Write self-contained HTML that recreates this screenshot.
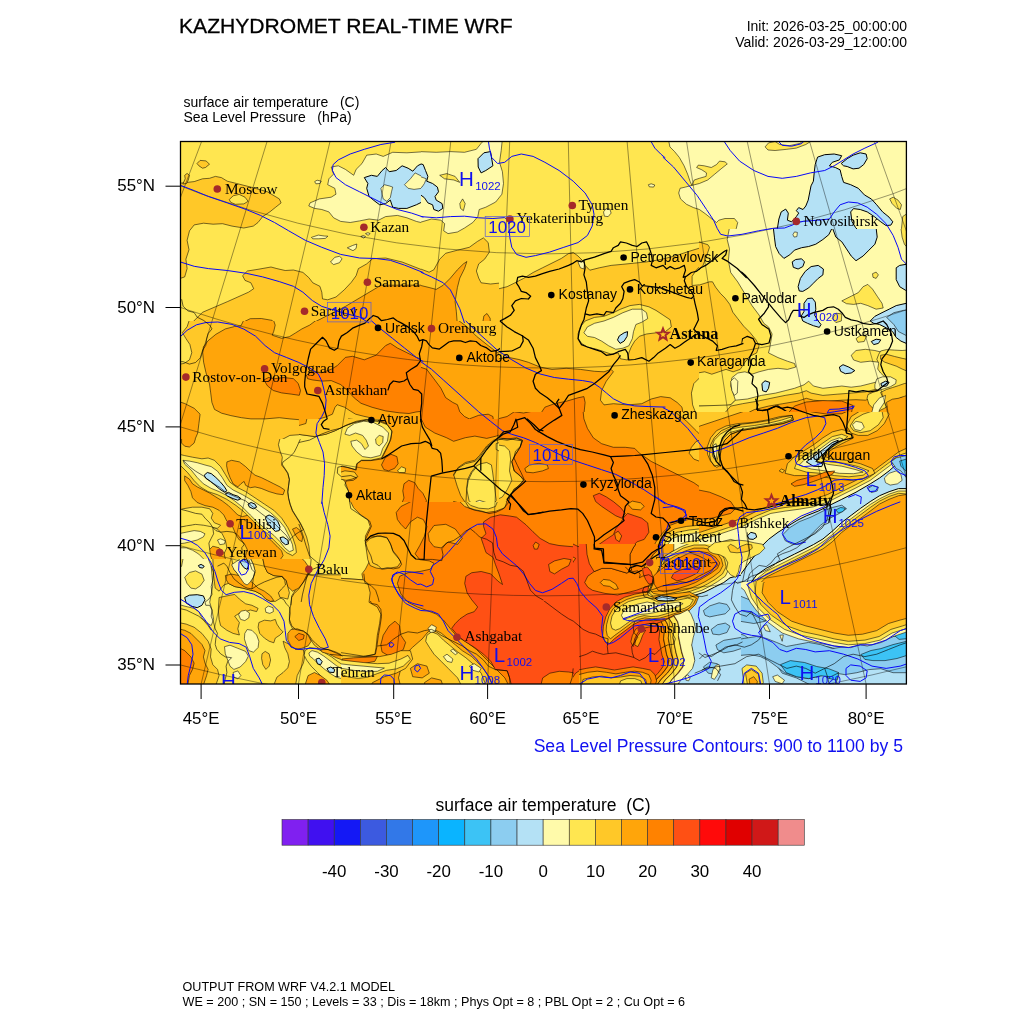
<!DOCTYPE html><html><head><meta charset="utf-8"><title>KAZHYDROMET REAL-TIME WRF</title>
<style>html,body{margin:0;padding:0;background:#fff}svg{display:block}text{font-family:"Liberation Sans",sans-serif;fill:#000}.s{font-family:"Liberation Serif",serif}.b{fill:#1010f0}</style></head><body>
<svg width="1024" height="1024" viewBox="0 0 1024 1024">
<rect width="1024" height="1024" fill="#fff"/>
<defs><clipPath id="mc"><rect x="180.5" y="141.5" width="725.9" height="542.5"/></clipPath></defs>
<g clip-path="url(#mc)">
<rect x="170" y="130" width="750" height="570" fill="#FFC828"/><clipPath id="t1"><rect x="179" y="140" width="244" height="183"/></clipPath><g clip-path="url(#t1)" stroke="#000" stroke-width="0.55" stroke-linejoin="round"><rect x="178.5" y="139.5" width="245" height="184" fill="#FFE650" stroke="none"/><polygon fill="#FFC828" points="177.6,183.5 187.1,182.4 194.2,181.6 202.5,178.8 209.5,178.3 215.4,176.4 221.4,177.6 227.3,181.2 236.7,183.5 250.9,187.1 267.4,191.8 279.3,198.9 281.1,202.9 275.7,207.2 269.8,211.9 262.7,216.6 258.0,222.5 253.3,226.1 243.8,228.0 232.0,226.1 222.5,223.7 213.1,224.2 203.6,223.2 194.2,224.9 189.5,230.8 187.1,240.3 189.0,249.7 185.9,259.2 187.1,268.6 184.7,276.9 177.6,279.3"/><polygon fill="#FFE650" points="229.2,199.6 233.2,195.8 239.1,194.4 245.0,197.2 248.1,201.3 243.8,203.9 235.5,204.3 230.8,202.4"/><polygon fill="#FFC828" points="197.0,163.5 200.1,160.4 206.0,160.9 209.5,164.2 205.5,167.5 202.5,168.2 198.9,165.8"/><polygon fill="#FFC828" points="182.8,184.0 185.2,178.8 184.7,175.3 187.1,173.4 189.5,175.3 188.3,180.0 186.6,183.5"/><polygon fill="#FFFAAA" points="425.8,151.6 406.9,152.8 392.7,152.3 383.2,156.4 376.2,154.0 366.7,155.2 362.0,163.5 356.1,169.4 353.7,175.3 345.4,169.4 338.3,165.8 331.2,167.0 333.6,174.1 328.9,178.8 327.7,184.7 334.8,188.3 336.0,194.2 331.2,197.2 319.4,198.9 310.0,202.9 308.8,206.0 314.7,208.4 321.8,209.5 328.9,211.9 333.6,217.8 340.7,221.4 350.2,222.5 359.6,220.9 369.1,219.0 378.5,220.2 385.6,216.6 397.4,215.4 406.9,217.8 416.3,221.4 425.8,223.7"/><polygon fill="#B4E1F5" stroke-width="1" points="364.3,177.6 371.4,175.3 377.3,176.4 382.1,170.5 385.6,167.5 389.2,171.7 396.2,170.5 402.1,165.8 408.1,168.2 412.8,171.2 417.5,165.8 422.0,163.5 425.8,163.5 425.8,202.4 422.0,202.0 416.3,204.8 406.9,208.4 398.6,208.4 392.7,207.2 390.3,200.1 385.6,203.6 379.7,204.8 375.0,201.3 369.1,196.5 366.7,188.3 367.9,183.5"/><polygon fill="#FFFAAA" points="380.9,188.3 384.4,184.7 389.2,185.9 392.7,187.1 391.5,191.8 390.3,197.7 386.8,201.3 383.2,198.9 382.1,194.2"/><polygon fill="#FFFAAA" points="404.5,184.7 410.4,178.8 415.1,172.9 422.0,176.4 425.8,176.4 425.8,188.3 422.0,188.3 414.0,189.4 408.1,188.3"/><polygon fill="#FFFAAA" points="314.7,181.6 317.1,180.2 321.3,181.2 319.9,183.5 315.9,183.8"/><polygon fill="#FFFAAA" points="311.4,237.4 318.3,235.1 324.2,236.0 327.9,236.2 325.3,238.4 318.3,238.8 312.8,238.8"/><polygon fill="#FFFAAA" points="347.3,247.8 352.5,245.5 356.8,244.0 356.1,248.5 353.0,250.7"/><polygon fill="#FFFAAA" points="330.5,262.0 334.8,257.3 339.5,256.3 342.1,258.7 339.5,262.7 333.6,264.6"/><polygon fill="#FFFAAA" points="360.8,236.5 363.2,235.5 365.5,236.5 363.9,238.1"/><polygon fill="#FFFAAA" points="365.5,233.6 367.9,232.7 370.2,233.6 368.1,235.3"/><polygon fill="#FFC828" points="189.5,325.3 202.5,312.3 227.3,301.7 248.5,292.2 253.7,288.7 250.9,282.8 245.0,280.4 242.6,275.7 247.4,271.0 258.0,269.3 271.0,267.0 276.9,268.6 285.2,270.5 293.4,270.0 302.9,272.4 308.8,277.6 312.8,282.8 319.9,286.3 321.8,292.2 322.5,298.9 327.7,299.8 336.0,297.0 344.2,289.9 351.3,282.3 356.1,275.7 358.4,268.6 366.7,263.9 372.6,258.7 385.6,258.0 402.1,262.0 422.0,269.8 425.8,269.8 425.8,325.3"/><polygon fill="#FFA50A" points="307.6,325.3 314.7,322.0 345.4,306.4 381.1,285.2 422.0,285.2 425.8,285.2 425.8,325.3"/><polygon fill="#FFA50A" points="242.6,325.3 244.0,321.8 250.2,318.7 261.3,318.5 272.2,320.4 275.2,325.3"/></g><clipPath id="t2"><rect x="421" y="140" width="244" height="183"/></clipPath><g clip-path="url(#t2)" stroke="#000" stroke-width="0.55" stroke-linejoin="round"><rect x="420.5" y="139.5" width="245" height="184" fill="#FFE650" stroke="none"/><polygon fill="#FFFAAA" points="419.6,151.6 436.2,152.3 450.4,151.6 464.5,152.3 476.4,149.3 481.1,143.4 485.8,138.6 502.4,138.6 501.2,150.5 499.5,162.3 502.4,171.7 503.5,183.5 501.9,194.2 495.7,202.0 485.8,207.2 479.2,209.5 477.8,216.6 472.8,222.5 464.5,228.0 457.4,232.0 448.0,233.6 443.7,230.8 444.7,223.7 440.9,220.2 431.5,219.0 419.6,222.5"/><polygon fill="#B4E1F5" stroke-width="1" points="419.6,163.5 423.2,164.6 425.5,170.5 427.9,176.4 426.7,181.2 432.6,183.5 437.4,187.1 438.5,191.8 435.0,196.5 436.2,200.1 442.1,203.6 442.8,208.4 438.5,211.2 433.8,209.5 432.6,204.8 427.9,202.9 424.4,197.7 419.6,194.2"/><polygon fill="#FFFAAA" points="419.6,176.4 423.2,177.6 426.3,178.8 424.4,183.5 422.0,187.1 419.6,188.3"/><polygon fill="#B4E1F5" stroke-width="1" points="478.0,158.7 483.9,152.8 490.5,151.6 492.9,165.8 485.8,170.5 481.1,172.9 478.2,167.0"/><polygon fill="#FFE650" points="439.7,175.3 446.8,173.6 455.1,176.4 459.8,182.4 453.9,180.0 444.5,178.8"/><polygon fill="#FFE650" points="459.8,203.6 462.6,198.9 465.2,203.6 463.4,210.7 460.5,208.4"/><polygon fill="#FFFAAA" points="603.5,211.9 606.3,208.4 609.9,209.1 611.1,213.1 608.2,216.6 604.4,216.2"/><polygon fill="#FFFAAA" points="648.4,184.7 651.2,183.8 654.8,185.0 653.6,187.1 649.3,186.8"/><polygon fill="#FFC828" points="419.6,268.6 429.1,272.2 433.8,269.8 439.7,259.2 445.6,253.3 457.4,250.2 469.3,247.3 477.5,241.4 483.4,237.9 488.2,242.6 489.4,252.1 484.6,259.2 478.7,263.9 476.4,271.0 478.7,278.1 481.1,282.8 490.5,284.0 502.4,282.8 516.5,284.0 526.0,280.4 533.1,275.7 537.8,269.8 544.9,265.1 554.3,259.2 563.8,254.4 569.7,250.9 575.6,254.4 579.2,259.2 585.1,261.5 587.4,267.4 601.6,265.1 615.8,262.7 627.6,261.5 639.4,262.0 651.2,263.4 667.8,263.9 667.8,325.3 419.6,325.3"/><polygon fill="#FFFAAA" points="576.8,262.7 582.7,260.3 586.2,263.9 585.1,269.8 580.3,269.8"/><polygon fill="#FFA50A" points="419.6,285.2 429.1,287.5 436.2,289.4 443.3,285.2 450.4,278.1 457.4,269.8 463.4,263.9 466.9,261.5 464.5,268.6 459.8,278.1 457.4,287.5 455.1,301.7 456.3,311.2 457.4,325.3 419.6,325.3"/><polygon fill="#FFA50A" points="482.3,325.3 483.9,315.9 487.0,313.5 490.1,318.2 490.5,325.3"/><polygon fill="#FFE650" points="587.4,325.3 592.2,317.1 606.3,314.7 618.2,311.2 627.6,306.4 639.4,304.1 648.9,304.1 658.3,306.4 664.0,310.0 667.8,311.2 667.8,325.3"/><polygon fill="#FFFAAA" points="620.5,325.3 622.9,317.1 632.3,312.3 641.8,309.3 648.9,310.0 652.4,314.7 658.3,317.1 664.0,318.2 667.8,318.2 667.8,325.3"/></g><clipPath id="t3"><rect x="663" y="140" width="244" height="183"/></clipPath><g clip-path="url(#t3)" stroke="#000" stroke-width="0.55" stroke-linejoin="round"><rect x="662.5" y="139.5" width="245" height="184" fill="#FFFAAA" stroke="none"/><polygon fill="#FFE650" points="661.6,138.6 668.3,138.6 669.9,146.9 674.6,151.6 679.4,157.5 684.1,165.8 687.6,174.1 690.0,181.2 691.9,185.4 699.4,183.5 707.7,180.0 714.8,174.1 721.9,168.2 727.3,163.9 725.0,161.8 719.5,161.1 716.5,164.6 711.3,167.5 704.2,165.8 698.3,165.1 696.6,167.5 701.8,169.8 706.5,172.9 706.1,176.4 699.4,178.3 694.2,180.0 691.9,185.4 685.3,187.1 680.1,188.3 678.7,193.0 680.5,198.9 686.5,204.3 693.5,207.6 699.4,209.5 705.4,213.8 711.3,218.5 716.5,222.5 718.8,220.2 725.0,218.5 734.4,218.5 737.7,222.5 736.3,228.4 733.0,233.6 728.3,236.2 727.3,241.2 732.8,245.0 732.8,251.4 729.7,260.6 728.0,268.4 731.4,276.2 737.5,280.9 740.6,287.3 743.6,295.1 748.4,304.3 751.7,312.1 756.2,318.5 759.9,326.3 661.6,326.3"/><polygon fill="#FFC828" points="661.6,257.5 678.2,252.8 693.8,248.1 707.7,244.7 709.4,247.3 706.3,257.5 703.0,265.3 696.8,271.7 692.1,276.2 692.1,285.6 699.9,284.7 709.4,281.6 712.4,281.6 715.5,287.3 720.2,293.4 725.0,298.2 729.7,304.3 732.8,312.1 737.5,318.5 743.6,326.3 661.6,326.3"/><polygon fill="#B4E1F5" stroke-width="1" points="817.6,157.1 824.7,154.7 834.2,154.0 841.7,155.7 839.4,159.9 832.3,162.3 829.4,165.8 835.3,167.5 840.1,169.8 841.7,176.4 843.6,182.4 850.7,184.7 858.3,188.3 864.4,194.9 871.5,199.1 876.7,204.8 882.6,211.9 889.0,217.1 892.8,221.8 890.9,225.1 886.1,225.6 880.2,221.4 874.3,216.6 867.2,211.9 860.2,209.5 853.5,208.6 850.7,211.9 851.9,221.4 855.4,227.3 860.6,233.2 867.7,234.3 875.5,232.7 877.9,236.0 875.5,243.1 869.6,249.7 864.4,254.9 857.8,259.2 851.9,260.3 848.3,256.8 847.2,249.7 843.6,243.1 837.7,239.1 832.3,236.7 829.4,233.2 824.7,232.2 817.6,235.5 811.0,240.3 803.4,245.0 795.4,249.7 788.5,251.6 785.7,256.8 779.8,259.6 775.5,256.8 776.5,250.9 774.1,245.0 775.1,237.9 777.4,228.4 778.9,219.0 781.2,211.9 785.7,209.1 788.3,213.1 787.4,220.2 791.6,221.8 796.3,216.6 798.7,213.1 796.3,210.7 798.7,207.6 803.0,209.5 805.8,206.0 808.2,200.1 809.6,193.0 811.0,185.9 813.4,181.2 814.3,171.7 815.2,164.6 816.7,159.9"/><polygon fill="#FFFAAA" points="792.8,235.5 795.2,232.0 798.2,232.7 796.8,237.4 793.5,237.9"/><polygon fill="#B4E1F5" stroke-width="1" points="841.2,163.5 847.2,158.7 853.1,155.2 860.2,152.8 866.1,154.0 867.2,158.7 863.7,164.6 859.0,168.2 853.1,168.9 847.2,166.5 843.6,165.8"/><polygon fill="#B4E1F5" stroke-width="1" points="792.8,263.9 796.3,259.9 802.3,258.7 804.9,261.5 802.3,266.3 797.5,269.1 794.0,267.4"/><polygon fill="#B4E1F5" stroke-width="1" points="799.2,285.2 801.1,278.1 805.8,272.2 811.7,267.4 817.6,265.8 820.0,269.8 823.5,271.0 821.9,276.9 815.2,280.4 810.5,285.2 805.8,288.7 801.1,291.1"/><polygon fill="#B4E1F5" stroke-width="1" points="805.3,306.4 807.0,300.5 810.5,297.4 814.1,299.3 814.8,306.4 813.4,315.9 815.2,325.3 805.8,325.3 805.3,315.9"/><polygon fill="#B4E1F5" stroke-width="1" points="909.8,262.7 902.7,265.1 898.0,269.8 896.8,278.1 899.1,285.2 902.7,288.7 909.8,289.9"/><polygon fill="#B4E1F5" stroke-width="1" points="872.0,325.3 876.7,317.1 883.8,311.2 892.1,306.4 900.3,304.1 905.1,299.3 909.8,292.2 909.8,325.3"/><polygon fill="#8CCDF0" points="892.1,325.3 894.4,317.1 900.3,311.2 906.0,310.0 909.8,310.0 909.8,325.3"/><polygon fill="#FFE650" points="765.1,146.9 768.5,142.9 775.1,141.5 779.8,144.5 789.3,145.7 799.9,143.4 805.8,138.6 815.2,138.6 805.8,144.5 796.3,148.1 786.9,149.3 775.1,150.5 768.0,150.0"/><polygon fill="#FFE650" points="889.7,198.9 893.2,197.2 898.0,200.1 901.5,204.8 900.3,209.5 896.8,208.4 892.1,203.6"/><polygon fill="#FFE650" points="902.7,216.6 906.0,214.3 909.8,214.3 909.8,245.0 903.9,245.0 900.3,237.9 901.5,228.4"/><polygon fill="#FFE650" points="840.1,302.9 847.2,299.3 853.1,294.6 857.8,294.1 856.6,301.7 853.1,305.2 846.0,304.5"/><polygon fill="#FFE650" points="857.8,292.2 861.3,287.5 867.2,284.0 872.0,288.7 875.5,294.6 880.2,300.5 882.6,306.4 877.9,309.3 869.6,306.4 863.7,302.9 861.3,298.2"/><polygon fill="#FFE650" points="872.4,274.5 875.5,272.2 878.6,274.5 876.7,278.5 873.9,277.6"/></g><clipPath id="t4"><rect x="179" y="321" width="244" height="183"/></clipPath><g clip-path="url(#t4)" stroke="#000" stroke-width="0.55" stroke-linejoin="round"><rect x="178.5" y="320.5" width="245" height="184" fill="#FFC828" stroke="none"/><polygon fill="#FFA50A" points="244.0,319.6 241.0,325.8 234.6,326.5 225.4,328.9 215.9,334.3 208.1,340.7 203.4,346.8 202.7,352.7 203.6,362.2 206.0,372.8 209.5,383.9 210.7,392.9 211.9,402.4 214.5,409.4 221.6,413.2 230.8,415.6 241.4,417.7 250.9,418.9 265.1,418.9 279.3,417.7 289.9,418.9 298.2,419.6 306.4,421.0 317.3,419.6 325.6,417.0 332.4,414.2 335.0,407.3 337.2,404.7 344.7,407.3 350.2,410.9 355.6,414.2 363.9,416.3 369.3,417.5 376.2,421.3 385.6,426.0 388.0,435.4 383.2,454.3 378.5,457.9 366.7,457.9 359.6,460.3 354.9,463.8 353.7,473.2 359.6,480.3 361.0,485.3 351.6,487.9 347.3,489.3 348.7,493.6 350.2,499.0 350.9,506.3 425.8,506.3 425.8,319.6 317.1,319.6 309.7,325.1 301.9,328.9 295.6,332.9 289.4,336.7 281.6,338.3 272.2,335.2 273.8,331.2 275.2,325.1 273.3,319.6"/><polygon fill="#FF8200" points="263.9,379.9 268.6,377.5 274.5,378.7 284.0,377.5 293.4,378.7 298.2,383.4 300.5,390.5 299.3,395.3 291.1,394.1 281.6,392.9 273.3,390.5 267.4,385.8"/><polygon fill="#FF8200" points="306.4,375.2 312.3,371.2 321.8,372.8 331.2,369.3 337.2,365.7 345.4,357.4 352.5,356.3 364.3,359.8 376.2,355.1 385.6,345.6 390.3,343.3 397.4,348.0 406.9,352.7 416.3,357.4 425.8,361.0 425.8,411.3 421.3,411.3 415.9,412.0 409.0,413.5 399.3,412.8 385.6,410.9 372.1,407.3 361.0,403.3 354.2,397.9 347.3,390.3 340.7,384.6 331.2,380.6 321.8,381.1 312.3,379.9 307.6,378.7"/><polygon fill="#FF8200" points="381.3,465.4 385.7,462.0 387.8,456.6 391.9,454.5 396.0,455.2 398.7,460.7 396.6,464.8 394.6,468.9 391.2,471.6 385.7,470.2 382.3,468.2"/><polygon fill="#FFE650" points="396.4,470.9 400.7,468.2 404.8,466.8 405.9,470.2 404.2,473.0 399.4,473.0"/><polygon fill="#FF8200" points="402.1,486.6 406.2,481.2 410.3,480.5 414.4,485.3 418.5,490.7 423.3,497.6 426.7,507.1 404.2,507.1 403.5,496.2"/><polygon fill="#FFC828" points="337.9,474.3 342.0,473.0 348.8,474.3 354.3,475.7 359.7,481.2 361.8,486.0 355.6,487.3 350.2,489.4 347.4,488.0 344.7,482.5 340.6,479.8"/><polygon fill="#FFE650" points="286.3,506.3 289.2,494.5 290.6,485.1 287.5,475.6 285.2,466.2 281.6,462.6 277.4,454.3 278.1,446.1 282.1,439.5 289.9,435.4 302.4,434.5 314.7,434.0 322.7,431.2 328.2,429.3 335.0,426.5 341.9,423.6 344.7,421.0 348.7,418.9 354.2,419.6 362.4,419.8 369.3,419.6 377.6,422.4 385.6,425.0 391.3,429.3 391.8,434.7 390.6,441.6 387.7,448.4 384.4,453.9 385.6,457.9 383.0,461.9 377.6,458.6 366.5,458.6 359.6,460.7 355.6,464.7 350.2,467.6 344.7,464.7 337.9,461.9 336.4,467.6 339.3,474.4 344.7,481.0 347.3,489.3 348.7,493.6 350.2,499.0 350.9,507.0"/><polygon fill="#FFFAAA" points="344.7,427.2 350.2,423.8 358.4,421.7 366.6,422.4 372.0,425.1 377.5,429.2 383.0,432.0 385.7,437.4 385.7,444.3 384.3,451.1 380.2,455.2 372.0,457.2 363.8,457.2 358.4,453.8 354.3,451.1 351.5,448.4 349.5,445.6 352.2,442.2 355.6,442.9 359.7,447.0 363.8,449.7 365.2,447.0 362.5,442.9 361.1,437.4 358.4,433.3 352.9,431.3 347.4,429.9"/><polygon fill="#FFE650" points="374.5,440.2 376.8,437.1 379.6,436.7 380.2,440.2 378.9,444.3 375.4,445.6"/><polygon fill="#FFA50A" points="177.6,401.2 184.7,403.5 194.2,408.3 200.1,414.2 198.9,423.6 197.7,433.1 194.2,441.3 187.1,446.1 177.6,447.3"/><polygon fill="#FFE650" points="177.6,455.5 185.9,459.1 195.4,461.4 203.6,459.5 209.5,463.8 219.0,469.7 227.3,475.6 235.5,483.9 243.8,488.6 250.9,494.5 258.0,501.6 261.5,506.3 227.3,506.3 215.4,496.9 203.6,487.4 194.2,479.2 187.1,473.2 177.6,466.2"/><polygon fill="#FFFAAA" points="184.7,463.8 191.8,462.6 201.3,466.2 210.7,469.7 219.0,475.6 227.3,482.7 236.7,489.8 243.8,495.7 248.5,501.6 246.2,505.2 236.7,501.6 227.3,495.7 217.8,487.4 208.4,480.3 198.9,474.4 189.5,468.5"/><polygon fill="#B4E1F5" stroke-width="1" points="204.8,474.4 209.5,472.8 215.4,476.8 221.4,482.7 227.3,488.6 234.4,493.3 241.4,498.1 239.1,500.4 232.0,498.1 224.9,493.3 217.8,487.4 210.7,481.5 206.0,478.0"/><polygon fill="#FFA50A" points="226.1,463.8 230.8,461.0 239.1,461.4 246.2,465.0 250.9,473.2 258.0,478.0 267.4,482.7 276.9,487.4 284.0,491.0 285.2,494.5 279.3,495.7 269.8,493.3 260.4,489.8 250.9,487.4 243.8,485.1 239.1,487.4 233.2,482.7 228.4,475.6 226.1,469.7"/><polygon fill="#FFE650" points="177.6,319.6 189.5,319.6 187.1,326.7 182.4,332.6 185.9,338.5 189.9,344.5 191.8,352.7 189.5,359.8 184.3,363.4 177.6,364.5"/></g><clipPath id="t5"><rect x="421" y="321" width="244" height="183"/></clipPath><g clip-path="url(#t5)" stroke="#000" stroke-width="0.55" stroke-linejoin="round"><rect x="420.5" y="320.5" width="245" height="184" fill="#FFA50A" stroke="none"/><polygon fill="#FFC828" points="457.4,319.6 466.9,326.7 476.4,336.2 488.2,345.6 497.6,352.7 509.4,356.3 521.3,357.4 533.1,359.8 542.5,364.5 549.6,365.7 559.1,364.5 568.5,362.2 582.7,362.2 596.9,364.5 604.0,368.1 608.7,370.4 611.1,372.8 606.3,378.7 601.6,385.8 600.4,395.3 601.6,401.2 611.1,403.5 625.2,401.2 634.7,400.0 644.1,396.4 653.6,395.3 664.0,396.4 667.8,396.4 667.8,319.6"/><polygon fill="#FF8200" points="419.6,366.9 426.7,369.3 433.8,378.7 440.9,388.2 445.6,397.6 452.7,402.4 457.4,404.7 459.8,411.8 464.5,416.5 469.3,418.9 478.7,415.3 488.2,414.2 492.9,416.5 494.1,426.0 492.9,430.7 497.6,429.5 504.7,423.6 511.8,416.5 515.3,413.0 516.5,417.7 526.0,416.5 535.4,414.2 542.5,409.4 549.6,405.9 556.7,404.7 563.8,402.4 573.2,401.2 579.2,398.8 583.9,396.4 585.1,402.4 583.9,411.8 585.1,421.3 587.4,428.3 592.2,435.4 599.2,442.5 608.7,446.1 618.2,448.4 630.0,448.4 637.1,449.6 638.2,453.2 644.1,456.7 651.2,461.4 658.3,463.8 667.8,466.2 667.8,506.3 511.8,506.3 514.2,496.9 516.5,487.4 521.3,482.7 523.6,478.0 518.9,473.2 516.5,463.8 511.8,459.1 513.0,449.6 518.9,444.9 521.3,440.2 511.8,437.8 502.4,436.6 495.3,439.0 488.2,440.2 481.1,439.0 474.0,437.8 464.5,436.6 457.4,439.0 448.0,441.3 436.2,437.8 426.7,433.1 419.6,429.5"/><polygon fill="#FFC828" points="492.9,442.5 502.4,439.0 511.8,438.3 521.3,440.2 518.9,444.9 513.0,449.6 511.8,459.1 516.5,463.8 518.9,473.2 523.6,478.0 521.3,482.7 516.5,487.4 514.2,496.9 509.4,506.3 464.5,506.3 462.2,496.9 459.8,487.4 457.4,482.7 465.7,475.6 472.8,466.2 478.7,459.1 484.6,450.8 489.4,446.1"/><polygon fill="#FFE650" points="469.3,506.3 466.9,496.9 465.7,487.4 468.1,478.0 472.8,468.5 477.5,462.6 484.6,461.4 490.5,466.2 492.9,475.6 497.6,482.7 504.7,487.4 509.4,492.2 511.8,498.1 508.3,506.3"/><polygon fill="#FFC828" points="524.8,469.7 528.3,465.7 535.4,463.3 544.9,462.9 548.4,465.0 546.1,469.0 539.0,472.1 530.7,473.2 526.0,472.8"/><polygon fill="#FFC828" points="519.4,405.2 522.4,404.2 526.0,405.2 523.1,406.6"/><polygon fill="#FFC828" points="529.5,405.2 531.9,404.2 534.5,405.2 532.1,406.4"/><polygon fill="#FF5014" points="593.3,498.1 596.9,494.0 602.8,494.5 608.7,498.8 614.6,503.0 618.2,506.3 594.5,506.3"/><polygon fill="#FFE650" points="576.8,319.6 578.0,329.1 579.2,338.5 582.7,345.6 587.4,349.2 596.9,351.5 606.3,353.9 615.8,355.1 622.9,359.8 629.5,361.0 630.4,352.7 634.7,345.6 640.6,336.2 643.0,319.6"/><polygon fill="#FFFAAA" points="582.7,319.6 583.9,329.1 587.4,335.0 596.9,339.7 606.3,345.6 613.4,351.5 620.5,350.4 627.6,345.6 632.3,338.5 635.9,331.5 638.2,319.6"/><polygon fill="#B4E1F5" stroke-width="1" points="617.7,340.9 619.3,335.0 624.1,331.9 628.1,331.5 627.6,336.2 624.1,342.1 620.5,344.5"/></g><clipPath id="t6"><rect x="663" y="321" width="123" height="93"/></clipPath><g clip-path="url(#t6)" stroke="#000" stroke-width="0.55" stroke-linejoin="round"><rect x="662.5" y="320.5" width="124" height="94" fill="#FFC828" stroke="none"/><polygon fill="#FFE650" points="684.7,414.2 685.3,410.6 687.6,407.1 692.4,405.9 695.9,403.5 695.9,397.6 692.4,392.9 691.8,388.2 694.7,383.4 699.4,382.3 704.2,381.1 705.4,377.5 701.8,374.0 699.4,370.4 701.8,368.7 705.4,369.3 710.1,372.2 713.6,372.2 717.2,369.3 719.5,367.5 716.0,365.7 711.3,362.2 707.7,357.4 708.3,352.7 713.6,348.6 719.5,344.5 725.4,340.9 730.2,340.9 733.7,343.3 737.3,346.8 746.7,348.6 756.2,349.8 764.4,348.6 768.0,345.6 765.6,340.9 760.9,337.4 756.2,333.8 751.4,330.3 746.7,325.5 742.0,323.2 739.6,320.8 786.9,320.8 786.9,414.2"/><polygon fill="#FFC828" points="734.9,414.2 739.6,409.4 746.7,407.1 753.8,406.5 758.5,404.7 765.6,403.5 772.7,401.2 779.8,398.8 786.9,397.6 786.9,414.2"/><polygon fill="#FFA50A" points="760.9,414.2 765.6,410.6 772.7,409.4 779.8,408.9 786.9,407.7 786.9,414.2"/><polygon fill="#FFFAAA" points="731.9,376.4 734.9,374.0 737.3,377.5 739.6,381.1 743.2,377.5 746.7,372.8 750.3,371.0 755.0,369.3 760.9,366.9 766.8,365.1 772.7,366.9 777.4,370.4 782.2,371.6 785.0,369.3 786.9,369.3 786.9,377.5 782.2,378.7 781.0,383.4 777.4,387.0 779.8,391.7 775.1,394.1 770.3,396.4 765.6,398.8 758.5,398.8 751.4,397.6 746.7,395.9 742.0,398.8 737.3,401.2 733.7,397.6 732.5,391.7 733.1,385.8 731.9,381.1"/><polygon fill="#FFFAAA" points="770.3,320.8 772.7,326.7 770.3,331.5 772.7,337.4 776.3,343.3 781.0,346.8 782.2,352.7 784.5,358.6 786.9,361.0 786.9,320.8"/><polygon fill="#FFFAAA" points="724.9,355.1 726.6,353.0 730.2,352.5 732.5,354.5 730.8,356.9 727.2,357.7"/><polygon fill="#B4E1F5" stroke-width="1" points="762.7,381.1 764.4,380.5 769.8,383.4 768.0,388.2 766.8,391.7 762.7,391.1 762.1,385.8"/><polygon fill="#FFA50A" points="662.8,397.6 668.7,396.4 674.6,394.7 679.4,395.3 682.3,397.6 680.5,401.2 677.0,404.7 675.2,409.4 674.6,414.2 662.8,414.2"/></g><clipPath id="t7"><rect x="784" y="321" width="123" height="93"/></clipPath><g clip-path="url(#t7)" stroke="#000" stroke-width="0.55" stroke-linejoin="round"><rect x="783.5" y="320.5" width="124" height="94" fill="#FFFAAA" stroke="none"/><polygon fill="#FFE650" points="783.8,381.1 789.7,384.6 795.6,388.2 801.5,391.7 806.3,388.2 808.0,381.1 811.0,379.3 815.7,381.1 822.8,383.4 829.9,384.6 835.8,386.4 839.9,389.9 839.4,392.9 844.1,391.7 851.2,390.5 858.3,388.2 861.8,386.4 866.5,383.4 864.8,381.1 868.9,378.7 874.8,376.4 879.5,374.0 883.1,371.6 881.9,366.9 880.7,362.2 879.5,357.4 881.3,353.3 885.4,351.0 891.3,349.8 898.4,349.8 907.9,349.2 907.9,414.2 783.8,414.2"/><polygon fill="#FFC828" points="783.8,391.7 789.7,392.9 796.8,394.3 802.7,392.9 808.6,390.5 813.4,391.1 819.3,394.1 826.4,395.9 834.6,396.7 841.7,395.9 848.8,394.7 855.9,394.1 863.0,393.5 867.7,392.9 866.5,398.8 867.7,404.7 872.4,404.7 879.5,400.0 885.4,397.6 891.3,394.1 897.3,388.2 896.1,381.1 891.3,376.4 886.6,374.0 884.3,369.3 883.1,363.4 881.9,357.4 883.1,354.5 891.3,353.9 898.4,353.3 907.9,352.7 907.9,414.2 783.8,414.2"/><polygon fill="#FFA50A" points="783.8,404.7 789.7,401.2 796.8,399.4 803.9,400.0 811.0,398.8 818.1,400.0 825.2,400.6 832.3,400.0 839.4,399.4 848.8,398.8 855.9,399.4 861.8,398.8 863.6,403.5 863.0,409.4 861.8,414.2 783.8,414.2"/><polygon fill="#FFA50A" points="886.6,414.2 887.2,407.1 889.0,402.4 893.7,400.0 899.6,397.6 907.9,394.1 907.9,414.2"/><polygon fill="#FFFAAA" points="874.8,383.4 878.3,378.7 884.3,376.9 891.3,376.4 896.1,378.7 896.7,382.3 891.3,385.8 885.4,388.2 879.5,389.4 876.0,388.2"/><polygon fill="#FFFAAA" points="869.5,401.2 871.9,395.3 874.8,391.1 879.5,390.5 880.7,394.1 877.2,398.8 873.6,402.4 870.7,403.5"/><polygon fill="#B4E1F5" stroke-width="1" points="880.7,383.4 884.3,381.7 887.8,381.1 889.6,383.4 885.4,385.2 881.9,384.9"/><polygon fill="#FFE650" points="851.8,356.3 853.5,352.1 858.3,350.1 864.2,351.0 867.7,353.9 870.1,358.6 872.4,363.4 870.1,366.3 865.4,365.7 860.6,364.5 855.9,362.2 852.9,359.8"/><polygon fill="#FFE650" points="857.3,339.7 860.6,336.8 864.4,338.0 863.0,340.9 858.9,341.9"/><polygon fill="#FFE650" points="783.8,363.4 792.1,362.8 796.8,363.9 796.2,366.3 792.1,367.5 783.8,368.1"/><polygon fill="#B4E1F5" stroke-width="1" points="839.4,365.7 841.7,364.3 846.4,365.7 851.2,367.5 854.7,369.0 851.2,371.0 846.4,373.4 842.9,371.6 840.3,368.7"/><polygon fill="#B4E1F5" stroke-width="1" points="871.9,343.3 874.8,340.9 880.7,339.5 879.5,342.1 876.6,344.2 873.0,344.5"/><polygon fill="#B4E1F5" stroke-width="1" points="802.7,320.8 805.1,322.6 809.8,325.0 815.7,326.7 819.3,325.5 820.4,322.6 818.1,320.8"/><polygon fill="#B4E1F5" stroke-width="1" points="871.3,320.8 874.8,324.4 879.5,326.1 883.1,324.4 885.4,322.0 889.0,320.8"/><polygon fill="#B4E1F5" stroke-width="1" points="891.3,320.8 891.9,326.7 891.3,332.6 894.9,338.5 898.4,344.5 903.2,342.1 907.9,339.7 907.9,320.8"/><polygon fill="#8CCDF0" points="898.4,329.1 903.2,327.9 907.9,329.1 907.9,338.5 903.2,339.7 899.6,336.2"/></g><clipPath id="t8"><rect x="663" y="411" width="123" height="93"/></clipPath><g clip-path="url(#t8)" stroke="#000" stroke-width="0.55" stroke-linejoin="round"><rect x="662.5" y="410.5" width="124" height="94" fill="#FFA50A" stroke="none"/><polygon fill="#FFC828" points="675.8,410.8 679.4,417.9 687.6,423.8 694.7,425.9 701.8,422.9 708.9,419.3 714.8,417.3 719.5,419.1 723.1,422.6 727.8,423.8 734.9,421.5 742.0,417.9 749.1,414.4 753.8,410.8"/><polygon fill="#FFE650" points="691.2,410.8 694.7,414.4 700.6,415.5 705.4,413.2 707.7,410.8"/><polygon fill="#FFE650" points="721.9,410.8 724.3,413.8 729.0,415.0 734.9,413.8 739.6,410.8"/><polygon fill="#FFC828" points="688.8,452.2 690.6,446.3 693.5,442.1 699.4,441.0 705.4,439.2 711.3,435.6 716.0,432.1 720.7,427.4 725.4,424.4 730.2,423.8 737.3,422.6 746.7,421.5 753.8,423.2 760.9,423.8 765.6,426.2 770.3,423.8 775.1,422.6 782.2,419.1 786.9,415.5 786.9,426.2 782.2,428.5 776.3,432.1 770.3,430.9 763.3,429.7 756.2,432.1 749.1,433.3 742.0,435.0 734.9,438.0 730.2,441.5 727.8,446.3 723.1,448.6 721.9,453.4 722.5,459.3 721.9,465.2 720.7,469.9 718.4,473.4 713.6,476.4 708.9,476.4 704.2,473.4 699.4,469.9 694.7,465.2 690.6,459.3"/><polygon fill="#FFE650" points="708.3,451.0 709.5,446.3 711.3,442.7 714.8,438.6 719.5,433.3 724.3,428.5 729.0,425.9 734.9,424.4 744.4,423.2 751.4,423.8 758.5,425.0 765.6,424.4 772.7,423.2 779.8,420.9 786.9,417.9 786.9,423.8 781.0,426.2 775.1,428.5 768.0,428.0 760.9,427.4 753.8,428.0 746.7,427.4 739.6,428.5 734.9,429.7 730.2,433.3 726.6,438.0 723.1,442.7 720.7,447.4 720.1,453.4 720.7,459.3 719.5,464.0 716.0,465.8 712.4,462.8 709.5,458.1"/><polygon fill="#FFFAAA" points="710.1,452.2 710.7,447.4 712.4,443.9 716.0,443.3 718.4,446.3 717.8,451.0 716.0,454.5 716.6,459.3 715.4,461.6 713.0,460.4 711.3,456.9"/><polygon fill="#FF8200" points="662.8,468.7 668.7,471.1 675.8,474.6 682.9,477.0 690.0,479.4 695.9,481.7 699.4,485.3 704.2,487.6 711.3,488.8 716.0,491.2 720.7,494.7 725.4,499.4 727.8,504.2 662.8,504.2"/><polygon fill="#FFC828" points="778.4,471.1 780.4,469.3 783.3,469.9 783.9,471.7 781.6,472.9 779.2,472.5"/><polygon fill="#FFFAAA" points="770.3,504.2 775.1,501.2 779.8,498.9 785.0,496.5 786.9,495.9 786.9,504.2"/><polygon fill="#B4E1F5" stroke-width="1" points="777.4,504.2 781.0,500.6 785.0,498.9 786.9,498.3 786.9,504.2"/></g><clipPath id="t9"><rect x="784" y="411" width="123" height="93"/></clipPath><g clip-path="url(#t9)" stroke="#000" stroke-width="0.55" stroke-linejoin="round"><rect x="783.5" y="410.5" width="124" height="94" fill="#FFA50A" stroke="none"/><polygon fill="#FFC828" points="783.8,465.2 788.5,456.9 794.5,448.6 802.7,443.3 811.0,438.6 819.3,433.3 826.4,428.0 834.6,425.2 841.7,426.2 847.6,429.7 852.9,437.4 851.2,440.4 844.1,442.7 837.0,446.3 832.3,449.8 846.4,451.0 860.6,452.8 870.1,454.5 867.7,461.6 858.3,462.8 848.8,461.6 840.5,461.0 832.3,461.6 825.2,464.0 816.9,466.4 808.6,467.5 800.4,467.5 792.1,469.9 787.4,473.4 783.8,478.2"/><polygon fill="#FFC828" points="844.1,426.2 846.4,419.1 851.2,414.4 857.1,410.8 887.8,410.8 885.4,419.1 881.9,426.2 876.0,432.1 868.9,435.6 861.8,437.4 854.7,436.8 848.8,433.3 845.3,429.7"/><polygon fill="#FFE650" points="847.6,423.8 849.4,419.1 853.5,415.5 859.4,413.2 865.4,410.8 879.5,410.8 879.5,416.7 877.2,422.6 872.4,428.5 866.5,432.7 860.6,434.5 854.7,433.3 850.0,429.7"/><polygon fill="#FFFAAA" points="851.2,423.8 853.5,420.9 857.1,421.5 860.6,425.0 863.0,429.1 860.6,431.5 857.1,429.7 853.5,427.4"/><polygon fill="#FFC828" points="783.8,414.4 788.5,413.8 793.3,415.5 793.9,419.1 790.9,422.6 787.4,425.0 783.8,426.2"/><polygon fill="#FFFAAA" points="785.6,416.7 788.5,415.5 790.9,417.3 789.7,419.7 786.2,420.3"/><polygon fill="#FFC828" points="851.2,440.4 860.6,439.4 870.1,441.5 879.5,444.5 889.0,446.3 898.4,446.3 907.9,445.1 907.9,504.2 832.3,504.2 834.6,499.4 840.5,494.7 848.8,490.6 855.9,487.6 863.0,485.3 870.1,481.7 874.8,477.0 878.3,472.3 879.5,468.7 874.8,464.0 870.1,459.3 867.7,454.5 860.6,452.8 855.9,447.4 851.2,443.9"/><polygon fill="#FFA50A" points="864.2,443.0 867.7,439.8 879.5,438.6 891.3,435.6 907.9,432.1 907.9,440.4 898.4,443.3 889.0,445.1 879.5,446.3 870.1,445.7"/><polygon fill="#FFE650" points="860.6,451.0 870.1,449.8 879.5,448.6 891.3,448.0 907.9,447.4 907.9,504.2 841.7,504.2 844.1,498.3 851.2,493.5 858.3,490.0 865.4,487.6 872.4,484.1 878.3,479.4 880.7,474.6 879.5,469.9 876.0,465.2 871.3,460.4 867.7,455.7"/><polygon fill="#FFFAAA" points="867.7,452.8 874.8,451.6 884.3,451.6 893.7,452.2 907.9,452.2 907.9,504.2 851.2,504.2 853.5,499.4 858.3,494.7 865.4,491.2 872.4,488.8 879.5,485.3 884.3,480.5 885.4,475.8 883.1,469.9 879.5,465.2 874.8,459.3 871.3,455.7"/><polygon fill="#B4E1F5" stroke-width="1" points="870.1,455.7 877.2,453.9 886.6,454.5 896.1,455.7 907.9,455.1 907.9,494.7 903.2,493.5 898.4,487.6 894.9,482.9 891.3,478.2 893.7,473.4 891.3,468.7 886.6,464.0 881.9,459.3 876.0,457.5"/><polygon fill="#B4E1F5" stroke-width="1" points="855.9,504.2 859.4,498.3 865.4,494.7 872.4,492.4 879.5,490.0 886.6,487.6 891.3,485.3 896.1,487.6 900.8,492.4 907.9,494.7 907.9,504.2"/><polygon fill="#FFFAAA" points="881.9,468.7 886.6,467.5 891.3,469.9 894.9,473.4 896.1,478.2 898.4,482.9 896.1,486.4 891.3,487.6 886.6,486.4 884.3,482.9 887.8,479.4 889.0,475.8 886.6,472.3"/><polygon fill="#8CCDF0" points="891.3,461.6 896.1,458.7 903.2,457.5 907.9,458.1 907.9,478.2 903.2,475.8 898.4,471.1 893.7,466.4"/><polygon fill="#3CC3F5" points="896.7,461.6 900.8,459.9 907.9,460.4 907.9,468.7 902.0,467.5 898.4,465.2"/><polygon fill="#8CCDF0" points="866.5,488.8 870.1,486.4 874.8,485.9 878.3,487.6 877.2,491.2 872.4,492.9 867.7,492.4"/><polygon fill="#8CCDF0" points="841.7,504.2 846.4,499.4 853.5,496.5 859.4,495.3 860.6,498.3 857.1,501.8 854.7,504.2"/><polygon fill="#FFFAAA" points="860.6,504.2 867.7,499.4 877.2,496.5 886.6,494.7 896.1,493.5 907.9,493.5 907.9,504.2"/><polygon fill="#FFE650" points="865.4,504.2 872.4,500.0 881.9,497.7 891.3,496.5 907.9,495.9 907.9,504.2"/><polygon fill="#FFC828" points="879.5,504.2 886.6,500.6 896.1,498.9 907.9,498.3 907.9,504.2"/><polygon fill="#FFE650" points="795.6,461.6 796.8,455.7 801.5,449.8 808.6,445.1 816.9,439.8 824.0,434.5 828.7,430.9 834.6,429.7 840.5,431.5 845.3,435.6 841.7,439.8 835.8,442.7 829.9,446.3 825.2,449.8 832.3,451.6 844.1,452.2 855.9,453.4 866.5,455.1 865.4,459.3 855.9,459.9 844.1,459.3 832.3,459.3 820.4,461.6 808.6,464.0 800.4,465.2"/><polygon fill="#FFFAAA" points="800.4,459.3 802.7,454.5 808.6,449.8 815.7,445.1 822.8,439.8 828.7,435.0 833.4,433.3 838.2,434.5 840.5,437.4 835.8,440.4 829.9,443.3 825.2,446.9 820.4,451.0 826.4,452.8 838.2,453.9 850.0,455.1 860.6,456.3 860.6,458.7 850.0,458.1 838.2,457.5 826.4,458.1 814.5,461.0 805.1,462.2"/><polygon fill="#B4E1F5" stroke-width="1" points="805.1,458.1 807.5,453.4 813.4,449.2 819.3,445.1 825.2,441.0 830.5,436.8 834.6,435.6 837.0,437.4 832.3,441.0 826.4,445.1 821.6,448.6 818.1,452.2 824.0,454.5 822.8,458.1 816.9,459.3 809.8,460.4"/><polygon fill="#FF8200" points="790.9,481.7 796.8,478.2 803.9,475.8 811.0,473.4 820.4,471.1 829.9,469.9 834.6,471.1 832.3,474.6 825.2,478.2 818.1,480.5 811.0,482.9 803.9,485.3 796.8,486.4 792.1,485.3"/><polygon fill="#FFE650" points="813.4,494.7 816.9,490.0 824.0,487.6 832.3,485.3 839.4,482.9 846.4,481.7 848.8,484.1 844.1,488.8 837.0,492.4 832.3,497.1 829.9,504.2 808.6,504.2"/><polygon fill="#FFFAAA" points="816.9,494.7 820.4,491.2 826.4,489.4 832.3,488.8 833.4,493.5 831.1,498.3 828.7,504.2 815.7,504.2"/></g><clipPath id="t10"><rect x="179" y="502" width="244" height="183"/></clipPath><g clip-path="url(#t10)" stroke="#000" stroke-width="0.55" stroke-linejoin="round"><rect x="178.5" y="501.5" width="245" height="184" fill="#FFC828" stroke="none"/><polygon fill="#FFE650" points="177.6,526.6 189.5,524.3 201.3,519.5 208.4,526.6 213.1,536.1 217.8,543.2 222.5,555.0 227.3,569.2 234.4,581.0 246.2,585.7 258.0,590.4 269.8,597.5 279.3,607.0 286.3,616.4 288.7,628.3 291.1,640.1 295.8,649.5 302.9,656.6 307.6,668.4 302.9,677.9 298.2,687.3 227.3,687.3 224.9,673.2 220.2,656.6 215.4,644.8 208.4,635.3 198.9,630.6 189.5,628.3 177.6,625.9"/><polygon fill="#FFC828" points="220.2,607.0 227.3,602.3 236.7,604.6 239.1,614.1 236.7,625.9 229.6,630.6 222.5,625.9"/><polygon fill="#FFC828" points="260.4,625.9 267.4,621.2 276.9,623.5 281.6,633.0 276.9,642.4 267.4,644.8 261.5,637.7"/><polygon fill="#FFC828" points="261.5,656.6 266.3,651.9 271.0,656.6 269.8,666.1 263.9,667.2"/><polygon fill="#FFC828" points="227.3,581.0 236.7,578.6 246.2,585.7 258.0,590.4 255.6,597.5 246.2,599.9 236.7,595.2 229.6,588.1"/><polygon fill="#FFFAAA" points="177.6,543.2 189.5,545.5 201.3,547.9 208.4,557.4 213.1,569.2 215.4,583.4 214.3,597.5 210.7,609.3 213.1,621.2 203.6,616.4 194.2,611.7 184.7,607.0 177.6,604.6"/><polygon fill="#FFE650" points="184.7,573.9 194.2,571.5 202.5,576.3 203.6,584.5 196.5,588.1 187.1,585.7"/><polygon fill="#B4E1F5" stroke-width="1" points="184.7,597.5 191.8,594.7 201.3,595.2 204.8,599.9 202.5,605.8 194.2,608.2 187.1,605.8"/><polygon fill="#FFFAAA" points="187.1,533.7 196.5,529.0 206.0,531.4 208.4,538.4 201.3,542.0 191.8,540.8"/><polygon fill="#FFFAAA" points="237.9,614.1 242.6,609.3 248.5,610.5 250.4,616.4 246.2,620.7 240.3,620.0"/><polygon fill="#FFFAAA" points="244.3,637.7 248.5,629.4 255.6,631.8 260.4,642.4 258.0,650.7 250.9,651.9 246.2,647.2"/><polygon fill="#FFFAAA" points="263.9,609.3 268.6,606.3 274.1,608.9 272.6,613.6 266.3,614.1"/><polygon fill="#FFFAAA" points="223.7,649.5 232.0,646.0 239.1,654.2 241.4,666.1 236.7,673.2 227.3,668.4"/><polygon fill="#FFC828" points="177.6,500.6 198.9,500.6 201.3,510.1 194.2,517.2 184.7,521.9 177.6,524.3"/><polygon fill="#FFA50A" points="203.6,512.5 215.4,510.1 227.3,511.3 239.1,517.2 243.8,526.6 236.7,531.4 227.3,529.0 215.4,524.3 206.0,519.5"/><polygon fill="#FFA50A" points="227.3,529.0 236.7,531.4 250.9,538.4 262.7,547.9 274.5,557.4 286.3,562.1 298.2,564.4 307.6,566.8 310.0,573.9 302.9,581.0 295.8,590.4 291.1,602.3 284.0,604.6 279.3,597.5 284.0,585.7 281.6,578.6 269.8,581.0 258.0,584.5 250.9,573.9 246.2,562.1 239.1,550.3 232.0,540.8"/><polygon fill="#FFE650" points="241.4,500.6 250.9,507.7 260.4,519.5 269.8,531.4 279.3,540.8 291.1,550.3 300.5,557.4 305.3,553.8 298.2,543.2 291.1,531.4 284.0,519.5 274.5,507.7 267.4,500.6"/><polygon fill="#FFFAAA" points="248.5,500.6 258.0,510.1 267.4,521.9 276.9,533.7 286.3,543.2 295.8,550.3 297.0,546.7 291.1,536.1 284.0,524.3 276.9,514.8 269.8,505.4 265.1,500.6"/><polygon fill="#B4E1F5" stroke-width="1" points="265.1,517.2 268.6,514.8 276.9,518.4 281.1,525.5 280.4,531.4 274.5,529.0 268.6,524.3"/><polygon fill="#B4E1F5" stroke-width="1" points="247.4,504.2 250.9,503.0 255.6,505.4 254.4,508.9 249.7,508.2"/><polygon fill="#B4E1F5" stroke-width="1" points="280.4,538.4 285.2,539.6 289.9,543.2 287.5,546.0 282.8,543.2"/><polygon fill="#FFA50A" points="177.6,625.9 187.1,628.3 196.5,631.8 206.0,637.7 213.1,647.2 217.8,659.0 222.5,673.2 224.9,687.3 177.6,687.3"/><polygon fill="#FF8200" points="177.6,654.2 187.1,659.0 194.2,668.4 198.9,677.9 201.3,687.3 177.6,687.3"/><polygon fill="#FFE650" points="291.1,500.6 292.3,512.5 298.2,524.3 305.3,538.4 312.3,550.3 319.4,559.7 315.9,571.5 321.8,575.1 340.7,578.6 359.6,582.2 366.7,578.6 369.1,569.2 366.7,557.4 369.1,545.5 366.7,533.7 369.1,521.9 364.3,512.5 357.2,505.4 350.2,500.6"/><polygon fill="#FFA50A" points="350.2,500.6 357.2,505.4 364.3,512.5 369.1,521.9 366.7,533.7 369.1,545.5 366.7,557.4 369.1,569.2 369.1,581.0 376.2,590.4 380.9,602.3 383.2,614.1 380.9,625.9 378.5,637.7 377.3,649.5 376.2,656.6 364.3,656.6 345.4,657.8 331.2,654.2 321.8,649.5 326.5,656.6 340.7,661.3 359.6,663.7 373.8,666.1 388.0,663.7 397.4,659.0 406.9,654.2 416.3,649.5 425.8,644.8 425.8,500.6"/><polygon fill="#FF8200" points="395.1,512.5 402.1,505.4 406.9,500.6 425.8,500.6 425.8,517.2 416.3,514.8 409.2,519.5 404.5,529.0 399.8,526.6 396.2,519.5"/><polygon fill="#FF8200" points="391.5,578.6 397.4,573.9 406.9,576.3 416.3,581.0 425.8,583.4 425.8,607.0 416.3,604.6 406.9,599.9 399.8,592.8 393.9,585.7"/><polygon fill="#FF8200" points="380.9,640.1 385.6,630.6 392.7,622.3 397.4,625.9 402.1,635.3 399.8,642.4 392.7,644.8 385.6,646.0"/><polygon fill="#FFA50A" points="284.0,630.6 291.1,625.9 298.2,628.3 307.6,635.3 312.3,642.4 307.6,647.2 298.2,644.8 288.7,640.1"/><polygon fill="#FFC828" points="302.9,647.2 314.7,649.5 331.2,659.0 350.2,664.9 369.1,666.1 385.6,663.7 399.8,659.0 414.0,656.6 425.8,654.2 425.8,687.3 298.2,687.3"/><polygon fill="#FFE650" points="305.3,649.5 313.5,647.2 326.5,654.2 340.7,661.3 354.9,666.1 369.1,668.4 383.2,666.1 397.4,661.3 406.9,660.2 404.5,666.1 392.7,670.8 378.5,673.2 364.3,674.3 350.2,673.2 336.0,672.0 324.2,668.4 314.7,663.7 307.6,656.6"/><polygon fill="#FFFAAA" points="310.0,654.2 315.9,651.9 326.5,659.0 340.7,666.1 352.5,669.6 345.4,672.0 333.6,670.8 321.8,666.1 313.5,660.2"/><polygon fill="#B4E1F5" stroke-width="1" points="315.2,660.2 318.3,657.8 323.0,662.5 321.8,666.1 317.1,664.9"/><polygon fill="#B4E1F5" stroke-width="1" points="325.3,668.4 331.2,667.2 338.3,669.6 333.6,672.0 327.7,671.3"/><polygon fill="#FFFAAA" points="382.1,666.1 386.8,663.7 391.5,665.6 389.2,668.4 383.7,668.4"/><polygon fill="#FFA50A" points="312.3,687.3 317.1,677.9 326.5,675.5 336.0,680.2 343.1,687.3"/><polygon fill="#FFA50A" points="402.1,687.3 404.5,675.5 411.6,666.1 422.0,661.3 425.8,660.2 425.8,687.3"/></g><clipPath id="t11"><rect x="421" y="502" width="244" height="183"/></clipPath><g clip-path="url(#t11)" stroke="#000" stroke-width="0.55" stroke-linejoin="round"><rect x="420.5" y="501.5" width="245" height="184" fill="#FF8200" stroke="none"/><polygon fill="#FF5014" points="481.1,526.6 489.4,520.0 500.0,516.7 508.3,513.6 516.5,517.2 526.0,524.7 533.1,531.8 540.2,538.4 549.6,543.6 559.1,545.5 573.2,547.0 587.4,547.9 595.7,546.7 596.9,538.4 604.0,532.5 613.4,527.8 619.3,520.7 622.9,513.6 621.7,505.4 618.2,500.6 634.7,500.6 635.9,510.1 639.4,517.2 646.5,524.3 647.7,533.7 644.1,543.2 639.4,550.3 634.7,557.4 632.3,564.4 641.8,566.8 648.9,571.5 652.4,578.6 648.9,583.4 639.4,581.0 630.0,577.4 622.9,573.9 615.8,572.7 608.7,569.2 599.2,568.0 592.2,571.5 587.4,576.3 585.1,583.4 587.4,590.4 592.2,596.3 598.1,602.3 601.6,609.3 602.8,618.8 601.6,628.3 605.2,637.7 611.1,642.4 618.2,640.1 625.2,635.3 632.3,630.6 639.4,631.8 648.9,635.3 658.3,637.7 667.8,638.9 667.8,656.6 658.3,659.0 648.9,660.2 639.4,656.6 630.0,654.2 620.5,654.2 611.1,656.6 601.6,659.0 592.2,663.7 582.7,668.4 575.6,673.2 570.9,680.2 568.5,687.3 502.4,687.3 497.6,677.9 490.5,668.4 483.4,661.3 476.4,654.2 469.3,647.2 462.2,640.1 457.4,635.3 452.7,630.6 455.1,623.5 462.2,618.8 471.6,614.1 477.5,609.3 474.0,602.3 468.1,595.2 464.5,585.7 465.7,576.3 474.0,572.7 483.4,573.9 492.9,576.3 500.0,581.0 504.7,584.5 500.0,573.9 495.3,564.4 491.7,555.0 492.9,547.9 490.5,540.8 484.6,536.1"/><polygon fill="#FF8200" points="548.4,563.3 554.3,558.5 563.8,555.0 573.2,553.8 576.8,558.5 573.2,564.4 563.8,568.0 559.1,573.9 552.0,571.5"/><polygon fill="#FF8200" points="533.1,545.5 535.4,542.0 539.0,544.4 537.3,549.1 534.3,549.1"/><polygon fill="#FF8200" points="501.2,538.4 504.7,537.3 507.1,543.2 504.7,549.1 501.2,546.7"/><polygon fill="#FFA50A" points="419.6,500.6 457.4,500.6 462.2,507.7 455.1,514.8 445.6,519.5 443.3,526.6 436.2,530.2 429.1,534.9 430.3,543.2 438.5,547.9 445.6,543.2 452.7,544.4 450.4,552.6 443.3,557.4 433.8,560.9 426.7,559.7 419.6,562.1"/><polygon fill="#FFA50A" points="419.6,614.1 431.5,616.4 440.9,621.2 450.4,628.3 457.4,635.3 464.5,642.4 471.6,649.5 478.7,656.6 485.8,663.7 492.9,673.2 497.6,682.6 500.0,687.3 419.6,687.3"/><polygon fill="#FFC828" points="419.6,623.5 431.5,625.9 440.9,631.8 450.4,638.9 457.4,644.8 466.9,654.2 476.4,663.7 483.4,673.2 488.2,687.3 419.6,687.3"/><polygon fill="#FFE650" points="426.7,635.3 436.2,635.3 445.6,642.4 455.1,650.7 464.5,659.0 474.0,668.4 481.1,680.2 483.4,687.3 445.6,687.3 436.2,677.9 426.7,668.4 422.0,656.6 424.4,644.8"/><polygon fill="#FFFAAA" points="443.3,656.6 448.0,654.2 453.9,657.8 452.7,662.5 446.8,661.8"/><polygon fill="#FFFAAA" points="426.7,668.4 433.8,666.1 443.3,670.8 445.6,676.7 438.5,677.9 430.3,674.3"/><polygon fill="#FFC828" points="464.5,500.6 469.3,506.5 478.7,510.1 490.5,511.3 500.0,507.7 503.5,500.6"/><polygon fill="#FFE650" points="472.8,500.6 477.5,505.8 485.8,507.7 495.3,505.4 497.6,500.6"/><polygon fill="#FFA50A" points="585.1,581.0 589.8,573.9 599.2,569.2 611.1,570.4 618.2,573.9 622.9,578.6 630.0,581.0 641.8,583.4 653.6,584.5 667.8,583.4 667.8,635.3 658.3,634.2 648.9,631.8 639.4,629.4 632.3,628.3 625.2,633.0 618.2,638.9 611.1,641.3 606.3,636.5 602.8,628.3 604.0,618.8 601.6,609.3 598.1,601.1 592.2,595.2 587.4,589.3"/><polygon fill="#FFC828" points="611.1,635.3 608.7,625.9 611.1,616.4 615.8,609.3 622.9,602.3 632.3,597.5 644.1,594.0 656.0,591.6 667.8,589.3 667.8,625.9 658.3,624.7 648.9,622.3 639.4,623.5 630.0,628.3 622.9,634.2 615.8,638.9"/><polygon fill="#FFE650" points="613.4,628.3 614.6,618.8 619.3,611.7 626.4,605.8 634.7,601.1 646.5,597.5 658.3,595.2 667.8,594.0 667.8,621.2 658.3,620.0 648.9,618.8 639.4,620.0 630.0,623.5 622.9,629.4 617.0,633.0"/><polygon fill="#FFFAAA" points="621.7,616.4 625.2,610.5 634.7,605.8 646.5,602.3 658.3,599.9 667.8,598.7 667.8,615.3 658.3,615.3 646.5,616.0 634.7,617.6 627.6,620.0"/><polygon fill="#B4E1F5" stroke-width="1" points="658.3,602.3 667.8,599.9 667.8,607.0 660.7,607.0"/><polygon fill="#FFC828" points="601.6,583.4 606.3,579.8 613.4,581.0 618.2,586.9 614.6,590.4 607.5,588.1"/><polygon fill="#FFC828" points="594.5,585.7 598.1,583.4 600.4,586.9 596.9,589.3"/><polygon fill="#FFA50A" points="652.4,500.6 653.6,510.1 658.3,514.8 667.8,512.5 667.8,500.6"/><polygon fill="#FFA50A" points="654.8,550.3 658.3,538.4 664.0,531.4 667.8,530.2 667.8,573.9 660.7,571.5 656.0,562.1"/><polygon fill="#FFA50A" points="542.5,680.2 547.3,673.2 559.1,669.6 570.9,668.4 573.2,673.2 568.5,680.2 563.8,687.3 540.2,687.3"/><polygon fill="#FFA50A" points="578.0,687.3 587.4,680.2 601.6,676.7 615.8,673.2 630.0,672.0 644.1,674.3 648.9,682.6 650.1,687.3"/><polygon fill="#FFC828" points="620.5,687.3 622.9,680.2 632.3,676.7 641.8,679.1 645.3,687.3"/><polygon fill="#FFA50A" points="654.8,687.3 656.0,675.5 660.7,668.4 667.8,666.1 667.8,687.3"/></g><clipPath id="t12"><rect x="663" y="502" width="244" height="183"/></clipPath><g clip-path="url(#t12)" stroke="#000" stroke-width="0.55" stroke-linejoin="round"><rect x="662.5" y="501.5" width="245" height="184" fill="#B4E1F5" stroke="none"/><polygon fill="#8CCDF0" points="782.2,531.4 786.9,521.9 796.3,514.8 810.5,510.1 824.7,507.7 829.4,514.8 824.7,524.3 815.2,531.4 803.4,538.4 791.6,543.2 784.5,540.8"/><polygon fill="#8CCDF0" points="699.4,609.3 706.5,602.3 718.4,597.5 732.5,599.9 746.7,604.6 758.5,609.3 768.0,614.1 765.6,621.2 753.8,623.5 739.6,621.2 725.4,618.8 711.3,621.2 701.8,616.4"/><polygon fill="#8CCDF0" points="706.5,635.3 716.0,628.3 730.2,630.6 744.4,635.3 753.8,642.4 749.1,649.5 734.9,647.2 720.7,644.8 711.3,642.4"/><polygon fill="#8CCDF0" points="777.4,666.1 786.9,661.3 801.1,659.0 815.2,663.7 829.4,668.4 838.9,675.5 834.2,687.3 815.2,687.3 796.3,677.9 782.2,673.2"/><polygon fill="#8CCDF0" points="815.2,644.8 829.4,647.2 843.6,650.7 860.2,651.9 876.7,649.5 890.9,644.8 909.8,637.7 909.8,663.7 895.6,666.1 876.7,663.7 857.8,661.3 838.9,656.6 824.7,651.9"/><polygon fill="#3CC3F5" points="848.3,654.2 862.5,655.4 876.7,654.2 890.9,649.5 909.8,643.6 909.8,656.6 895.6,660.2 876.7,661.3 860.2,660.2"/><polygon fill="#3CC3F5" points="820.0,668.4 829.4,667.2 838.9,673.2 836.5,680.2 827.1,677.9"/><polygon fill="#3CC3F5" points="890.9,635.3 900.3,633.0 909.8,631.8 909.8,638.9 900.3,640.1"/><polygon fill="#8CCDF0" points="817.6,500.6 820.0,507.7 829.4,512.5 838.9,510.1 846.0,500.6"/><polygon fill="#8CCDF0" points="770.3,557.4 775.1,553.8 779.8,556.2 777.4,562.1 772.7,563.3"/><polygon fill="#8CCDF0" points="706.1,602.3 716.0,597.3 728.0,595.2 740.3,596.1 750.3,600.1 760.4,606.3 768.5,612.4 770.3,618.3 764.4,620.5 756.4,616.4 748.4,612.4 740.3,610.3 732.1,611.2 724.0,614.3 716.0,616.4 710.1,620.5 706.1,616.4"/><polygon fill="#8CCDF0" points="712.0,628.5 722.1,624.5 732.1,626.4 730.2,630.4 722.1,633.5 714.1,634.4"/><polygon fill="#8CCDF0" points="720.0,646.5 732.1,640.5 744.4,638.4 756.4,636.5 766.3,638.4 776.5,642.4 786.4,646.5 796.6,644.6 808.6,642.4 820.7,644.6 832.7,648.6 844.8,646.5 856.8,644.6 868.9,642.4 880.9,640.5 893.0,636.5 909.8,632.5 909.8,672.7 893.0,672.7 880.9,668.7 868.9,669.6 856.8,672.7 844.8,674.6 832.7,672.7 820.7,675.8 808.6,678.6 796.6,676.7 784.5,672.7 776.5,666.5 768.5,660.6 760.4,656.6 750.3,654.5 740.3,655.4 730.2,654.5 722.1,652.6"/><polygon fill="#3CC3F5" points="860.9,654.5 871.0,650.5 880.9,648.6 893.0,644.6 909.8,640.5 909.8,654.5 897.0,658.5 885.0,660.6 872.9,660.6 864.9,659.4"/><polygon fill="#3CC3F5" points="780.5,664.6 790.4,660.6 804.6,662.5 816.7,666.5 828.7,668.7 838.9,672.7 830.8,676.7 820.7,675.8 808.6,678.6 796.6,676.7 786.4,672.7"/><polygon fill="#3CC3F5" points="893.0,634.4 901.0,631.3 909.8,630.4 909.8,638.4 899.1,639.4"/><polygon fill="#FFFAAA" points="661.6,500.6 810.5,500.6 801.1,506.5 786.9,511.3 772.7,514.8 765.6,524.3 769.2,533.7 764.4,542.0 756.2,547.9 746.7,553.8 739.6,562.1 742.0,571.5 737.3,578.6 732.5,583.4 723.1,588.1 711.3,592.8 699.4,596.3 687.6,597.5 675.8,596.3 661.6,597.5"/><polygon fill="#FFE650" points="661.6,500.6 796.3,500.6 786.9,506.5 775.1,510.1 763.3,512.9 753.8,515.3 742.0,514.8 732.5,517.7 720.7,519.5 706.5,520.7 692.4,521.9 678.2,523.1 661.6,525.5"/><polygon fill="#FFC828" points="661.6,500.6 782.2,500.6 772.7,505.8 760.9,508.9 749.1,510.6 734.9,512.5 720.7,515.3 706.5,516.7 692.4,517.7 678.2,519.1 661.6,520.7"/><polygon fill="#FFA50A" points="661.6,500.6 768.0,500.6 758.5,505.4 746.7,507.7 732.5,509.6 720.7,512.5 706.5,513.6 692.4,514.3 678.2,515.3 661.6,517.2"/><polygon fill="#FF8200" points="661.6,500.6 720.7,500.6 716.0,507.7 706.5,511.3 692.4,512.0 678.2,512.9 668.7,514.8 661.6,514.8"/><polygon fill="#B4E1F5" stroke-width="1" points="746.7,534.9 750.3,531.8 755.0,532.5 757.3,536.1 753.8,538.9 749.1,538.4"/><polygon fill="#FFE650" points="661.6,547.9 673.5,545.5 687.6,544.4 701.8,543.2 716.0,542.0 730.2,540.8 744.4,542.0 756.2,545.5 757.3,551.4 751.4,557.4 742.0,562.1 734.9,568.0 732.5,575.1 727.8,581.0 718.4,585.2 706.5,588.6 692.4,590.9 678.2,590.9 661.6,592.3"/><polygon fill="#FFC828" points="661.6,551.4 673.5,549.1 687.6,547.9 701.8,546.7 718.4,546.7 730.2,549.1 734.9,553.8 732.5,559.7 727.8,565.6 725.4,572.7 720.7,578.6 711.3,582.9 699.4,585.7 687.6,587.6 675.8,588.1 661.6,588.6"/><polygon fill="#FFC828" points="729.0,549.1 734.9,545.5 744.4,545.1 752.6,547.9 749.1,552.2 739.6,553.1 732.5,552.6"/><polygon fill="#FFA50A" points="661.6,555.0 673.5,552.6 687.6,551.4 701.8,550.3 714.8,551.4 721.9,556.2 724.3,563.3 720.7,570.4 714.8,576.3 704.2,580.5 692.4,583.4 678.2,584.5 661.6,585.2"/><polygon fill="#FF8200" points="661.6,558.5 673.5,556.2 687.6,554.5 701.8,553.8 712.4,556.2 717.9,562.1 714.8,568.7 708.9,573.9 699.4,577.4 687.6,580.5 675.8,582.2 661.6,582.9"/><polygon fill="#FF5014" points="668.7,573.9 672.3,568.0 678.2,563.3 687.6,559.7 699.4,558.5 707.7,560.9 710.1,564.9 704.2,570.4 694.7,573.9 685.3,577.4 675.8,579.8 669.9,578.6"/><polygon fill="#FFFAAA" points="661.6,592.8 678.2,595.2 692.4,596.3 699.4,602.3 697.1,611.7 692.4,621.2 694.7,630.6 692.4,640.1 687.6,649.5 690.0,659.0 685.3,668.4 678.2,675.5 673.5,687.3 661.6,687.3"/><polygon fill="#FFE650" points="661.6,602.3 673.5,602.3 682.9,607.0 687.6,614.1 685.3,623.5 686.5,633.0 684.1,644.8 682.9,656.6 678.2,668.4 671.1,677.9 661.6,682.6"/><polygon fill="#FFC828" points="661.6,609.3 671.1,610.5 678.2,616.4 679.4,625.9 678.2,635.3 680.5,644.8 678.2,656.6 673.5,668.4 666.4,675.5 661.6,677.9"/><polygon fill="#FFA50A" points="661.6,616.4 668.7,618.8 673.5,625.9 673.5,635.3 675.8,644.8 674.6,656.6 668.7,666.1 661.6,668.4"/><polygon fill="#FF8200" points="661.6,630.6 667.5,633.0 669.9,642.4 670.6,651.9 666.4,661.3 661.6,663.7"/><polygon fill="#FFFAAA" points="872.0,500.6 857.8,504.2 841.2,510.1 827.1,518.4 817.6,526.6 812.9,534.9 805.8,542.0 796.3,547.9 782.2,553.8 768.0,559.7 756.2,566.8 744.4,576.3 737.3,584.5 744.4,590.4 750.3,602.3 757.3,611.7 768.0,622.3 782.2,633.0 798.7,638.9 815.2,642.4 834.2,646.0 850.7,647.6 860.2,644.8 867.2,646.0 881.4,642.4 893.2,636.5 905.1,632.5 909.8,630.6 909.8,500.6"/><polygon fill="#FFE650" points="877.9,500.6 862.5,504.2 846.0,510.1 831.8,518.4 821.2,527.8 817.6,536.1 810.5,543.2 801.1,549.1 786.9,555.0 772.7,560.9 760.9,568.0 750.3,579.8 747.9,585.7 751.4,597.5 758.5,608.2 769.2,618.8 784.5,629.4 801.1,635.3 817.6,638.9 834.2,642.4 848.3,644.8 864.9,643.6 880.2,640.1 892.1,633.0 903.9,629.4 909.8,627.1 909.8,500.6"/><polygon fill="#FFC828" points="883.8,500.6 867.2,505.4 850.7,511.3 836.5,519.5 825.9,529.0 822.3,538.4 815.2,545.5 805.8,551.4 791.6,557.4 777.4,563.3 765.6,570.4 756.2,581.0 755.0,592.8 760.9,604.6 771.5,615.3 786.9,625.9 803.4,631.8 820.0,635.3 834.2,638.9 848.3,641.3 864.9,640.1 879.1,636.5 890.9,629.4 902.7,625.9 909.8,623.5 909.8,500.6"/><polygon fill="#FFA50A" points="888.5,500.6 872.0,507.7 855.4,513.6 841.2,521.9 829.4,531.4 827.1,540.8 820.0,547.9 810.5,553.8 796.3,559.7 782.2,566.8 770.3,573.9 763.3,583.4 762.1,592.8 768.0,602.3 777.4,611.7 791.6,621.2 805.8,625.9 820.0,629.4 834.2,633.0 848.3,635.3 862.5,634.2 876.7,630.6 888.5,623.5 900.3,620.0 909.8,617.6 909.8,500.6"/><polygon fill="#FFE650" points="742.0,668.4 746.7,664.9 756.2,666.1 762.1,673.2 763.3,682.6 760.9,687.3 744.4,687.3 743.2,677.9"/><polygon fill="#FFC828" points="745.5,673.2 751.4,669.6 758.5,674.3 759.7,682.6 758.5,687.3 747.9,687.3"/><polygon fill="#FFA50A" points="749.1,679.1 753.8,676.7 757.3,681.4 756.6,687.3 750.3,687.3"/><polygon fill="#FFFAAA" points="680.5,677.9 685.3,674.3 690.0,677.9 687.6,682.6 682.9,682.1"/><polygon fill="#FFFAAA" points="701.8,677.9 708.9,672.0 718.4,666.1 721.9,669.6 716.0,676.7 707.7,681.4"/><polygon fill="#FFFAAA" points="694.7,668.4 699.4,666.1 703.0,669.6 698.3,672.7"/><polygon fill="#FFFAAA" points="772.7,676.7 777.4,675.0 784.5,680.2 782.2,683.8 775.1,681.4"/><polygon fill="#FFFAAA" points="763.3,625.9 766.8,624.7 770.3,631.8 765.6,630.6"/><polygon fill="#FFFAAA" points="779.8,635.3 783.3,634.9 782.2,641.3"/></g><clipPath id="t13"><rect x="299" y="419" width="244" height="183"/></clipPath><g clip-path="url(#t13)" stroke="#000" stroke-width="0.55" stroke-linejoin="round"><rect x="298.5" y="418.5" width="245" height="184" fill="#FFA50A" stroke="none"/><polygon fill="#FF8200" points="420.5,417.6 425.3,427.1 434.7,433.0 446.5,437.7 453.6,441.3 465.4,437.7 474.9,436.1 486.7,438.4 496.2,436.1 504.4,433.0 510.3,425.9 513.9,417.6"/><polygon fill="#FF8200" points="513.9,417.6 512.7,429.5 508.0,436.5 512.7,443.6 522.1,446.0 526.9,453.1 524.5,462.5 522.1,472.0 524.5,479.1 519.8,486.2 512.7,490.9 510.3,498.0 512.7,505.1 508.0,509.8 500.9,513.3 493.8,514.5 484.3,513.3 474.9,511.0 465.4,507.4 458.3,502.7 453.6,501.5 448.9,507.4 444.2,512.2 443.0,519.3 439.4,525.2 432.3,528.7 428.8,535.8 430.0,542.9 437.1,545.3 441.8,552.3 444.2,559.4 439.4,564.2 432.3,571.2 432.3,580.7 427.6,585.4 418.2,583.1 408.7,580.7 399.3,580.7 394.5,585.4 396.9,594.9 399.3,604.3 545.8,604.3 545.8,417.6"/><polygon fill="#FF5014" points="545.8,514.5 536.3,524.0 526.9,526.3 519.8,524.0 512.7,519.3 505.6,514.5 500.9,516.9 498.5,524.0 496.2,533.4 491.4,538.2 486.7,533.4 482.0,535.8 484.3,542.9 489.1,550.0 484.3,557.1 489.1,564.2 486.7,571.2 479.6,573.6 470.2,573.6 465.4,578.3 466.6,587.8 470.2,597.2 472.5,604.3 545.8,604.3"/><polygon fill="#FF8200" points="498.5,542.9 500.9,538.2 505.6,540.5 506.8,546.4 502.1,548.8"/><polygon fill="#FF8200" points="534.0,545.3 536.3,542.9 539.2,546.4 536.3,549.5"/><polygon fill="#FFC828" points="453.6,474.4 458.3,467.3 465.4,462.5 474.9,460.2 479.6,455.4 486.7,446.0 493.8,440.1 503.2,437.7 512.7,438.9 522.1,440.1 521.0,446.0 516.2,450.7 513.9,457.8 517.4,464.9 521.0,472.0 524.5,479.1 521.0,485.0 513.9,488.5 510.3,495.6 508.0,502.7 503.2,508.6 496.2,512.2 489.1,513.3 482.0,511.0 474.9,509.8 469.0,508.6 465.4,502.7 460.7,495.6 457.2,486.2"/><polygon fill="#FFE650" points="466.6,488.5 467.8,479.1 471.3,472.0 476.1,466.1 480.8,463.7 486.7,462.5 491.4,464.9 492.6,472.0 493.8,481.4 495.0,490.9 496.2,500.4 492.6,506.3 486.7,508.6 479.6,507.4 473.7,506.3 469.0,500.4"/><polygon fill="#FFE650" points="496.2,443.6 503.2,441.3 510.3,443.6 508.0,449.5 500.9,451.9 496.2,449.5"/><polygon fill="#FFFAAA" points="476.1,501.5 479.6,500.4 486.7,502.7 485.5,505.6 478.4,505.1"/><polygon fill="#FFC828" points="524.5,469.6 529.2,466.1 536.3,464.9 545.8,466.1 545.8,473.2 536.3,474.4 528.1,473.9"/><polygon fill="#FFE650" points="297.6,434.2 314.2,436.5 326.0,434.2 335.4,430.6 344.9,425.9 354.4,422.4 366.2,420.0 378.0,421.2 387.4,424.7 392.2,431.8 389.8,441.3 385.1,450.7 381.5,457.8 370.9,460.2 361.4,460.2 356.7,463.7 355.5,469.6 347.3,467.3 339.0,466.1 337.8,474.4 344.9,481.4 348.4,490.9 349.6,500.4 350.8,507.4 356.7,513.3 363.8,518.1 369.7,521.6 370.9,526.3 367.4,533.4 365.0,540.5 367.4,547.6 370.9,554.7 372.1,561.8 368.5,567.7 363.8,573.6 361.4,580.7 366.2,585.4 373.3,585.4 378.0,590.2 379.2,604.3 297.6,604.3"/><polygon fill="#FFC828" points="297.6,526.3 304.7,531.1 309.5,542.9 314.2,554.7 321.3,561.8 330.7,567.7 342.5,571.2 354.4,573.6 362.6,577.2 363.8,583.1 370.9,585.4 378.0,590.2 379.2,604.3 297.6,604.3"/><polygon fill="#FFC828" points="297.6,417.6 380.4,417.6 378.0,421.2 366.2,420.0 354.4,422.4 344.9,425.9 335.4,430.6 326.0,434.2 314.2,436.5 297.6,434.2"/><polygon fill="#FFA50A" points="297.6,417.6 307.1,417.6 305.9,423.5 297.6,425.9"/><polygon fill="#FFFAAA" points="344.9,434.2 347.3,428.3 354.4,423.5 363.8,421.2 373.3,422.4 382.7,427.1 388.6,433.0 387.4,441.3 382.7,448.4 380.4,455.4 370.9,457.8 362.6,456.6 356.7,451.9 352.0,446.0 350.8,441.3 356.7,440.1 361.4,443.6 365.0,449.5 368.5,446.0 366.2,440.1 362.6,435.4 355.5,433.0 349.6,435.4"/><polygon fill="#FFE650" points="375.6,438.9 379.2,435.4 383.2,436.5 382.7,442.5 379.2,446.0 376.1,443.6"/><polygon fill="#FFC828" points="337.8,473.2 344.9,470.8 354.4,472.0 357.9,476.7 352.0,479.1 346.1,480.3 340.2,479.1"/><polygon fill="#FF8200" points="381.5,464.9 385.1,457.8 391.0,454.3 396.9,456.6 398.1,463.7 394.5,468.4 388.6,470.8 383.9,469.6"/><polygon fill="#FFE650" points="397.4,470.8 401.6,466.8 405.6,468.4 405.2,472.5 399.3,472.5"/><polygon fill="#FF8200" points="404.0,483.8 408.7,480.3 414.6,482.6 418.2,488.5 422.9,493.3 426.4,500.4 425.3,507.4 419.3,512.2 413.4,515.7 408.7,521.6 406.3,529.9 402.8,531.1 401.6,524.0 399.3,518.1 395.7,514.5 396.9,508.6 401.6,503.9 404.0,498.0 402.8,490.9"/><polygon fill="#FFC828" points="365.0,540.5 370.9,537.0 380.4,535.8 387.4,538.2 391.0,545.3 393.3,552.3 399.3,559.4 401.6,565.3 396.9,568.9 389.8,567.7 382.7,570.1 375.6,566.5 372.1,561.8 370.9,554.7 367.4,547.6"/><polygon fill="#FFA50A" points="297.6,557.1 304.7,559.4 311.8,558.3 317.7,561.8 321.3,565.3 316.5,568.4 309.5,571.2 304.7,576.0 302.4,585.4 300.0,594.9 297.6,596.1"/></g><clipPath id="t14"><rect x="499" y="399" width="244" height="183"/></clipPath><g clip-path="url(#t14)" stroke="#000" stroke-width="0.55" stroke-linejoin="round"><rect x="498.5" y="398.5" width="245" height="184" fill="#FF8200" stroke="none"/><polygon fill="#FFA50A" points="583.9,397.6 582.7,407.1 583.9,418.9 587.4,428.4 593.3,437.8 601.6,443.7 613.4,447.3 625.3,447.3 634.7,448.4 639.4,453.2 651.2,461.4 665.4,468.5 679.6,475.6 693.8,482.7 705.6,491.0 717.4,496.9 726.9,502.8 736.3,504.0 745.8,505.2 745.8,397.6"/><polygon fill="#FFA50A" points="497.6,397.6 547.3,397.6 542.5,404.7 535.4,410.6 523.6,413.0 514.2,411.8 507.1,416.5 497.6,418.9"/><polygon fill="#FFC828" points="601.6,397.6 606.3,402.4 618.2,404.7 632.3,403.5 646.5,402.4 660.7,404.7 674.9,411.8 686.7,421.3 696.2,430.7 703.2,437.8 712.7,435.4 722.1,428.4 731.6,423.6 745.8,418.9 745.8,397.6"/><polygon fill="#FFC828" points="691.4,447.3 696.2,441.4 705.6,437.8 715.1,433.1 724.5,427.2 736.3,422.5 745.8,420.1 745.8,470.9 736.3,468.5 726.9,470.9 719.8,468.5 712.7,463.8 703.2,462.6 693.8,459.1 689.1,453.2"/><polygon fill="#FFE650" points="708.0,450.8 710.3,444.9 717.4,439.0 726.9,431.9 736.3,427.2 745.8,424.8 745.8,430.7 736.3,435.4 726.9,442.5 721.0,450.8 718.6,461.4 713.9,462.6 710.3,457.9"/><polygon fill="#FFFAAA" points="711.0,449.6 712.7,444.9 716.2,443.7 717.4,448.4 716.2,455.5 712.7,456.7"/><polygon fill="#FF5014" points="497.6,513.4 509.5,512.3 518.9,515.8 528.4,520.5 535.4,527.6 535.4,535.9 544.9,539.4 556.7,538.3 568.5,541.8 578.0,546.5 589.8,547.7 599.3,544.2 606.3,539.4 613.4,534.7 615.8,528.8 620.5,522.9 624.1,517.0 627.6,513.4 634.7,515.8 641.8,518.2 647.7,522.9 648.9,532.3 644.2,539.4 637.1,541.8 632.3,546.5 630.0,553.6 627.6,563.1 622.9,570.2 613.4,573.7 604.0,572.5 594.5,574.9 589.8,581.0 587.4,584.3 497.6,584.3"/><polygon fill="#FF5014" points="593.3,495.7 599.3,493.3 606.3,496.9 613.4,501.6 620.5,507.5 625.3,513.4 621.7,518.2 615.8,515.8 608.7,511.1 601.6,506.3 595.7,501.6"/><polygon fill="#FF8200" points="533.1,546.5 535.4,543.0 539.0,544.6 537.8,549.4 534.3,550.1"/><polygon fill="#FF8200" points="501.2,539.4 504.7,537.1 507.1,541.8 504.7,547.7 501.2,545.3"/><polygon fill="#FF8200" points="549.6,563.1 556.7,557.2 568.5,554.8 575.6,558.3 570.9,565.4 563.8,570.2 559.1,577.2 553.2,574.9 548.4,569.0"/><polygon fill="#FF8200" points="614.6,533.5 618.2,531.2 621.7,535.9 619.3,541.8 615.8,539.4"/><polygon fill="#FFA50A" points="524.8,468.5 529.5,465.0 539.0,463.3 547.3,465.0 548.4,468.5 542.5,470.9 533.1,472.8 526.0,472.1"/><polygon fill="#FFA50A" points="627.6,504.0 632.3,501.1 640.6,502.8 644.2,506.3 640.6,509.9 632.3,509.2"/><polygon fill="#FFA50A" points="518.9,404.7 523.6,403.5 533.1,404.3 531.9,406.6 521.3,406.6"/><polygon fill="#FFC828" points="497.6,437.8 507.1,439.0 516.5,437.8 522.5,440.2 520.1,447.3 515.4,454.4 511.8,461.4 514.2,470.9 520.1,475.6 523.6,480.4 518.9,485.1 514.2,489.8 509.5,496.9 504.7,504.0 500.0,506.3 497.6,506.3"/><polygon fill="#FFE650" points="497.6,444.9 504.7,446.1 509.5,450.8 510.6,459.1 509.5,470.9 511.8,480.4 507.1,489.8 502.4,496.9 497.6,499.3"/><polygon fill="#FFA50A" points="651.2,551.2 656.0,541.8 663.1,532.3 670.2,525.3 679.6,521.7 689.1,519.3 700.9,518.2 712.7,517.0 722.1,511.1 731.6,507.5 745.8,506.3 745.8,584.3 641.8,584.3 644.2,574.9 651.2,565.4 653.6,558.3"/><polygon fill="#FFC828" points="657.2,551.2 660.7,541.8 666.6,533.5 674.9,528.8 686.7,526.4 698.5,525.3 710.3,524.1 719.8,520.5 726.9,515.8 736.3,512.3 745.8,511.1 745.8,584.3 708.0,584.3 713.9,574.9 721.0,567.8 722.1,560.7 717.4,554.8 708.0,552.4 698.5,551.2 689.1,551.2 679.6,553.6 670.2,557.2 663.1,557.2"/><polygon fill="#FFE650" points="663.1,548.9 665.4,541.8 670.2,535.9 677.2,532.3 689.1,530.0 700.9,528.8 712.7,527.6 722.1,524.1 729.2,520.5 738.7,517.0 745.8,515.8 745.8,584.3 719.8,584.3 724.5,574.9 728.1,567.8 726.9,558.3 719.8,551.2 710.3,547.7 700.9,545.3 691.4,545.3 682.0,547.7 672.5,551.2 666.6,552.4"/><polygon fill="#FFFAAA" points="667.8,544.2 672.5,538.3 679.6,535.9 691.4,533.5 703.2,532.3 715.1,531.2 724.5,528.8 732.8,525.3 745.8,522.9 745.8,584.3 730.4,584.3 732.8,574.9 734.0,565.4 731.6,556.0 724.5,547.7 715.1,543.0 705.6,540.6 696.2,540.6 686.7,541.8 677.2,545.3 671.3,547.7"/><polygon fill="#B4E1F5" stroke-width="1" points="716.2,527.6 719.8,525.3 724.5,526.4 723.3,530.0 718.6,531.2"/><polygon fill="#B4E1F5" stroke-width="1" points="736.3,527.6 745.8,525.3 745.8,532.3 738.7,532.3"/><polygon fill="#FFA50A" points="653.6,581.0 656.0,570.2 663.1,563.1 672.5,558.3 684.3,554.8 696.2,553.6 705.6,554.8 715.1,558.3 721.0,564.2 718.6,571.3 712.7,577.2 708.0,584.3 651.2,584.3"/><polygon fill="#FF8200" points="660.7,584.3 663.1,574.9 670.2,567.8 679.6,563.1 689.1,560.7 698.5,560.7 708.0,563.1 712.7,567.8 709.2,573.7 703.2,578.4 696.2,584.3"/><polygon fill="#FF5014" points="670.2,582.0 674.9,574.9 684.3,569.0 693.8,565.4 700.9,566.6 698.5,571.3 689.1,576.1 682.0,582.0"/></g><clipPath id="t15"><rect x="699" y="399" width="244" height="183"/></clipPath><g clip-path="url(#t15)" stroke="#000" stroke-width="0.55" stroke-linejoin="round"><rect x="698.5" y="398.5" width="245" height="184" fill="#FFA50A" stroke="none"/><polygon fill="#FFC828" points="697.6,397.6 912.7,397.6 912.7,402.4 889.1,404.7 874.9,403.5 860.7,404.7 846.5,402.4 832.3,404.7 818.2,407.1 804.0,405.9 789.8,407.1 778.0,410.6 766.2,409.5 756.7,407.1 742.5,411.8 728.4,416.5 714.2,421.3 700.0,426.0 697.6,427.2"/><polygon fill="#FFC828" points="700.0,532.3 714.2,527.6 728.4,522.9 742.5,518.2 756.7,511.1 770.9,505.2 785.1,504.0 799.3,501.6 813.4,499.3 827.6,494.5 841.8,487.4 856.0,480.4 870.2,473.3 879.6,466.2 889.1,459.1 898.5,452.0 906.3,448.4 912.7,447.3 912.7,499.3 906.3,494.5 898.5,495.7 889.1,499.3 879.6,504.0 870.2,511.1 860.7,518.2 851.2,525.3 841.8,532.3 832.3,541.8 822.9,548.9 813.4,553.6 804.0,558.3 794.5,563.1 785.1,567.8 775.6,572.5 766.2,577.2 759.1,584.3 697.6,584.3 697.6,532.3"/><polygon fill="#FFE650" points="700.0,535.9 714.2,532.3 728.4,527.6 742.5,522.9 756.7,515.8 770.9,509.9 785.1,507.5 799.3,505.9 813.4,503.5 827.6,498.8 841.8,491.7 856.0,484.6 870.2,476.8 879.6,469.7 889.1,462.6 898.5,455.5 912.7,450.8 912.7,494.5 898.5,493.3 889.1,496.4 879.6,501.1 870.2,507.5 860.7,514.6 851.2,521.7 841.8,528.8 832.3,538.3 822.9,545.3 813.4,550.5 804.0,555.3 794.5,560.0 785.1,564.7 775.6,569.4 766.2,574.2 756.7,581.0 752.0,584.3 697.6,584.3 697.6,535.9"/><polygon fill="#FFFAAA" points="700.0,539.4 714.2,535.9 728.4,531.2 742.5,526.4 756.7,519.3 770.9,513.4 785.1,511.1 799.3,509.2 813.4,506.8 827.6,502.1 841.8,495.0 856.0,487.9 870.2,480.4 879.6,473.3 889.1,466.2 898.5,459.1 912.7,454.4 912.7,491.0 898.5,491.0 889.1,494.1 879.6,498.8 870.2,504.5 860.7,511.5 851.2,518.6 841.8,525.7 832.3,534.7 822.9,541.8 813.4,547.7 804.0,552.4 794.5,557.2 785.1,561.9 775.6,566.6 766.2,571.3 754.4,581.0 749.6,584.3 697.6,584.3 697.6,539.4"/><polygon fill="#B4E1F5" stroke-width="1" points="735.4,584.3 740.2,574.9 747.3,565.4 754.4,556.0 761.4,546.5 768.5,539.4 778.0,532.3 787.4,526.4 796.9,520.5 806.3,515.8 818.2,511.1 827.6,506.3 841.8,499.3 856.0,492.2 870.2,483.9 879.6,478.0 889.1,470.9 898.5,462.6 912.7,457.9 912.7,488.6 898.5,488.6 889.1,491.7 879.6,495.7 870.2,501.6 860.7,508.2 851.2,515.3 841.8,522.4 832.3,531.2 822.9,539.0 813.4,544.6 804.0,549.4 794.5,554.1 785.1,558.8 775.6,563.5 766.2,568.3 756.7,574.9 749.6,584.3"/><polygon fill="#8CCDF0" points="782.7,534.7 789.8,527.6 799.3,521.7 811.1,517.0 822.9,511.1 832.3,507.5 841.8,505.2 846.5,508.7 839.4,513.4 830.0,518.2 820.5,525.3 813.4,532.3 806.3,539.4 799.3,544.2 792.2,544.2 785.1,540.6"/><polygon fill="#8CCDF0" points="867.8,488.6 872.5,485.6 878.4,487.0 877.2,491.0 871.3,492.6"/><polygon fill="#8CCDF0" points="891.4,461.4 896.2,457.9 906.3,455.5 912.7,455.5 912.7,478.0 905.6,476.8 900.9,470.9 896.2,468.5"/><polygon fill="#3CC3F5" points="899.7,461.0 906.3,459.1 912.7,459.1 912.7,470.9 905.6,470.9 900.9,466.2"/><polygon fill="#3CC3F5" points="835.9,509.9 840.6,507.5 845.3,508.2 843.0,511.5 838.3,513.0"/><polygon fill="#FFFAAA" points="884.3,478.0 889.1,473.3 896.2,470.9 900.9,474.4 902.1,480.4 897.3,483.9 890.2,485.1 885.5,482.7"/><polygon fill="#FFE650" points="714.2,546.5 721.3,541.8 730.7,539.4 740.2,541.8 747.3,546.5 742.5,552.4 733.1,553.6 723.6,552.4"/><polygon fill="#FFC828" points="721.3,547.7 728.4,544.6 735.4,546.1 737.8,549.4 730.7,551.2 723.6,550.8"/><polygon fill="#B4E1F5" stroke-width="1" points="747.3,535.9 750.8,532.3 755.5,533.5 756.7,537.1 753.2,539.4 749.2,539.0"/><polygon fill="#FFC828" points="785.1,473.3 787.4,463.8 794.5,456.7 804.0,450.8 813.4,444.9 822.9,437.8 832.3,431.9 841.8,429.5 851.2,431.9 853.6,437.8 846.5,441.4 837.1,446.1 830.0,450.8 825.3,456.7 832.3,459.1 846.5,460.3 860.7,463.8 872.5,468.5 874.9,473.3 865.4,478.0 851.2,480.4 837.1,479.2 822.9,476.8 808.7,475.6 794.5,475.6"/><polygon fill="#FFE650" points="794.5,468.5 796.9,461.9 804.0,456.2 813.4,450.1 822.9,443.0 832.3,436.6 841.8,434.3 847.7,436.6 841.8,441.4 833.5,446.1 826.4,452.0 820.5,457.9 830.0,461.9 844.2,463.3 858.3,466.6 869.0,470.9 863.1,475.2 848.9,476.8 834.7,475.6 820.5,473.3 806.3,472.1"/><polygon fill="#FFFAAA" points="799.3,465.0 804.0,460.3 812.3,454.8 821.7,447.7 831.2,440.6 839.4,437.8 843.0,439.0 837.1,443.7 828.8,449.2 821.7,455.5 817.0,461.0 827.6,464.3 841.8,466.2 856.0,469.7 863.1,472.1 853.6,473.7 839.4,473.3 825.3,470.9 811.1,469.0"/><polygon fill="#B4E1F5" stroke-width="1" points="806.3,461.9 813.4,456.7 822.9,449.6 832.3,442.5 838.3,440.2 834.7,444.9 827.6,450.1 820.5,456.2 815.8,461.4 822.9,463.8 821.7,466.6 813.4,466.2"/><polygon fill="#FFC828" points="846.5,426.0 851.2,416.5 860.7,410.6 872.5,407.1 884.3,405.9 889.1,414.2 884.3,423.6 877.2,430.7 867.8,435.4 858.3,435.4 851.2,433.1"/><polygon fill="#FFE650" points="850.1,426.0 854.8,418.9 863.1,414.2 873.7,410.6 882.0,410.6 883.2,417.7 878.4,424.8 870.2,430.7 860.7,432.6 853.6,430.7"/><polygon fill="#FFFAAA" points="852.4,424.8 856.0,421.3 861.9,422.5 864.2,427.2 860.7,430.7 854.8,429.5"/><polygon fill="#FFC828" points="707.1,447.3 710.6,437.8 716.5,430.7 726.0,426.0 737.8,423.6 752.0,422.5 766.2,420.1 780.4,416.5 792.2,415.4 793.3,420.1 782.7,423.6 768.5,426.0 754.4,428.4 740.2,430.7 730.7,434.3 724.8,440.2 721.3,447.3 720.1,456.7 721.3,465.0 716.5,467.4 710.6,461.4 707.6,454.4"/><polygon fill="#FFE650" points="711.8,447.3 714.2,440.2 720.1,434.3 728.4,429.5 740.2,427.2 754.4,425.5 768.5,423.2 781.5,420.1 791.0,417.0 791.7,419.4 781.5,422.5 768.5,425.1 754.4,427.4 740.2,429.8 729.5,432.6 723.6,437.8 719.4,446.1 718.4,455.5 716.5,461.9 713.0,456.7"/><polygon fill="#FFFAAA" points="712.3,450.8 713.7,444.9 716.1,443.7 717.0,450.8 716.1,459.1 713.7,457.9"/><polygon fill="#FF8200" points="697.6,489.8 709.5,492.2 721.3,496.9 730.7,501.6 735.4,508.7 730.7,513.4 721.3,515.8 711.8,518.2 697.6,519.3"/><polygon fill="#FF8200" points="787.0,397.6 852.9,397.6 851.2,409.5 841.8,413.7 827.6,414.2 811.1,411.8 794.5,407.1"/><polygon fill="#FF8200" points="791.0,483.9 796.9,480.4 806.3,478.0 815.8,475.6 825.3,472.1 834.7,470.9 832.3,474.4 822.9,478.0 813.4,481.5 804.0,484.6 794.5,486.3"/><polygon fill="#FF8200" points="697.6,551.2 707.1,553.6 716.5,560.7 720.1,567.8 714.2,574.9 704.7,581.0 697.6,584.3"/><polygon fill="#FF5014" points="697.6,558.3 705.9,560.7 711.8,566.6 709.5,573.7 702.4,578.4 697.6,579.6"/><polygon fill="#FFC828" points="779.2,470.9 781.5,469.0 784.6,470.4 782.7,472.8"/></g><clipPath id="t16"><rect x="499" y="229" width="244" height="183"/></clipPath><g clip-path="url(#t16)" stroke="#000" stroke-width="0.55" stroke-linejoin="round"><rect x="498.5" y="228.5" width="245" height="184" fill="#FFC828" stroke="none"/><polygon fill="#FFE650" points="497.6,289.1 507.1,286.7 514.2,283.2 523.6,278.4 533.1,272.5 542.5,267.8 552.0,263.1 561.4,258.4 568.5,253.6 573.3,252.5 578.0,256.0 582.7,260.7 585.1,265.4 589.8,270.2 599.3,267.8 611.1,265.4 622.9,264.3 634.7,263.1 646.5,261.9 660.7,259.5 674.9,256.0 689.1,251.3 700.9,247.7 709.2,245.4 710.3,250.1 705.6,258.4 700.9,265.4 696.2,270.2 692.1,276.3 692.1,285.5 699.9,284.8 712.5,281.8 715.5,287.2 725.0,298.1 732.8,312.2 743.7,326.2 745.8,336.3 745.8,227.6 497.6,227.6"/><polygon fill="#FFFAAA" points="745.8,260.7 736.3,258.4 730.4,261.9 729.2,270.2 732.8,277.3 738.7,280.8 745.8,283.2"/><polygon fill="#FFFAAA" points="726.9,237.1 734.0,234.7 745.8,232.4 745.8,244.2 736.3,246.5 730.4,243.0"/><polygon fill="#FFFAAA" points="578.0,261.9 581.5,260.2 584.6,263.1 583.9,269.0 580.4,267.8"/><polygon fill="#FFA50A" points="497.6,358.8 509.5,357.6 518.9,359.5 528.4,362.3 540.2,367.1 552.0,369.4 566.2,368.3 580.4,369.4 594.5,371.3 604.0,371.8 611.1,369.4 613.4,371.8 606.3,381.2 601.6,390.7 600.4,400.2 604.0,404.9 613.4,403.7 627.6,404.9 641.8,403.7 651.2,399.0 660.7,396.6 670.2,397.8 677.2,402.5 682.0,407.2 683.2,414.3 497.6,414.3"/><polygon fill="#FF8200" points="540.2,414.3 544.9,407.2 554.4,403.7 566.2,401.3 578.0,397.8 583.9,396.6 585.1,402.5 583.9,414.3"/><polygon fill="#FFE650" points="578.0,334.0 580.4,326.9 585.1,321.0 594.5,317.4 604.0,316.3 613.4,312.7 620.5,309.2 630.0,305.6 639.4,304.4 648.9,306.8 656.0,310.4 663.1,315.1 670.2,319.8 671.3,326.9 665.4,331.6 656.0,332.8 646.5,334.0 639.4,336.3 634.7,341.1 631.2,347.0 628.8,352.9 627.6,360.0 620.5,358.8 618.2,352.9 611.1,354.1 604.0,351.7 596.9,349.3 587.4,347.0 581.5,343.4 578.5,338.7"/><polygon fill="#FFFAAA" points="583.9,332.8 587.4,326.9 594.5,323.3 604.0,321.0 613.4,317.4 622.9,312.7 632.3,309.2 641.8,309.2 646.5,312.7 647.7,318.6 641.8,322.2 635.9,324.5 633.5,331.6 632.3,338.7 628.8,345.8 622.9,348.2 615.8,349.3 608.7,345.8 601.6,341.1 594.5,337.5 587.4,336.3"/><polygon fill="#B4E1F5" stroke-width="1" points="617.5,339.9 619.3,335.9 624.1,332.8 627.6,331.6 627.1,336.3 624.1,341.1 620.1,343.4"/><polygon fill="#FFE650" points="691.4,393.1 693.8,383.6 700.9,376.5 700.9,369.4 708.0,368.3 717.4,369.4 724.5,364.7 719.8,357.6 715.1,352.9 717.4,348.2 726.9,345.8 736.3,343.4 745.8,341.1 745.8,414.3 696.2,414.3 692.6,404.9"/><polygon fill="#FFFAAA" points="731.6,381.2 734.0,375.3 738.7,374.2 742.0,376.5 745.8,377.7 745.8,395.4 736.3,400.2 732.8,393.1"/><polygon fill="#FFFAAA" points="723.3,352.9 728.1,351.0 732.8,352.9 730.4,356.4 725.7,356.4"/></g><clipPath id="t17"><rect x="699" y="229" width="244" height="183"/></clipPath><g clip-path="url(#t17)" stroke="#000" stroke-width="0.55" stroke-linejoin="round"><rect x="698.5" y="228.5" width="245" height="184" fill="#FFFAAA" stroke="none"/><polygon fill="#FFE650" points="697.6,227.6 729.5,227.6 727.2,239.5 729.5,248.9 728.4,260.7 730.7,272.5 737.8,282.0 744.9,293.8 752.0,305.6 759.1,315.1 763.8,323.3 768.5,326.9 772.1,334.0 770.9,341.1 769.7,348.2 768.5,352.9 778.0,357.6 787.4,361.2 794.5,363.5 795.7,367.1 787.4,369.4 778.0,368.3 768.5,369.4 759.1,371.8 752.0,374.2 744.9,371.8 737.8,373.0 731.9,377.7 730.7,386.0 733.1,393.1 735.4,400.2 730.7,404.9 723.6,406.1 697.6,406.1"/><polygon fill="#FFE650" points="730.7,404.9 735.4,400.2 747.3,399.0 761.4,395.4 775.6,393.1 785.1,390.7 794.5,388.3 804.0,384.8 808.7,381.2 813.4,386.0 822.9,388.3 832.3,387.2 841.8,386.0 851.2,387.2 860.7,386.0 870.2,383.6 879.6,381.2 889.1,376.5 896.2,371.8 903.2,367.1 912.7,362.3 912.7,414.3 697.6,414.3 697.6,406.1"/><polygon fill="#FFE650" points="841.8,300.9 851.2,296.2 858.3,292.6 863.1,286.7 867.8,284.4 872.5,289.1 877.2,296.2 882.0,303.3 883.2,308.0 876.1,309.2 867.8,305.6 860.7,303.3 853.6,304.4 846.5,303.7"/><polygon fill="#FFE650" points="851.2,355.3 856.0,350.5 865.4,349.3 874.9,350.5 884.3,352.9 886.7,358.8 879.6,362.3 870.2,361.2 860.7,362.3 853.6,360.0"/><polygon fill="#FFE650" points="872.5,273.7 876.1,272.1 878.4,274.9 876.1,278.4 873.0,277.3"/><polygon fill="#FFE650" points="832.3,318.6 835.9,313.2 841.8,313.9 841.3,321.0 835.9,322.6"/><polygon fill="#FFE650" points="856.0,338.7 860.7,335.2 866.6,336.3 864.2,341.5 857.9,342.3"/><polygon fill="#FFE650" points="900.9,227.6 902.1,237.1 904.4,244.2 906.3,246.5 912.7,246.5 912.7,227.6"/><polygon fill="#FFC828" points="697.6,241.3 702.4,243.0 707.8,244.7 709.5,247.3 706.1,257.4 703.1,265.2 697.6,271.6"/><polygon fill="#FFC828" points="697.6,285.5 700.0,284.8 709.5,281.8 712.5,281.8 715.6,287.2 720.3,293.3 725.1,298.1 729.8,304.4 732.8,312.2 737.6,318.4 743.7,326.2 750.1,332.6 756.0,339.9 759.1,345.8 756.7,352.9 749.6,356.4 744.9,362.3 740.2,369.4 733.1,371.8 726.0,369.4 718.9,371.8 711.8,374.2 704.7,371.8 697.6,373.0"/><polygon fill="#FFC828" points="723.6,414.3 730.7,406.1 742.5,403.7 756.7,401.3 770.9,398.3 785.1,395.4 799.3,393.1 806.3,390.7 811.1,393.1 822.9,395.4 837.1,394.2 851.2,393.1 865.4,391.9 879.6,388.3 889.1,383.6 896.2,377.7 906.3,371.8 912.7,369.4 912.7,414.3"/><polygon fill="#FFA50A" points="744.9,414.3 754.4,409.6 768.5,406.1 782.7,403.7 796.9,401.3 806.3,398.3 813.4,400.2 827.6,401.3 841.8,400.2 856.0,399.7 865.4,400.2 879.6,395.4 889.1,390.7 898.5,383.6 906.3,378.9 912.7,376.5 912.7,414.3"/><polygon fill="#FF8200" points="787.0,414.3 794.5,406.1 806.3,402.0 822.9,400.6 841.8,401.1 852.9,405.4 851.2,414.3"/><polygon fill="#FFE650" points="878.7,354.3 880.6,351.0 886.5,349.6 894.3,350.1 902.1,350.5 907.0,350.1 907.0,398.3 902.1,397.3 896.2,400.2 890.5,404.2 884.6,408.2 878.7,411.0 872.8,408.2 869.0,404.2 867.1,398.3 868.0,394.5 872.8,392.4 878.7,390.5 883.6,384.6 886.5,380.8 884.6,376.8 880.6,373.0 877.7,369.0 878.7,363.1 876.8,359.3"/><polygon fill="#FFC828" points="880.6,355.3 886.5,354.3 894.3,356.4 902.1,358.3 907.0,359.3 907.0,371.1 902.1,369.0 896.2,366.1 890.5,364.2 884.6,362.1 880.6,359.3"/><polygon fill="#FFC828" points="880.6,392.4 886.5,389.5 892.4,387.6 898.3,385.7 904.2,383.6 907.0,383.1 907.0,398.3 902.1,397.3 896.2,400.2 890.5,404.2 886.5,407.0 884.6,402.3 882.7,397.3"/><polygon fill="#FFA50A" points="886.5,402.3 892.4,399.2 898.3,398.3 904.2,396.4 907.0,395.4 907.0,431.6 884.6,431.6 886.5,423.8 888.4,416.0 887.4,408.2"/><polygon fill="#FFFAAA" points="874.9,384.6 876.8,378.9 882.7,376.8 890.5,376.8 896.2,379.8 895.7,383.6 890.5,386.7 884.6,388.6 878.7,390.5 874.9,388.6"/><polygon fill="#FFFAAA" points="871.3,414.3 873.7,404.9 879.6,397.8 885.5,395.4 884.3,402.5 879.6,409.6 878.4,414.3"/><polygon fill="#FFFAAA" points="730.7,381.2 734.3,377.7 737.8,381.2 737.3,393.1 734.3,395.4 731.9,390.7"/><polygon fill="#B4E1F5" stroke-width="1" points="773.3,227.6 774.4,237.1 775.6,246.5 779.2,253.6 783.9,258.4 789.8,254.8 794.5,250.1 801.6,247.7 808.7,246.5 815.8,244.2 822.9,239.5 828.8,234.7 832.3,227.6"/><polygon fill="#FFFAAA" points="792.9,234.7 794.5,231.9 797.4,232.4 796.9,236.6 794.1,237.1"/><polygon fill="#B4E1F5" stroke-width="1" points="832.3,227.6 835.9,237.1 841.8,241.8 846.5,248.9 851.2,256.0 856.0,260.7 863.1,256.0 869.0,250.1 874.9,244.2 877.2,237.1 876.1,227.6"/><polygon fill="#B4E1F5" stroke-width="1" points="792.2,261.9 795.7,259.5 801.6,258.8 804.5,261.9 802.8,266.6 798.1,269.0 793.3,267.3"/><polygon fill="#B4E1F5" stroke-width="1" points="798.1,286.7 800.4,278.4 805.2,271.4 811.1,266.6 818.2,265.4 823.4,269.0 822.9,274.9 818.2,278.4 813.4,283.2 808.7,287.9 802.8,291.4 799.3,291.0"/><polygon fill="#B4E1F5" stroke-width="1" points="804.0,303.3 807.5,298.5 812.3,298.1 815.3,302.1 815.8,309.2 814.6,315.1 818.2,321.0 821.0,324.5 819.3,327.4 813.4,325.7 807.5,323.3 802.8,321.0 801.1,316.3 804.0,311.5"/><polygon fill="#B4E1F5" stroke-width="1" points="839.4,367.1 843.0,364.7 848.9,367.1 854.8,370.6 851.2,373.0 845.3,373.7 840.6,371.3"/><polygon fill="#B4E1F5" stroke-width="1" points="761.9,383.6 765.0,380.8 769.7,382.4 768.5,388.3 766.2,391.9 762.6,390.7"/><polygon fill="#B4E1F5" stroke-width="1" points="896.2,267.8 899.7,265.4 906.3,264.3 912.7,264.3 912.7,291.4 905.6,290.3 899.7,286.7 896.2,279.6"/><polygon fill="#B4E1F5" stroke-width="1" points="870.2,321.0 874.9,316.3 882.0,312.7 889.1,309.2 896.2,305.6 906.3,303.3 912.7,302.1 912.7,341.1 906.3,343.4 900.9,341.1 896.2,337.5 892.6,331.6 886.7,328.1 879.6,324.5 873.7,323.3"/><polygon fill="#8CCDF0" points="886.7,317.4 893.8,312.7 903.2,310.4 912.7,309.2 912.7,334.0 905.6,335.2 898.5,331.6 893.8,324.5"/><polygon fill="#B4E1F5" stroke-width="1" points="871.3,341.5 876.1,339.2 880.8,339.9 878.4,343.4 873.7,344.6"/><polygon fill="#B4E1F5" stroke-width="1" points="880.8,383.6 885.5,381.2 889.1,382.4 886.7,386.0 882.0,386.4"/></g><clipPath id="t18"><rect x="329" y="502" width="244" height="183"/></clipPath><g clip-path="url(#t18)" stroke="#000" stroke-width="0.55" stroke-linejoin="round"><rect x="328.5" y="501.5" width="245" height="184" fill="#FFA50A" stroke="none"/><polygon fill="#FF8200" points="412.7,500.6 408.0,503.0 400.9,506.5 396.2,512.5 397.4,519.5 400.9,524.3 405.6,529.0 410.4,521.9 417.4,517.2 423.3,519.5 426.9,526.6 424.5,536.1 419.8,545.5 415.1,553.8 419.8,559.7 429.3,560.9 434.0,563.3 430.4,569.2 419.8,571.5 408.0,572.7 399.7,576.3 397.4,583.4 400.9,594.0 408.0,602.3 417.4,607.0 426.9,610.5 436.3,614.1 443.4,620.0 448.2,625.9 452.9,631.8 458.8,637.7 467.1,642.4 476.5,649.5 486.0,659.0 495.4,668.4 504.9,677.9 509.6,687.3 575.8,687.3 575.8,500.6"/><polygon fill="#FFA50A" points="428.1,533.7 434.0,525.5 445.8,524.3 455.3,529.0 462.3,538.4 457.6,544.4 448.2,542.0 441.1,547.9 434.0,546.7 429.3,540.8"/><polygon fill="#FFA50A" points="496.6,543.2 500.2,538.4 504.9,537.3 507.2,543.2 504.9,550.3 499.0,551.4"/><polygon fill="#FF5014" points="483.6,521.9 490.7,517.2 500.2,514.8 509.6,516.0 516.5,517.2 525.9,524.7 533.0,531.8 540.1,538.4 549.5,543.6 559.0,545.5 575.8,547.0 575.8,687.3 512.0,687.3 509.6,677.9 507.2,670.8 495.4,669.6 490.7,661.3 483.6,654.2 474.2,647.2 464.7,641.3 457.6,635.3 451.7,628.3 455.3,623.5 460.0,618.8 467.1,614.1 474.2,611.7 477.7,607.0 471.8,599.9 467.1,592.8 464.7,583.4 465.9,576.3 471.8,572.7 481.2,571.5 490.7,573.9 497.8,581.0 502.5,584.5 499.0,573.9 495.4,564.4 493.1,557.4 486.0,552.6 483.6,545.5 481.2,538.4 486.0,533.7 483.6,526.6"/><polygon fill="#FF8200" points="548.6,564.4 554.5,560.9 564.0,558.5 571.1,559.7 568.7,565.6 561.6,569.2 554.5,573.9 549.8,571.5"/><polygon fill="#FF8200" points="533.2,545.5 535.6,542.0 539.2,544.4 537.5,549.1 534.4,549.1"/><polygon fill="#FF8200" points="540.3,687.3 542.7,677.9 549.8,673.2 559.2,671.3 568.7,672.0 575.8,673.2 575.8,687.3"/><polygon fill="#FFC828" points="458.8,500.6 464.7,506.5 474.2,510.1 486.0,512.5 495.4,511.3 504.9,507.7 507.2,500.6"/><polygon fill="#FFE650" points="465.9,500.6 470.6,505.4 478.9,508.2 488.3,508.9 495.4,506.5 497.8,500.6"/><polygon fill="#FFE650" points="327.6,500.6 350.1,500.6 353.6,507.7 360.7,514.8 367.8,519.5 370.2,526.6 365.4,536.1 365.4,543.2 367.8,552.6 369.0,562.1 365.4,569.2 361.9,573.9 363.1,579.8 344.2,578.6 330.0,577.4 327.6,577.4"/><polygon fill="#FFC828" points="327.6,577.4 330.0,577.4 344.2,578.6 363.1,579.8 367.8,583.4 370.2,592.8 369.0,602.3 377.3,607.0 380.8,614.1 379.6,623.5 377.3,635.3 376.1,647.2 374.9,654.2 363.1,656.6 348.9,655.4 337.1,654.2 327.6,653.1"/><polygon fill="#FFC828" points="365.4,543.2 370.2,538.4 377.3,536.1 386.7,537.3 390.3,543.2 392.6,550.3 397.4,556.2 400.9,562.1 397.4,566.8 390.3,568.0 383.2,569.2 376.1,568.0 370.2,565.6 367.8,559.7"/><polygon fill="#FF8200" points="380.8,644.8 383.2,635.3 389.1,625.9 395.0,621.2 399.7,625.9 400.9,635.3 405.6,642.4 403.3,649.5 396.2,654.2 387.9,655.4 382.0,651.9"/><polygon fill="#FFC828" points="405.6,654.2 412.7,647.2 422.2,638.9 428.1,631.8 434.0,629.4 441.1,633.0 448.2,638.9 455.3,644.8 462.3,650.7 471.8,656.6 481.2,666.1 488.3,675.5 493.1,687.3 400.9,687.3 398.5,677.9 400.9,668.4 403.3,660.2"/><polygon fill="#FFE650" points="426.9,635.3 431.6,631.8 437.5,634.2 443.4,640.1 450.5,646.0 457.6,651.9 465.9,657.8 474.2,664.9 481.2,673.2 484.8,682.6 481.2,687.3 462.3,687.3 457.6,677.9 448.2,668.4 441.1,661.3 434.0,654.2 429.3,647.2 425.7,641.3"/><polygon fill="#FFFAAA" points="428.1,628.3 431.6,624.7 436.3,627.1 435.2,631.8 430.4,632.5"/><polygon fill="#FFFAAA" points="443.4,656.6 447.0,654.2 452.9,659.0 451.7,662.5 447.0,661.3"/><polygon fill="#FFFAAA" points="450.5,650.7 452.9,649.1 457.6,653.1 455.3,654.7"/><polygon fill="#FFFAAA" points="469.4,666.1 474.2,663.7 481.2,668.4 478.9,672.0 473.0,670.3"/><polygon fill="#FFA50A" points="410.4,668.4 417.4,663.7 426.9,666.1 429.3,673.2 422.2,677.9 412.7,676.7"/><polygon fill="#FFA50A" points="424.5,682.6 431.6,677.9 441.1,680.2 443.4,687.3 424.5,687.3"/><polygon fill="#FFC828" points="327.6,650.7 344.2,653.1 363.1,656.1 379.6,656.6 391.4,654.2 400.9,650.7 410.4,650.7 412.7,659.0 405.6,668.4 396.2,673.2 384.4,676.7 372.5,682.6 370.2,687.3 327.6,687.3"/><polygon fill="#FF8200" points="341.8,659.0 353.6,657.8 367.8,657.1 377.3,656.6 374.9,661.3 363.1,663.7 351.3,664.2 343.0,662.5"/><polygon fill="#FFE650" points="327.6,659.0 337.1,659.4 348.9,660.9 363.1,662.5 377.3,663.7 389.1,663.2 400.9,659.0 408.0,655.4 410.4,659.4 403.3,666.1 396.2,668.9 386.7,670.3 377.3,673.6 367.8,677.2 358.4,678.4 348.9,677.2 339.5,673.6 327.6,671.3"/><polygon fill="#FFFAAA" points="330.0,662.5 339.5,663.7 351.3,665.1 363.1,666.1 374.9,667.2 384.4,668.0 377.3,671.3 365.4,671.7 353.6,670.3 341.8,668.4 330.0,667.2"/><polygon fill="#B4E1F5" stroke-width="1" points="327.6,666.5 332.4,667.0 335.9,669.6 332.4,672.0 327.6,671.3"/></g><clipPath id="t19"><rect x="179" y="439" width="162" height="122"/></clipPath><g clip-path="url(#t19)" stroke="#000" stroke-width="0.55" stroke-linejoin="round"><rect x="178.5" y="438.5" width="163" height="123" fill="#FFC828" stroke="none"/><polygon fill="#FFA50A" points="181.6,438.4 195.6,438.4 194.1,443.1 189.4,447.0 184.7,446.2 181.6,443.1"/><polygon fill="#FFA50A" points="226.9,461.9 231.6,460.3 239.4,461.9 245.6,466.6 250.3,471.2 255.0,475.2 261.2,477.5 267.5,480.6 273.8,483.8 280.0,486.9 284.7,490.0 283.1,494.7 276.9,493.9 269.1,491.6 261.2,488.4 255.0,486.9 250.3,487.7 245.6,485.3 244.1,481.4 240.9,483.8 237.8,486.9 233.1,483.8 230.0,477.5 227.7,471.2 226.6,465.8"/><polygon fill="#FFE650" points="280.0,438.4 278.4,444.7 280.0,450.9 282.3,457.2 281.6,463.4 284.7,468.1 287.8,472.8 289.4,479.1 288.6,485.3 287.8,491.6 288.6,497.8 290.2,504.1 292.5,510.3 296.4,516.6 300.3,522.8 303.4,529.1 306.6,536.9 308.9,546.2 309.7,554.1 310.5,561.9 342.5,561.9 342.5,438.4"/><polygon fill="#FFA50A" points="184.7,475.9 189.4,479.1 192.5,483.8 197.2,486.9 203.4,490.0 209.7,493.1 215.9,497.0 222.2,500.9 228.4,505.6 233.1,510.3 237.8,515.0 242.5,516.6 248.8,515.0 253.4,518.1 258.1,522.8 261.2,527.5 264.4,532.2 267.5,536.9 272.2,541.6 276.9,546.2 281.6,550.9 283.1,555.6 280.0,560.0 273.8,561.9 242.5,561.9 245.6,555.6 247.2,549.4 244.1,543.1 239.4,540.0 236.2,535.3 233.9,529.8 231.6,524.4 226.9,521.2 223.8,515.0 219.1,510.3 212.8,507.2 205.0,505.6 197.2,502.5 192.5,497.8 190.9,491.6 187.8,485.3 184.7,480.6"/><polygon fill="#FFE650" points="178.4,454.1 184.7,455.6 192.5,457.2 201.9,458.8 208.1,458.0 214.4,460.3 220.6,466.6 225.3,474.4 230.0,482.2 236.2,486.9 245.6,491.6 255.0,497.8 264.4,504.1 273.8,510.3 281.6,518.1 287.8,527.5 292.5,536.9 295.6,546.2 296.4,552.5 292.5,555.6 286.2,552.5 280.0,546.2 273.8,540.0 267.5,533.8 259.7,527.5 251.9,519.7 244.1,511.9 236.2,505.6 226.9,499.4 217.5,494.7 208.1,491.6 200.3,486.9 194.1,480.6 187.8,472.8 181.6,466.6 178.4,463.4"/><polygon fill="#FFFAAA" points="183.1,460.3 189.4,461.1 197.2,462.7 205.0,465.0 211.2,466.6 217.5,471.2 222.2,477.5 226.9,485.3 233.1,490.0 242.5,494.7 251.9,500.2 261.2,506.4 270.6,512.7 278.4,519.7 284.7,527.5 289.4,536.9 292.5,544.7 293.3,550.2 289.4,551.7 284.7,547.8 280.0,541.6 273.8,535.3 265.9,529.1 258.1,522.8 250.3,515.0 242.5,507.2 234.7,500.9 226.9,495.5 219.1,491.6 211.2,488.4 203.4,483.8 197.2,477.5 190.9,469.7 184.7,464.2"/><polygon fill="#B4E1F5" stroke-width="1" points="204.2,475.2 207.3,472.5 211.2,473.6 215.9,477.5 220.6,482.2 224.5,486.9 226.9,490.8 224.5,492.3 219.8,489.2 215.2,485.3 210.5,481.4 205.8,478.3"/><polygon fill="#B4E1F5" stroke-width="1" points="225.3,493.9 228.4,492.3 233.1,494.7 237.8,496.2 240.9,498.6 237.8,500.2 233.1,498.6 227.7,496.2"/><polygon fill="#B4E1F5" stroke-width="1" points="248.0,504.1 251.1,502.5 255.0,504.1 256.6,507.2 253.4,508.8 249.5,507.2"/><polygon fill="#B4E1F5" stroke-width="1" points="265.9,516.6 269.1,515.0 273.8,517.3 277.7,521.2 280.0,526.7 279.2,530.6 275.3,531.4 271.4,527.5 267.5,522.8 265.6,518.9"/><polygon fill="#B4E1F5" stroke-width="1" points="280.0,537.7 283.1,536.9 287.8,540.0 288.6,543.9 285.5,544.7 281.6,541.6"/><polygon fill="#FFE650" points="183.1,508.8 192.5,507.2 201.9,507.2 209.7,508.8 212.8,513.4 211.2,518.1 214.4,522.8 220.6,525.2 217.5,528.3 209.7,527.5 201.9,525.9 194.1,525.2 186.2,526.7 178.4,527.5 178.4,510.3"/><polygon fill="#FFE650" points="178.4,527.5 186.2,525.9 195.6,524.4 203.4,525.2 211.2,526.7 217.5,529.1 222.2,533.8 225.3,540.0 226.9,547.8 223.8,554.1 217.5,558.8 211.2,561.9 178.4,561.9"/><polygon fill="#FFFAAA" points="178.4,533.8 186.2,532.2 194.1,530.6 200.3,531.4 205.0,533.8 203.4,536.9 197.2,540.0 190.9,541.6 184.7,543.1 178.4,543.9"/><polygon fill="#FFFAAA" points="178.4,547.8 186.2,547.8 192.5,550.2 198.8,554.1 203.4,558.8 203.4,561.9 178.4,561.9"/><polygon fill="#FFFAAA" points="217.5,540.0 220.6,538.8 225.3,540.8 224.5,543.9 219.8,544.7"/><polygon fill="#FFA50A" points="209.7,549.4 212.8,546.2 219.1,547.8 223.8,552.5 225.3,558.8 222.2,561.9 212.8,561.9 210.5,555.6"/><polygon fill="#FFA50A" points="292.5,529.1 296.4,527.5 300.3,530.6 302.7,536.9 301.9,541.6 298.8,540.0 295.6,535.3"/></g><clipPath id="t20"><rect x="179" y="559" width="162" height="126"/></clipPath><g clip-path="url(#t20)" stroke="#000" stroke-width="0.55" stroke-linejoin="round"><rect x="178.5" y="558.5" width="163" height="127" fill="#FFE650" stroke="none"/><polygon fill="#FFC828" points="308.1,574.1 342.5,574.1 342.5,660.0 334.7,653.8 328.4,649.8 320.6,649.8 314.4,645.2 309.7,638.1 305.0,633.4 298.8,630.3 292.5,628.8 289.4,622.5 289.4,613.1 290.9,603.8 291.7,595.9 295.6,589.7 301.9,583.4"/><polygon fill="#FFE650" points="311.2,558.4 342.5,558.4 342.5,574.8 309.7,574.8"/><polygon fill="#FFC828" points="212.8,558.4 231.6,558.4 233.9,569.4 237.8,574.1 240.9,578.8 244.1,583.4 247.2,585.0 250.3,581.9 253.4,577.2 255.0,570.9 253.4,564.7 250.3,558.4 262.8,558.4 264.4,566.2 267.5,572.5 273.8,575.6 281.6,576.4 286.2,580.3 287.8,586.6 289.4,592.8 287.8,599.1 281.6,597.5 275.3,601.4 270.6,601.4 265.9,599.1 261.2,594.4 255.0,591.2 248.8,589.7 242.5,588.1 234.7,586.6 228.4,583.4 223.8,585.0 219.1,591.2 215.2,588.1 213.6,575.6"/><polygon fill="#FFC828" points="219.1,597.5 226.9,595.9 234.7,594.4 239.4,599.1 245.6,603.8 251.9,605.3 258.1,608.4 256.6,611.6 250.3,610.0 245.6,611.6 239.4,613.1 234.7,616.2 239.4,622.5 237.8,628.8 239.4,635.0 233.1,633.4 226.9,630.3 220.6,625.6 219.1,619.4 218.3,610.0"/><polygon fill="#FFC828" points="258.9,622.5 264.4,620.2 270.6,620.9 275.3,619.4 276.9,624.1 280.0,628.8 283.1,631.9 280.0,635.0 275.3,638.1 273.8,642.8 269.1,641.2 264.4,638.1 259.7,633.4 258.1,627.2"/><polygon fill="#FFC828" points="262.0,653.8 265.2,651.4 269.1,653.8 270.6,660.0 269.1,666.2 265.9,669.4 262.8,664.7 261.6,658.4"/><polygon fill="#FFC828" points="283.1,641.2 289.4,644.4 295.6,649.1 303.4,649.8 305.0,655.3 303.4,663.1 300.3,669.4 297.2,675.6 295.6,685.0 273.8,685.0 276.9,677.2 283.1,672.5 287.8,667.8 289.4,661.6 287.8,653.8 284.7,647.5"/><polygon fill="#FFA50A" points="262.8,558.4 264.4,566.2 267.5,572.5 273.8,575.6 281.6,576.4 286.2,580.3 287.8,586.6 292.5,591.2 298.8,588.1 305.0,580.3 309.7,572.5 308.1,566.2 305.0,561.6 301.9,558.4"/><polygon fill="#FFA50A" points="225.3,575.6 231.6,574.1 239.4,575.6 247.2,578.8 253.4,583.4 258.1,588.1 264.4,591.2 270.6,595.9 273.8,600.6 270.6,601.4 265.9,599.1 261.2,594.4 255.0,591.2 248.8,589.7 242.5,588.1 234.7,586.6 228.4,583.4 226.1,579.5"/><polygon fill="#FFA50A" points="287.8,633.4 290.9,629.5 297.2,628.8 303.4,631.1 308.1,635.0 311.2,641.2 308.1,645.9 301.9,648.3 295.6,649.1 290.9,645.9 287.8,639.7"/><polygon fill="#FF8200" points="294.8,636.6 298.8,633.4 304.2,635.0 303.4,638.9 298.8,640.5"/><polygon fill="#FFC828" points="178.4,622.5 186.2,624.1 194.1,627.2 201.9,633.4 208.1,641.2 211.2,649.1 210.5,656.9 212.8,664.7 217.5,669.4 219.1,675.6 215.9,685.0 178.4,685.0"/><polygon fill="#FFA50A" points="178.4,628.8 184.7,630.3 190.9,633.4 197.2,639.7 201.9,644.4 205.0,650.6 203.4,656.9 205.0,663.1 208.1,669.4 206.6,675.6 203.4,685.0 178.4,685.0"/><polygon fill="#FF8200" points="178.4,647.5 184.7,650.6 190.9,656.9 194.1,663.1 192.5,669.4 189.4,675.6 187.8,685.0 178.4,685.0"/><polygon fill="#FFFAAA" points="183.1,558.4 208.1,558.4 211.2,566.2 212.0,575.6 212.8,585.0 211.2,594.4 209.7,602.2 212.0,610.0 213.6,619.4 211.2,625.6 206.6,622.5 201.9,617.8 198.8,611.6 194.1,608.4 187.8,606.9 181.6,605.3 178.4,603.8 178.4,569.4 181.6,566.2"/><polygon fill="#FFE650" points="184.7,577.2 189.4,572.5 195.6,570.9 201.9,574.1 204.2,580.3 200.3,585.8 195.6,588.9 190.9,588.1 187.0,583.4"/><polygon fill="#B4E1F5" stroke-width="1" points="184.7,597.5 189.4,595.2 197.2,594.7 203.4,595.9 205.0,599.8 201.9,605.3 197.2,607.7 190.9,606.1 186.2,603.0"/><polygon fill="#B4E1F5" stroke-width="1" points="198.4,565.5 201.1,564.4 204.2,566.2 202.7,568.1 199.5,567.5"/><polygon fill="#FFFAAA" points="238.6,614.7 240.9,611.2 245.6,610.3 249.5,613.1 248.8,617.8 244.8,620.6 240.6,619.4"/><polygon fill="#FFFAAA" points="265.2,608.4 268.3,606.1 273.0,607.7 273.4,611.6 269.8,613.4 265.9,612.3"/><polygon fill="#FFFAAA" points="244.8,633.4 247.2,629.5 251.9,630.3 256.6,635.0 258.9,641.2 258.1,647.5 253.4,652.2 248.8,650.6 246.4,645.2 244.4,638.9"/><polygon fill="#FFFAAA" points="224.5,646.7 230.0,645.2 237.8,648.3 245.6,651.4 248.4,656.1 245.6,661.6 240.2,667.0 233.9,669.4 230.0,666.2 227.7,660.0 225.3,653.8"/><polygon fill="#FFFAAA" points="233.1,672.5 237.8,670.9 240.9,675.6 237.8,678.8 233.9,677.2"/><polygon fill="#FFFAAA" points="231.6,564.7 236.2,561.6 240.9,558.4 250.3,558.4 253.4,564.7 255.0,570.9 253.4,577.2 250.3,581.9 247.2,585.0 244.1,583.4 240.9,578.8 237.8,574.1 233.9,569.4"/><polygon fill="#B4E1F5" stroke-width="1" points="240.2,561.6 242.5,559.2 247.2,560.0 248.8,564.7 247.2,569.4 244.1,567.8 241.7,564.7"/><polygon fill="#FFE650" points="305.0,650.6 309.7,647.5 315.9,648.3 323.8,652.2 331.6,656.9 337.8,661.6 342.5,664.7 342.5,685.0 330.0,685.0 323.8,678.8 317.5,672.5 311.2,666.2 306.6,660.0 304.2,655.3"/><polygon fill="#FFFAAA" points="308.9,653.0 312.0,650.6 317.5,652.2 323.8,656.1 330.0,660.8 336.2,665.5 342.5,669.4 342.5,678.8 336.2,677.2 330.0,673.3 323.8,668.6 317.5,663.1 312.8,658.4 309.7,656.1"/><polygon fill="#B4E1F5" stroke-width="1" points="315.9,659.2 319.1,658.1 322.2,661.6 320.6,664.7 317.5,663.9"/><polygon fill="#B4E1F5" stroke-width="1" points="326.9,668.6 330.8,667.0 334.7,669.4 333.9,672.5 329.2,672.2"/><polygon fill="#FFA50A" points="305.0,685.0 308.1,675.6 314.4,672.5 320.6,675.6 326.9,680.3 330.0,685.0"/><polygon fill="#FFA50A" points="320.6,649.8 328.4,649.4 336.2,652.2 342.5,655.3 342.5,660.0 336.2,657.7 328.4,653.8 322.2,652.2"/></g><clipPath id="t21"><rect x="579" y="544" width="162" height="141"/></clipPath><g clip-path="url(#t21)" stroke="#000" stroke-width="0.55" stroke-linejoin="round"><rect x="578.5" y="543.5" width="163" height="142" fill="#FF5014" stroke="none"/><polygon fill="#FF8200" points="584.7,582.5 587.8,576.2 594.1,571.6 601.9,568.4 611.2,568.4 619.1,570.8 626.9,573.1 631.6,570.0 630.0,563.8 630.0,554.4 633.1,548.1 636.2,543.4 661.2,543.4 658.1,549.7 653.4,554.4 650.3,559.1 647.2,562.2 644.1,566.9 648.8,571.6 651.9,576.2 653.4,582.5 648.8,585.6 642.5,588.0 636.2,590.3 630.0,591.9 623.8,593.4 617.5,595.0 611.2,594.2 605.0,593.4 598.8,591.9 592.5,590.3 587.8,587.2"/><polygon fill="#FF8200" points="586.2,543.4 636.2,543.4 633.1,548.1 630.0,554.4 630.0,563.8 631.6,570.0 626.9,573.1 619.1,570.8 611.2,568.4 601.9,568.4 594.1,571.6 589.4,563.8 587.0,554.4"/><polygon fill="#FFA50A" points="661.2,543.4 658.1,549.7 653.4,554.4 650.3,559.1 647.2,562.2 644.1,566.9 648.8,571.6 651.9,576.2 653.4,582.5 648.8,585.6 647.2,595.0 664.4,556.7 671.4,552.0 680.0,547.3 689.4,543.4"/><polygon fill="#FF5014" points="642.5,568.4 647.2,566.9 651.1,571.6 653.1,577.8 652.2,583.3 648.8,584.1 645.6,579.4 643.3,573.9"/><polygon fill="#FFA50A" points="600.3,582.5 603.4,579.4 609.7,580.2 615.9,584.1 618.3,588.8 614.4,589.5 609.7,586.4 603.4,585.6"/><polygon fill="#FFFAAA" points="673.8,543.4 742.5,543.4 742.5,598.1 689.4,598.9 673.8,599.7"/><polygon fill="#FFE650" points="647.2,595.0 653.4,599.4 663.6,600.9 673.8,598.9 683.1,596.2 692.5,593.4 701.9,590.3 709.7,586.4 717.5,581.7 725.3,576.2 729.2,568.4 727.7,559.1 723.8,552.0 717.5,546.6 711.2,543.4 689.4,543.4 680.0,547.3 671.4,552.0 664.4,556.7"/><polygon fill="#FFC828" points="648.8,592.7 653.4,596.6 662.8,598.1 672.2,596.2 681.6,593.8 690.9,591.1 699.5,588.0 707.3,584.1 715.2,579.4 722.5,573.9 726.1,566.9 724.5,559.1 720.6,552.8 714.4,548.1 705.0,545.0 694.1,545.0 683.1,548.1 673.8,553.6 665.9,558.3"/><polygon fill="#FFA50A" points="650.3,590.3 653.4,593.4 661.2,595.0 670.6,593.4 680.0,591.1 689.4,588.8 697.2,585.6 705.0,581.7 712.8,577.0 719.8,571.6 723.0,565.3 721.4,559.1 717.5,553.6 711.2,549.7 703.4,548.1 694.1,548.1 684.7,551.2 675.3,555.9 667.5,560.6 661.2,565.3"/><polygon fill="#FF8200" points="653.4,576.2 658.1,571.6 664.4,566.9 670.6,562.2 680.0,557.5 689.4,552.8 698.8,551.2 708.1,552.8 715.9,557.5 719.8,563.0 717.5,568.4 711.2,573.1 703.4,577.8 695.6,582.5 687.8,585.6 680.0,588.0 672.2,590.3 664.4,591.9 658.1,590.3 654.2,584.1"/><polygon fill="#FF5014" points="671.4,577.8 673.8,573.1 680.0,570.0 687.8,568.4 695.6,566.9 700.3,568.4 697.2,573.1 690.9,576.2 683.1,579.4 676.9,580.9"/><polygon fill="#B4E1F5" stroke-width="1" points="689.4,598.1 695.6,595.0 705.0,591.9 714.4,587.2 723.8,582.5 730.0,577.8 742.5,574.7 742.5,685.6 676.9,685.6 680.0,679.4 686.2,673.1 692.5,666.9 694.1,659.1 692.5,651.2 690.9,643.4 692.5,635.6 694.8,627.8 692.5,620.0 689.4,613.8 687.8,607.5 690.2,602.0"/><polygon fill="#FFA50A" points="603.4,626.2 605.8,616.9 609.7,609.1 615.9,602.0 624.5,597.3 634.7,594.2 647.2,591.9 648.8,596.6 689.4,591.9 698.8,596.6 695.6,604.4 689.4,610.6 680.0,613.8 673.8,615.3 667.5,618.4 661.2,620.0 653.4,620.8 645.6,620.0 639.4,621.6 633.1,624.7 626.9,629.4 620.6,634.1 614.4,638.8 609.7,643.4 605.0,641.9 602.7,635.6"/><polygon fill="#FFC828" points="606.6,624.7 608.9,616.1 612.8,609.1 619.1,603.6 626.9,599.4 636.2,596.6 647.2,594.7 658.1,599.7 673.8,598.1 689.4,595.0 696.4,598.1 693.3,604.4 687.8,609.1 680.0,611.9 673.8,613.8 666.7,616.1 659.7,618.1 651.9,618.8 644.8,617.8 638.6,619.4 632.3,622.3 626.1,627.0 619.8,631.7 614.4,635.6 610.5,638.8 607.3,635.6 606.2,630.2"/><polygon fill="#FFE650" points="610.5,623.1 612.0,616.1 615.9,609.8 621.4,605.6 628.4,601.6 637.8,598.9 647.2,597.3 658.1,602.0 673.8,600.9 687.8,598.1 693.3,599.7 690.2,605.2 684.7,608.3 678.4,610.3 672.2,611.9 665.2,614.1 658.1,616.1 651.1,616.6 644.1,615.6 637.5,617.2 631.6,620.0 625.6,624.4 619.8,628.6 615.6,630.2 612.0,628.6"/><polygon fill="#FFFAAA" points="621.4,615.3 623.8,610.6 630.0,606.7 637.8,604.1 647.2,602.0 656.6,604.1 667.5,603.6 678.4,602.0 683.1,603.6 678.4,606.7 670.6,608.8 662.8,610.6 655.0,612.5 647.2,613.8 639.4,614.5 633.1,616.1 626.9,618.4 623.0,618.4"/><polygon fill="#B4E1F5" stroke-width="1" points="655.0,598.1 661.2,595.8 669.1,596.6 676.9,598.1 673.8,600.5 665.9,600.9 658.1,600.5"/><polygon fill="#FF8200" points="657.3,623.1 661.2,621.9 663.1,625.5 664.4,631.7 663.6,639.5 665.2,647.3 666.7,655.2 668.8,660.9 667.2,666.9 662.5,673.1 656.2,679.4 651.9,685.6 647.2,685.6 651.9,679.4 658.1,673.1 662.8,666.9 664.4,661.4 662.0,655.2 660.5,647.3 658.9,639.5 659.7,631.7 658.1,626.2"/><polygon fill="#FFA50A" points="661.2,621.6 665.2,620.3 667.5,624.7 669.1,630.9 668.3,638.8 669.8,646.6 671.4,654.4 673.4,660.6 671.9,666.9 667.2,673.1 660.9,679.4 656.6,685.6 651.9,685.6 656.6,679.4 662.8,673.1 667.5,666.9 669.1,660.6 666.7,654.4 665.2,646.6 663.6,638.8 664.4,630.9 662.8,624.7"/><polygon fill="#FFC828" points="665.2,620.0 669.1,618.4 672.2,623.9 673.8,630.2 673.0,638.0 674.5,645.8 676.1,653.6 678.1,660.6 676.6,666.9 671.9,673.1 665.6,679.4 661.2,685.6 656.6,685.6 661.2,679.4 667.5,673.1 672.2,666.9 673.8,660.6 671.4,653.6 669.8,645.8 668.3,638.0 669.1,630.2 667.5,623.9"/><polygon fill="#FFE650" points="669.1,618.4 673.8,616.1 677.7,622.3 679.2,629.4 678.4,637.2 680.0,645.0 681.6,652.8 683.9,659.8 682.3,666.9 677.7,673.1 672.2,679.1 667.5,685.6 661.2,685.6 665.9,679.4 672.2,673.1 676.9,666.9 678.4,660.6 676.1,652.8 674.5,645.0 673.0,637.2 673.8,629.4 672.2,623.1"/><polygon fill="#FFFAAA" points="673.8,615.3 680.0,613.8 687.8,609.8 690.9,613.8 694.1,621.6 695.6,629.4 693.3,637.2 691.7,645.0 693.3,652.8 694.8,660.6 692.5,668.4 687.0,674.7 680.8,680.2 676.9,685.6 667.5,685.6 672.2,679.4 678.4,673.1 683.1,666.9 683.9,659.1 681.6,651.2 680.0,643.4 678.4,635.6 679.2,627.8 677.7,621.6"/><polygon fill="#8CCDF0" points="703.4,610.6 709.7,605.9 719.1,602.8 726.9,604.4 730.0,609.1 725.3,613.8 717.5,615.3 709.7,616.9 705.0,615.3"/><polygon fill="#8CCDF0" points="711.2,629.4 717.5,624.7 725.3,623.1 730.0,626.2 726.9,632.5 719.1,634.8 712.8,634.1"/><polygon fill="#8CCDF0" points="715.9,645.0 723.8,640.3 733.1,638.8 742.5,637.2 742.5,648.1 733.1,651.2 723.8,652.8 717.5,649.7"/><polygon fill="#8CCDF0" points="703.4,666.9 709.7,662.2 717.5,663.8 720.6,670.0 715.9,674.7 708.1,673.1"/><polygon fill="#FFFAAA" points="712.8,670.0 715.9,665.3 719.1,664.5 719.8,668.4 717.5,674.7 714.4,679.4 711.2,677.8"/><polygon fill="#FFFAAA" points="685.5,676.2 687.8,674.7 690.2,677.8 688.6,680.9 685.9,680.2"/><polygon fill="#FF8200" points="633.1,646.6 634.7,638.8 637.8,632.5 642.5,628.6 648.8,627.0 655.0,626.2 658.1,623.9 653.4,623.1 647.2,623.9 640.9,625.5 635.5,629.4 632.3,635.6 630.8,641.9"/><polygon fill="#FFA50A" points="634.7,645.0 636.2,638.0 640.2,632.5 645.6,630.2 642.5,635.6 640.2,641.9 637.8,646.6"/><polygon fill="#FF8200" points="578.4,670.0 586.2,668.4 595.6,666.9 605.0,668.4 614.4,670.0 623.8,668.4 633.1,666.9 642.5,668.4 650.3,670.0 655.0,674.7 656.6,680.9 655.0,685.6 578.4,685.6"/><polygon fill="#FFA50A" points="578.4,674.7 587.8,672.3 597.2,671.2 606.6,672.3 615.9,673.9 625.3,672.3 634.7,671.2 642.5,672.3 648.8,674.7 651.1,680.2 650.3,685.6 578.4,685.6"/><polygon fill="#FFC828" points="583.1,679.4 592.5,677.0 601.9,676.2 611.2,677.8 620.6,677.0 630.0,675.5 639.4,676.2 645.6,679.4 647.2,685.6 581.6,685.6"/><polygon fill="#FFE650" points="620.6,680.9 626.9,678.6 634.7,678.6 640.9,680.9 642.5,685.6 619.1,685.6"/></g><clipPath id="t22"><rect x="663" y="502" width="138" height="119"/></clipPath><g clip-path="url(#t22)" stroke="#000" stroke-width="0.55" stroke-linejoin="round"><polygon fill="#FFE650" points="707.8,548.2 714.5,542.8 722.4,541.5 730.4,540.9 738.4,540.2 746.3,540.9 754.3,542.8 762.3,544.2 764.9,548.2 759.6,553.5 754.3,556.1 749.0,558.8 743.7,561.4 739.7,565.4 738.4,572.1 735.7,577.4 730.4,574.7 726.4,569.4 727.8,562.8 725.1,557.5 719.8,554.8 713.1,553.5 709.2,551.5"/><polygon fill="#FFC828" points="727.8,546.8 730.4,544.2 734.4,546.2 737.7,548.8 741.0,546.2 746.3,544.2 751.7,544.8 752.3,548.2 749.0,550.8 743.7,552.1 737.0,552.8 730.4,552.1"/></g>
<g fill="none" stroke="#000" stroke-width="0.5" stroke-opacity="0.8"><line x1="547.0" y1="-772.0" x2="-423.0" y2="796.3"/><line x1="547.0" y1="-772.0" x2="-320.5" y2="855.3"/><line x1="547.0" y1="-772.0" x2="-214.4" y2="907.5"/><line x1="547.0" y1="-772.0" x2="-105.2" y2="952.9"/><line x1="547.0" y1="-772.0" x2="6.7" y2="991.1"/><line x1="547.0" y1="-772.0" x2="120.8" y2="1022.1"/><line x1="547.0" y1="-772.0" x2="236.7" y2="1045.8"/><line x1="547.0" y1="-772.0" x2="353.8" y2="1061.9"/><line x1="547.0" y1="-772.0" x2="471.8" y2="1070.5"/><line x1="547.0" y1="-772.0" x2="590.0" y2="1071.6"/><line x1="547.0" y1="-772.0" x2="708.1" y2="1065.0"/><line x1="547.0" y1="-772.0" x2="825.5" y2="1050.9"/><line x1="547.0" y1="-772.0" x2="941.8" y2="1029.3"/><line x1="547.0" y1="-772.0" x2="1056.5" y2="1000.3"/><line x1="547.0" y1="-772.0" x2="1169.0" y2="964.0"/><line x1="547.0" y1="-772.0" x2="1279.0" y2="920.6"/><line x1="547.0" y1="-772.0" x2="1386.0" y2="870.2"/><line x1="547.0" y1="-772.0" x2="1489.5" y2="813.0"/><line x1="547.0" y1="-772.0" x2="1589.2" y2="749.3"/><circle cx="547.0" cy="-772.0" r="1720.3"/><circle cx="547.0" cy="-772.0" r="1600.3"/><circle cx="547.0" cy="-772.0" r="1483.0"/><circle cx="547.0" cy="-772.0" r="1367.8"/><circle cx="547.0" cy="-772.0" r="1253.7"/><circle cx="547.0" cy="-772.0" r="1140.0"/><circle cx="547.0" cy="-772.0" r="1025.9"/><circle cx="547.0" cy="-772.0" r="910.2"/><circle cx="547.0" cy="-772.0" r="791.9"/><circle cx="547.0" cy="-772.0" r="669.2"/></g>
<g fill="none" stroke="#0808f8" stroke-width="1" stroke-linejoin="round"><polyline points="395.1,142.2 380.9,144.5 364.3,149.3 350.2,154.0 338.3,159.9 333.1,164.6 332.4,170.5 336.0,177.6 345.4,184.7 359.6,191.8 373.8,198.9 385.6,204.8 397.4,209.5 411.6,213.1 423.4,217.1"/><polyline points="178.8,184.7 194.2,190.6 208.4,196.5 227.3,202.9 246.2,209.5 260.4,215.4 274.5,222.5 288.7,230.8 305.3,240.3 321.8,247.3 340.7,254.4 359.6,258.0 376.2,258.5 390.3,260.3 404.5,265.1 423.4,272.6"/><polyline points="178.8,261.5 194.2,266.3 208.4,268.6 227.3,270.5 246.2,273.3 262.7,276.9 279.3,281.6 293.4,286.3 302.9,292.2 312.3,300.5 321.8,306.4 333.6,310.0 345.4,313.5 359.6,317.1 369.1,323.0"/><polyline points="420.8,216.6 436.2,217.8 450.4,216.6 464.5,216.2 478.7,217.8 492.9,218.5 504.7,217.6 509.0,221.4 509.0,228.4 509.9,237.9 511.8,247.3 516.5,254.4 526.0,257.3 535.4,255.6 549.6,252.1 563.8,247.3 578.0,242.6 587.4,235.5 592.2,226.1 594.0,214.3 592.2,204.8 585.1,193.0 573.2,181.2 559.1,170.5 544.9,162.3 533.1,156.4 521.3,154.0 511.8,156.4 504.7,162.3 497.6,163.5 491.7,157.5 489.4,148.1 488.2,139.8"/><polyline points="420.8,272.2 431.5,276.9 443.3,282.8 450.4,289.9 455.1,299.3 459.8,308.8 464.5,323.0"/><polyline points="650.1,139.8 654.8,148.1 660.7,154.0 665.4,158.0"/><polyline points="662.8,157.1 673.5,167.0 685.3,181.2 697.1,195.4 706.5,209.5 713.6,220.2 717.2,228.4 720.7,234.3 727.8,236.0 742.0,234.3 758.5,230.8 772.7,228.4 784.5,228.0 792.8,224.9 796.3,222.5 803.4,221.4 817.6,220.2 829.4,219.0 834.2,211.9 840.1,204.8 848.3,202.0 857.8,202.9 867.2,207.2 876.7,214.3 886.1,223.7 893.2,235.5 898.0,247.3 901.5,259.2 907.4,265.1"/><polyline points="723.1,139.8 730.2,150.5 739.6,161.1 753.8,170.5 768.0,176.4 782.2,178.3 796.3,176.4 810.5,172.9 824.7,170.5 834.2,165.8 843.6,159.9 853.1,154.0 864.9,148.1 877.9,142.2"/><polyline points="777.0,139.8 782.2,145.3 791.6,146.2 801.1,143.8 805.8,139.8"/><polyline points="371.4,320.8 380.9,329.1 392.7,338.5 404.5,348.0 416.3,357.4 423.4,361.7"/><polyline points="178.8,338.1 187.1,330.3 196.5,324.8 206.0,322.5 217.8,322.0 232.0,324.4 243.8,329.1 255.6,336.2 265.1,345.6 274.5,352.7 286.3,357.4 298.2,362.2 310.0,368.1 318.3,374.0 321.8,381.1 324.2,390.5 326.1,400.0 325.3,409.4 321.8,416.5 317.1,423.6 315.9,433.1 319.4,442.5 323.0,452.0 324.6,463.8 324.2,475.6 323.0,487.4 321.8,504.0"/><polyline points="420.8,361.7 431.5,369.3 443.3,379.9 455.1,390.5 466.9,401.2 478.7,411.8 490.5,421.3 502.4,430.7 511.8,434.3 523.6,437.8 535.4,442.5 547.3,448.4 559.1,454.3 573.2,460.3 587.4,465.0 601.6,469.7 615.8,474.4 630.0,481.5 644.1,489.8 658.3,499.2 665.4,504.0"/><polyline points="465.7,320.8 474.0,329.1 485.8,339.7 497.6,350.4 511.8,359.8 526.0,368.1 540.2,374.0 554.3,377.5 568.5,379.2 582.7,380.6 592.2,382.3 599.2,387.0 606.3,392.9 613.4,398.8 622.9,403.5 634.7,405.9 648.9,406.6 665.4,407.1"/><polyline points="662.8,407.6 671.1,411.8 678.2,418.9 687.6,428.3 697.1,440.2 704.2,449.6 711.3,452.5 720.7,449.6 734.9,443.7 749.1,437.8 763.3,433.1 777.4,428.3 791.6,422.4 805.8,417.7 817.6,416.1 824.7,417.7 825.9,423.6 822.3,430.7 815.2,437.8 805.8,444.9 798.7,452.0 795.2,459.1 796.3,463.8 803.4,466.6 815.2,465.7 824.7,461.4 834.2,461.4 843.6,463.8 855.4,467.3 864.9,470.9 868.4,475.6 862.5,479.2 853.1,479.9 843.6,479.2 834.2,480.3 827.1,485.1 817.6,489.8 805.8,494.5 794.0,498.1 782.2,502.1 775.1,504.0"/><polyline points="827.1,413.0 829.4,409.4 838.9,409.0 848.3,407.6 854.2,405.9 853.1,408.3 846.0,409.9 834.2,411.8 827.1,413.0"/><polyline points="907.4,455.5 900.3,455.5 894.4,456.7 890.9,461.4 892.1,465.0 894.4,468.5 900.3,473.2 907.4,476.1"/><polyline points="867.2,487.4 872.0,485.1 877.9,487.4 875.5,491.0 869.6,491.7 867.2,487.4"/><polyline points="848.3,497.4 855.4,494.5 861.3,496.9 860.6,504.0"/><polyline points="321.8,501.8 324.2,512.5 327.7,524.3 330.1,536.1 328.9,547.9 324.2,559.7 317.1,571.5 311.2,583.4 308.8,595.2 309.5,604.6 313.5,616.4 319.4,628.3 325.3,638.9 328.4,647.2 321.8,649.1 310.0,648.3 298.2,649.5 291.1,647.2 286.3,640.1 285.2,630.6 284.0,621.2 279.3,611.7 272.2,604.6 262.7,598.7 253.3,594.0 243.8,591.6 234.4,592.3 226.1,594.7 221.4,590.4 217.8,581.0 215.0,571.5 210.7,562.1 204.8,552.6 197.7,545.5 189.5,540.8 178.8,537.7"/><polyline points="178.8,598.2 189.5,604.6 198.9,611.7 206.0,621.2 213.1,631.8 220.2,638.9 229.6,642.4 239.1,643.6 246.2,647.2 249.7,656.6 253.3,668.4 259.2,677.9 262.7,685.0"/><polyline points="178.8,632.5 187.1,637.7 191.8,644.8 193.0,654.2 190.6,666.1 188.3,675.5 187.1,685.0"/><polyline points="239.1,562.1 243.8,559.7 248.1,563.3 248.5,569.2 245.7,573.9 241.4,575.1 238.6,570.4 239.1,562.1"/><polyline points="423.4,573.9 411.6,572.0 402.1,571.5 395.1,573.9 391.5,578.6 393.9,585.7 398.6,594.0 404.5,599.9 412.8,603.4 423.4,606.0"/><polyline points="389.2,643.6 392.0,642.4 393.9,644.8 392.0,647.2 389.6,646.5 389.2,643.6"/><polyline points="415.1,666.1 418.7,664.9 420.6,668.4 417.5,672.0 414.7,669.6 415.1,666.1"/><polyline points="380.4,685.0 380.9,677.9 384.4,675.0 390.3,675.5 393.9,679.1 394.6,685.0"/><polyline points="420.8,584.1 426.7,586.9 432.6,584.5 433.8,578.6 430.3,571.5 432.6,565.6 440.9,559.7 448.0,552.6 455.1,544.4 462.2,536.1 469.3,529.0 477.5,524.3 485.8,523.8 492.9,529.0 496.4,537.3 497.6,546.7 502.4,553.8 509.4,559.7 516.5,565.6 523.6,573.9 529.5,583.4 535.4,590.4 542.5,592.8 552.0,589.3 561.4,583.4 568.5,578.6 573.2,578.2 576.8,583.4 580.3,591.6 587.4,599.9 596.9,608.2 602.8,616.4 601.6,628.3 602.8,637.7 607.5,644.3 613.4,642.4 620.5,637.7 627.6,631.8 634.7,625.9 644.1,624.7 653.6,625.9 665.4,627.1"/><polyline points="420.8,610.5 431.5,611.2 438.5,614.1 443.3,621.2 448.0,630.6 457.4,640.1 466.9,649.5 476.4,659.0 483.4,668.4 489.4,677.9 492.9,685.0"/><polyline points="665.4,538.4 660.7,543.2 658.3,550.3 659.5,557.4 665.4,560.2"/><polyline points="665.4,603.4 658.3,605.8 648.9,609.3 639.4,612.9 630.0,616.4 622.9,618.8 627.6,620.5 634.7,621.2 646.5,620.0 665.4,618.8"/><polyline points="578.0,685.0 587.4,679.1 599.2,676.7 611.1,677.9 620.5,675.5 630.0,672.0 639.4,673.2 644.1,679.1 646.5,685.0"/><polyline points="746.7,584.5 763.3,576.3 782.2,566.8 801.1,558.5 817.6,549.1 829.4,538.4 843.6,529.0 860.2,519.5 876.7,511.3 890.9,505.4 900.3,501.8"/><polyline points="746.7,584.5 753.8,592.8 763.3,602.3 772.7,610.5 777.4,614.1 782.2,621.2 791.6,630.6 805.8,637.7 820.0,642.4 834.2,646.0 848.3,647.6 860.2,644.8 872.0,644.8 886.1,640.1 900.3,630.6 907.4,628.3"/><polyline points="829.4,501.8 824.7,506.5 812.9,511.3 801.1,516.0 791.6,521.9 784.5,527.8 782.2,533.7 786.9,540.8 796.3,544.4 805.8,542.0"/><polyline points="662.8,558.5 675.8,553.8 687.6,551.4 699.4,551.4 711.3,556.2 717.2,563.3 711.3,571.5 699.4,578.6 687.6,582.2 675.8,584.5 662.8,585.7"/><polyline points="737.3,524.3 738.4,533.7 739.6,545.5 742.0,557.4 740.8,569.2 737.3,578.6 730.2,585.7 720.7,592.8 708.9,599.9 699.4,607.0 698.3,616.4 701.8,628.3 704.2,640.1 706.5,651.9 711.3,661.3 708.9,668.4 699.4,673.2 687.6,677.9 675.8,681.4 662.8,684.5"/><polyline points="760.9,636.5 751.4,635.3 742.0,633.0 734.9,628.3 732.5,621.2 734.9,614.1 742.0,610.5 751.4,611.7 758.5,616.4 768.0,614.1 770.3,618.8 763.3,625.9 758.5,633.0 763.3,637.7 772.7,642.4 779.8,649.5 786.9,651.9 796.3,648.3 805.8,649.5 815.2,651.9 829.4,650.7 843.6,654.2 857.8,659.0 872.0,666.1 886.1,668.4 900.3,666.1 907.4,663.7"/><polyline points="742.0,685.0 744.4,673.2 751.4,668.4 758.5,673.2 760.9,685.0"/><polyline points="846.0,668.4 850.7,664.9 860.2,666.1 867.2,670.8 866.1,677.9 860.2,681.4 850.7,680.2 846.0,675.5 846.0,668.4"/><polyline points="662.8,507.7 673.5,506.5 682.9,510.1 686.5,514.8 685.3,520.7"/><polyline points="737.3,524.3 739.6,517.2 746.7,512.5 758.5,511.3 770.3,508.9 782.2,505.4 786.9,501.8"/><polyline points="420.8,584.1 417.4,584.5 410.4,579.8 403.3,573.9 397.4,572.0 392.6,575.1 391.9,581.0 395.0,588.1 399.7,596.3 405.6,603.4 415.1,608.2 420.8,610.5"/><polyline points="654.7,496.2 667.2,504.1 678.1,507.2 685.2,510.3 685.9,515.0 682.8,518.1 675.0,521.2 668.8,522.8 667.2,527.5 665.6,533.8 662.5,540.0 661.7,549.4 662.5,561.1"/></g><clipPath id="kc0"><rect x="330" y="601" width="252" height="90"/></clipPath><clipPath id="kc1"><rect x="300" y="290" width="200" height="181"/></clipPath><clipPath id="kc2"><rect x="741.5" y="230" width="201" height="181"/></clipPath><g fill="none" stroke="#000" stroke-width="0.6" stroke-linejoin="round"><g clip-path="url(#kc1)"></g><g clip-path="url(#kc2)"></g><polyline points="424.1,559.4 432.3,559.4 441.8,560.6 443.0,554.7 441.8,548.8 446.5,542.9 453.6,540.5 460.7,535.8 465.4,531.1 470.2,528.7 474.9,532.3 479.6,537.0 486.7,539.3 492.6,542.9 493.8,552.3 496.2,559.4 503.2,561.8 510.3,565.3 517.4,566.5 523.3,571.2 526.9,580.7 530.4,590.2 536.3,596.1 543.4,600.1"/><polyline points="381.5,459.0 370.9,460.6 361.4,460.6 357.2,463.7 356.2,470.1 350.8,468.4 342.5,466.1 337.8,467.3 337.3,473.2 341.4,476.7 350.8,475.5 356.7,477.9 353.2,480.3 346.1,481.0 344.9,485.0 348.4,490.9 349.6,501.5 350.8,508.6 357.9,513.3 363.8,517.4 369.7,521.1 371.4,526.3 368.1,533.4 365.0,540.5 367.4,548.8 370.9,555.9 372.8,563.0 378.0,565.3 381.5,568.9 387.4,567.7 393.3,568.9 399.3,567.7 401.6,564.2 399.3,559.4 393.3,552.3 391.0,545.3 387.4,538.2 380.4,535.8 370.9,537.0"/><polyline points="298.8,442.5 309.5,440.1 321.3,434.2 330.7,430.6 340.2,428.3 347.3,424.7 356.7,421.2 366.2,419.5 378.0,420.0 386.3,423.5 391.7,430.6 391.0,438.9 387.4,447.2 383.9,454.3 381.5,459.0"/><polyline points="298.8,524.0 302.4,533.4 305.9,545.3 309.5,555.9 316.5,561.8 321.3,565.3 316.5,567.7 310.6,570.1 307.1,576.0 304.7,585.4 302.4,594.9 301.2,602.0"/><polyline points="363.8,573.6 365.0,583.1 370.9,585.4 375.6,590.2 378.0,597.2 379.2,602.0"/><polyline points="453.6,475.5 457.9,468.4 465.4,463.7 474.9,461.4 480.1,456.6 486.7,447.2 493.8,441.3 503.2,438.4 512.7,439.4 521.7,440.8 520.3,446.5 515.5,451.2 513.9,457.8 517.4,465.4 521.0,472.5 524.0,479.1 520.3,485.2 513.9,489.0 510.3,496.1 508.0,503.2 503.2,508.9 496.2,512.2 489.1,513.6 482.0,511.2 474.9,509.8 469.0,507.9 465.9,502.7 466.6,490.9 468.3,480.3 472.0,472.5 476.8,466.8"/><polyline points="498.8,439.0 507.1,440.2 516.5,438.3 522.5,440.6 520.1,447.3 515.4,454.8 511.8,461.9 514.2,470.9 520.1,476.1 525.5,480.8"/><polyline points="709.5,454.4 710.6,444.9 714.2,437.8 721.3,430.7 730.7,426.5 742.5,424.1 756.7,422.5 770.9,420.1 782.7,417.0 792.2,415.4 793.3,420.1 782.7,423.6 768.5,426.0 754.4,428.4 740.2,430.7 730.7,434.3 724.8,440.2 721.3,447.3 720.1,456.7 718.9,465.0 714.2,466.2 710.6,460.3 709.5,454.4"/><polyline points="828.8,522.9 822.9,525.3 818.2,530.0 811.1,535.9 804.0,541.8 796.9,547.7 789.8,551.2 782.7,553.6 775.6,557.2 770.9,563.1 766.2,566.6 759.1,565.4 754.4,569.0 749.6,573.7 747.3,582.0"/><polyline points="747.3,532.3 748.4,541.8 749.6,551.2 747.3,560.7 744.9,570.2 742.5,582.0"/><g clip-path="url(#kc0)"><polyline points="350.1,501.8 353.6,507.7 360.7,513.6 369.0,518.4 372.1,521.9 370.2,527.8 365.4,536.1 365.9,543.2 371.4,538.4 378.4,536.1 386.7,537.7 390.3,543.6 392.6,550.7 397.4,556.9 400.9,562.6 397.4,566.8 390.3,568.7 383.2,569.6 376.1,568.5 370.6,566.3 367.8,560.2 365.9,550.3 365.9,543.2"/><polyline points="367.8,568.0 365.4,571.5 363.1,576.3 365.4,581.0 370.2,583.4 377.3,584.5 378.4,590.4 374.9,594.0 369.0,597.5 371.4,603.4 377.3,604.6 380.8,609.3 381.5,616.4 380.1,625.9 378.4,635.3 376.8,647.2 375.4,654.2 365.4,656.6 351.3,656.1 337.1,655.0 328.8,654.2"/><polyline points="377.3,646.0 386.7,644.8 393.8,638.9 400.9,634.2 408.0,631.8 417.4,633.0 424.5,630.6 431.6,629.4 436.3,631.8 441.1,635.3 448.2,638.9 455.3,642.4 462.3,646.0 469.4,650.7 476.5,654.2 483.6,660.2 488.3,666.1 495.4,669.6 507.2,670.8 509.6,677.9 510.1,685.0"/><polyline points="424.5,559.2 434.0,559.7 439.9,560.9 441.1,553.8 443.4,547.9 448.2,544.4 452.9,542.0 457.6,538.4 462.3,533.7 465.9,531.4 469.4,527.8 474.2,530.2 478.9,533.7 483.6,538.4 488.3,542.0 493.1,545.5 493.1,551.4 495.4,558.5 500.2,563.3 507.2,565.6 516.7,565.6 523.8,569.2 527.3,576.3 530.9,583.4 535.6,592.8 542.7,599.9 552.1,607.0 561.6,614.1 568.7,618.8 573.4,621.2 581.0,627.5"/></g><polyline points="183.1,460.3 189.4,466.6 195.6,471.2 203.4,475.9 211.2,482.2 219.1,486.9 226.9,493.1 236.2,497.0 245.6,500.9 253.4,507.2 261.2,513.4 267.5,518.1 273.8,522.8 280.0,529.1 286.2,535.3 289.4,540.0 287.8,543.1"/><polyline points="181.6,509.5 187.8,511.1 195.6,513.4 201.9,514.2 205.0,518.1 209.7,522.8 212.8,527.5 215.9,530.6 220.6,532.2 226.9,531.4 233.1,532.2 236.2,533.8 239.4,536.9 242.5,541.6 244.1,544.7 241.7,547.8 242.5,552.5 245.6,557.2 248.8,561.9"/><polyline points="212.8,527.5 213.6,533.8 211.2,538.4 208.9,543.1 209.7,549.4"/><polyline points="300.3,439.2 297.2,446.2 294.1,452.5 289.4,457.2 283.1,461.9 281.6,465.0 284.7,468.9 287.8,473.6 289.4,479.8 288.6,486.1 287.8,492.3 288.6,498.6 290.2,504.8 292.5,511.1 296.4,517.3 300.3,523.6 303.4,529.8 298.8,532.2 294.1,535.3 289.4,540.0"/><polyline points="211.2,566.2 213.6,572.5 212.8,580.3 211.2,586.6 212.0,594.4 208.9,599.1 205.0,602.2 205.8,605.3 209.7,605.3 212.0,610.0 211.2,616.2 213.6,622.5 215.2,628.8 217.5,633.4 215.9,638.1 215.2,644.4 216.7,649.1 220.6,653.8 225.3,656.9 231.6,657.7 227.7,661.6 226.1,666.2 226.9,672.5 225.3,678.8 223.8,685.0"/><polyline points="217.5,566.2 223.8,563.1 226.9,566.2 230.0,572.5 233.9,578.8 239.4,583.4 244.1,586.6 247.2,588.1 251.9,588.9 252.7,583.4 253.4,577.2 255.0,572.5 251.9,569.4 250.3,564.7 248.8,559.2"/><polyline points="251.9,588.9 258.1,585.0 264.4,581.9 270.6,579.5 276.9,577.2 282.3,576.4 284.7,580.3 285.5,585.0 281.6,588.9 278.4,592.8 280.0,597.5 283.9,599.8 286.2,603.8 289.4,606.9 290.2,613.1 289.4,619.4 291.7,625.6 295.6,629.5 303.4,631.1 308.1,634.2 312.0,639.7 315.9,643.6 320.6,647.5 328.4,649.8 336.2,653.0 342.5,656.1"/><polyline points="309.7,569.4 306.6,575.6 303.4,581.9 298.8,588.9 294.1,593.6 291.7,597.5 290.9,605.3"/><polyline points="179.2,608.4 186.2,610.0 192.5,613.1 198.8,616.2 203.4,620.2 208.1,625.6 211.2,630.3"/><polyline points="625.3,566.9 628.4,570.0 633.1,571.6 637.8,570.8 640.2,574.7 639.4,577.8 642.5,576.2 648.8,574.7 653.4,577.8 652.7,584.1 648.8,586.4 644.1,587.2 642.5,591.1 645.6,591.9 650.3,590.3 655.0,588.8 661.2,586.4 667.5,584.8 673.8,583.3 680.0,581.7 686.2,582.5 692.5,580.2 698.8,576.2 705.0,573.1 711.2,570.0 717.5,565.3 715.9,562.2 711.2,563.0 705.0,559.1 698.8,555.9 692.5,553.6 689.4,552.0"/><polyline points="642.5,591.1 644.1,596.6 648.8,598.1 655.0,598.9 662.8,597.3 670.6,598.9 676.9,598.1 683.1,596.6 689.4,597.3 695.6,595.8 701.9,596.6 708.1,595.0"/><polyline points="634.7,621.6 633.1,626.2 633.9,632.5 637.8,637.2 634.7,641.9 631.6,646.6 632.3,652.8 633.9,657.5 639.4,660.6 645.6,657.5 650.3,652.8 655.0,654.4 661.2,648.1 667.5,645.0 673.8,644.2 675.3,638.8 672.2,632.5"/><polyline points="579.2,656.7 586.2,654.4 592.5,651.2 597.2,652.8 603.4,654.4 608.1,653.6 607.3,646.6 608.1,638.8 601.9,637.2 595.6,634.1 589.4,632.5 583.1,629.4 579.2,626.2"/><polyline points="608.1,653.6 615.9,652.8 622.2,654.4 628.4,655.9 633.9,657.5"/><polyline points="698.8,652.8 705.0,657.5 712.8,654.4 720.6,651.2 728.4,646.6 736.2,645.0 742.5,641.9"/><polyline points="701.9,670.0 708.1,666.9 715.9,668.4 720.6,674.7 717.5,680.9"/><polyline points="181.6,299.2 183.1,306.2 187.8,310.9 194.1,312.5 197.2,317.2 203.4,320.3 209.7,325.0 212.0,328.9 208.1,333.6 206.6,339.1 205.8,345.3 202.7,350.0 200.3,357.8 195.6,362.5 189.4,364.1 183.1,361.7 179.2,361.7"/><polyline points="734.9,581.0 732.5,590.4 731.4,599.9 734.9,607.0 739.6,614.1 746.7,616.4 751.4,611.7 755.0,618.8 758.5,625.9 762.1,635.3 758.5,640.1 751.4,644.8 744.4,647.2 734.9,644.8 725.4,647.2 718.4,651.9 711.3,656.6 704.2,654.2 699.4,659.0"/><polyline points="694.7,673.2 706.5,668.4 720.7,666.1 734.9,663.7 746.7,656.6 758.5,654.2 768.0,659.0 777.4,663.7 786.9,668.4 796.3,666.1 805.8,668.4 815.2,673.2 824.7,668.4 834.2,663.7 843.6,656.6 853.1,654.2 864.9,656.6 876.7,654.2 888.5,649.5 900.3,644.8 907.4,642.4"/><polyline points="824.7,668.4 827.1,675.5 829.4,685.0"/><polyline points="777.4,553.8 779.8,559.7 775.1,564.4 768.0,569.2 758.5,573.9 751.4,576.3 744.4,581.0 737.3,583.4 734.9,581.0"/><polyline points="777.4,553.8 786.9,547.9 796.3,543.2 805.8,538.4 815.2,533.7 822.3,527.8 827.1,519.5 829.4,510.1 829.9,503.0"/><polyline points="573.2,668.4 572.1,677.9 569.7,685.0"/></g><g fill="none" stroke="#000" stroke-width="1.25" stroke-linejoin="round"><polyline points="500.0,321.0 504.7,318.6 510.6,315.1 514.2,310.4 511.8,305.6 515.4,300.9 521.3,298.5 528.4,299.0 530.7,296.2 526.0,292.6 521.3,291.4 518.9,286.7 516.5,283.2 517.7,277.3 522.5,276.1 528.4,277.3 535.4,276.1 542.5,273.7 549.6,271.4 559.1,269.0 568.5,265.4 573.3,263.1 576.8,260.7 581.5,261.9 583.9,260.2 594.5,257.2 604.0,253.6 611.1,251.3 613.4,247.7 618.2,245.4 620.5,241.8 626.4,243.0 632.3,245.4 637.1,246.5 641.8,243.0 646.5,241.8 648.9,246.5 651.2,253.6 652.4,260.7 651.2,265.4 656.0,267.8 663.1,265.4 666.6,269.0 670.2,266.6 674.9,269.0 679.6,267.8 684.3,265.4 685.5,270.2 683.2,277.3 686.7,276.1 691.4,272.5 696.2,271.4 700.9,267.8 705.6,265.4 710.3,261.9 715.1,258.4 719.8,254.8 724.5,251.3 726.9,250.1 725.7,254.8 722.1,258.4 727.8,261.4 737.3,268.5 746.7,278.0"/><polyline points="583.9,260.2 585.1,267.8 583.9,274.9 586.3,282.0 587.4,291.4 588.6,300.9 586.3,308.0 585.1,313.9 589.8,315.1 596.9,313.9 604.0,315.1 606.3,311.5 613.4,312.7 615.8,308.0 620.5,303.3 622.9,298.5 624.1,291.4 621.7,286.7 624.1,283.2 630.0,280.8 634.7,279.6 639.4,282.0 641.8,285.5 651.2,286.7 660.7,287.9 670.2,291.4 679.6,295.0 686.7,297.4 691.4,298.5 693.8,296.2 691.4,291.4 686.7,286.7 684.3,280.8 685.5,276.1"/><polyline points="693.8,297.4 695.0,303.3 697.3,312.7 698.5,319.8 696.2,324.5 693.8,329.3 698.5,334.0 705.6,337.5 712.7,341.1 717.4,345.8 716.2,350.5 722.1,349.3 729.2,347.0 736.3,345.8 743.4,343.4"/><polyline points="585.1,313.9 583.9,319.8 581.5,324.5 579.2,331.6 578.0,338.7 581.5,344.6 587.4,347.0 594.5,349.3 601.6,351.7 606.3,355.3 613.4,354.1 618.2,351.7 625.3,349.3 627.6,352.9 628.8,360.0 634.7,359.5 641.8,357.6 648.9,361.2 653.6,357.6 658.3,352.9 665.4,348.2 670.2,344.6 674.9,348.2 679.6,345.8 684.3,342.3 691.4,337.5 696.2,334.0"/><polyline points="500.0,321.0 507.1,326.9 514.2,331.6 521.3,335.2 528.4,339.9 533.1,348.2 535.4,357.6 539.0,364.7 541.4,370.6 535.4,374.2 533.1,381.2 535.4,388.3 540.2,393.1 547.3,397.8 554.4,403.7 559.1,408.4 563.8,402.5 568.5,395.4 578.0,391.9 587.4,388.3 594.5,383.6 601.6,377.7 608.7,371.8 613.4,364.7 618.2,358.8 620.5,355.3"/><polyline points="498.8,351.7 511.8,351.0 520.1,347.0 523.2,341.1 522.5,335.2"/><g clip-path="url(#kc1)"><polyline points="329.5,429.4 323.6,428.3 321.3,424.7 323.6,421.2 327.2,418.8 324.8,410.5 322.5,403.4 318.9,396.3 313.0,395.2 307.1,394.0 304.7,386.9 304.7,382.2 305.9,370.4 308.3,358.5 310.6,349.1 316.5,343.2 322.5,337.3 326.0,340.8 329.5,347.9 334.3,350.3 337.8,347.9 339.0,340.8 341.4,336.1 347.3,332.5 353.2,327.8 359.1,325.4 365.0,323.1 369.7,318.4 373.3,315.5 378.0,317.2 381.5,320.7 387.4,319.5 393.3,317.9 396.9,320.7 401.6,323.1 407.5,326.6 413.4,331.4 417.0,336.1 419.3,340.8 422.9,339.6 426.4,340.8 428.8,344.4 432.3,347.9 439.4,349.1 444.2,345.5 448.9,342.0 453.6,340.8 460.7,340.8 465.4,342.5 470.2,340.8 476.1,341.5 480.8,345.5 486.7,347.9 491.4,351.4 497.3,350.3 500.9,347.9 508.0,348.6 515.1,346.7 521.0,343.2 523.3,338.4 521.0,332.5 513.9,330.2 508.0,327.8 504.4,324.3"/><polyline points="523.3,338.4 529.2,334.9 532.8,340.8 535.1,347.9 536.3,355.0 538.7,360.9 543.4,366.1"/><polyline points="543.4,371.5 536.3,375.1 532.8,381.0 536.3,386.9 538.7,391.6 543.4,394.0"/><polyline points="422.9,339.6 421.7,346.7 419.3,353.8 420.5,360.9 417.0,365.6 411.1,369.2 406.3,372.7 407.5,378.6 404.0,381.0 399.3,382.2 393.3,381.0 389.8,384.5 387.9,390.4"/><polyline points="407.5,378.6 409.9,384.5 413.4,389.3 418.2,390.4 421.7,394.0 421.7,403.4 420.5,412.9 421.0,422.3"/><polyline points="512.7,421.2 517.4,418.8 524.5,417.6 528.1,422.3 531.6,427.1 536.3,431.8 543.4,433.2"/></g><g clip-path="url(#kc2)"><polyline points="700.0,269.0 704.7,265.4 709.5,261.9 714.2,259.5 718.9,257.9 721.3,257.2 723.6,252.5 726.5,250.8 725.5,254.8 722.5,258.4 727.2,261.9 735.4,266.6 744.9,274.9 754.4,285.5 763.8,297.4 773.3,309.2 781.5,318.6 785.6,322.6 788.6,319.8 791.0,313.9 793.3,310.4 799.3,310.4 800.4,316.3 804.0,317.4 807.5,315.1 813.4,312.7 822.9,310.4 827.6,307.5 833.5,306.8 838.3,309.2 841.8,312.7 845.3,317.4 851.2,319.8 857.2,321.0 863.1,323.3 870.2,324.5 877.2,323.3 883.2,321.0 886.7,324.5 889.1,329.3 891.4,334.0 892.6,341.1 890.2,347.0 886.7,352.9 882.0,358.8 880.8,364.7 883.2,371.8 886.7,377.7 887.9,382.4 883.2,386.0 877.2,390.7 870.2,391.9 863.1,390.7 856.0,391.9 848.9,390.7 848.4,400.2 847.7,412.0"/><polyline points="768.5,303.7 768.5,306.8 764.3,313.2 758.6,319.3 761.9,324.5 769.0,329.3 770.9,335.9 769.0,343.0 761.9,344.6 755.5,343.4 753.2,338.7 747.3,336.3 742.5,338.7 741.4,343.4 735.4,345.8 728.4,347.0 723.6,350.5 718.9,352.9 716.5,349.3 713.0,345.8 709.5,343.4 704.7,341.1 698.8,339.9"/><polyline points="755.5,343.4 753.2,350.5 749.6,357.6 750.8,364.7 748.4,371.8 753.2,376.5 752.0,383.6 756.7,388.3 757.9,395.4 756.7,402.5 757.9,412.0"/><polyline points="757.9,411.0 768.5,409.6 775.6,406.1 781.5,408.4 787.4,412.0"/></g><polyline points="381.5,459.0 387.4,455.4 394.5,450.7 401.6,446.0 411.1,443.6 420.5,443.2 425.3,441.3 430.0,443.6 432.3,448.4 437.1,449.5 440.6,453.1 441.8,460.2 442.3,467.3 442.5,472.5"/><polyline points="420.5,418.8 422.4,427.1 426.4,434.2 430.0,440.1 431.9,446.0"/><polyline points="431.2,476.2 441.8,473.2 453.6,470.8 465.4,468.4 473.7,466.1"/><polyline points="431.2,476.2 428.8,498.0 426.4,521.6 424.8,542.9 424.1,559.4 415.8,559.0 411.1,554.7 407.5,547.6 404.0,540.5 399.3,535.8 393.3,533.4 385.1,533.0 378.0,533.4 370.9,535.8 366.2,540.5"/><polyline points="516.2,418.8 513.9,424.7 510.3,431.8 503.2,434.2 497.3,438.4 492.6,442.5 486.7,449.5 480.8,457.8 473.7,466.1 482.0,473.2 491.4,481.4 500.9,489.7 511.5,496.8 519.8,505.1 528.1,514.5 536.3,513.3 543.4,512.2"/><polyline points="480.8,457.8 480.8,470.8"/><polyline points="526.9,418.8 534.0,424.7 538.7,429.5 543.4,430.9"/><polyline points="498.8,437.1 503.5,431.9 510.6,430.7 517.7,427.2 516.5,420.1 524.8,417.7 530.7,423.6 535.4,429.5 541.4,433.1 547.3,436.6 556.7,441.4 568.5,446.1 580.4,449.6 592.2,452.0 604.0,454.8 610.6,456.7 622.9,456.2 634.7,455.5 641.8,454.8 665.4,452.5 689.1,450.1 712.7,447.3 726.9,443.7 736.3,435.4 743.4,428.4"/><polyline points="537.8,431.9 547.3,424.8 554.4,420.1 561.9,415.4 559.1,408.3 556.7,402.4 559.1,398.8"/><polyline points="610.6,456.7 613.4,462.6 611.1,468.5 613.4,475.6 617.0,482.7 618.2,489.8 620.5,495.7 625.3,499.3 628.8,502.1 625.3,506.3 624.1,513.4 622.9,518.2 624.1,520.5 618.2,525.3 611.1,530.0 604.0,534.7 598.1,539.4 594.5,541.8 594.1,548.9 601.6,550.1 602.8,556.0 604.0,563.1 613.4,563.5 622.9,564.2 632.3,564.7 637.1,565.4"/><polyline points="641.8,454.8 647.7,463.8 652.4,475.6 654.8,487.4 654.8,499.3 652.4,508.7 651.2,513.4 656.0,517.0 663.1,518.2 667.8,522.9 670.2,527.6 665.4,532.3 660.7,539.4 658.3,546.5 659.5,553.6 653.6,557.2 646.5,563.1 641.8,566.6 637.1,565.4 630.0,567.8 628.8,571.3 634.7,573.7 641.8,570.2"/><polyline points="510.6,494.5 516.5,501.6 523.6,511.1 528.4,514.6 537.8,513.4 549.6,511.1 561.4,509.9 570.9,508.7 578.0,509.2 582.7,513.4 587.4,520.5 591.0,528.8 594.5,537.1 594.5,541.8"/><polyline points="526.0,480.8 521.3,485.1 514.2,491.0 510.6,494.5 507.1,499.3 510.6,504.0 509.5,509.9"/><polyline points="722.1,467.4 726.9,470.9 730.4,475.6 734.0,481.5 738.7,483.9 743.4,485.1"/><polyline points="670.2,522.9 679.6,520.5 686.7,518.2 696.2,520.5 705.6,522.9 715.1,521.7 719.8,515.8 723.3,511.1 729.2,508.2 736.3,509.2 743.4,511.1"/><polyline points="712.7,447.3 713.9,454.4 716.2,461.4 721.0,466.2"/><polyline points="755.5,398.8 757.9,404.7 756.7,409.5 762.6,410.6 767.4,409.5 773.3,407.1 778.0,405.9 781.5,408.3 787.4,407.1 793.3,408.3 799.3,410.6 806.3,413.0 813.4,415.4 820.5,416.5 827.6,415.4 833.5,414.7 839.4,416.5 843.0,422.5 845.3,428.4 846.5,433.1 851.2,434.3 852.4,437.8 847.7,439.0 839.4,441.4 832.3,444.9 826.4,450.8 822.9,456.7 824.1,463.8 826.4,470.9 830.0,478.0 832.3,485.1 833.5,493.3 831.2,499.3 830.0,504.0 831.2,509.9 830.0,515.8 828.8,522.9"/><polyline points="767.4,409.5 768.5,416.5 769.0,423.6"/><polyline points="846.5,433.1 847.0,423.6 847.7,414.2 847.7,404.7 848.4,398.8"/><polyline points="830.0,504.0 822.9,505.2 815.8,504.0 806.3,502.8 794.5,501.6 785.1,502.8 775.6,505.2 768.5,507.5 761.4,508.7 754.4,509.9 747.3,509.2 742.5,507.5 737.8,508.2 730.7,507.5 724.8,508.7 720.1,512.3 717.7,518.2 716.5,525.3 711.8,526.4 704.7,525.3 698.8,524.8"/><polyline points="747.3,509.2 744.9,504.0 741.4,499.3 742.5,492.2 740.2,485.1 735.4,480.4 730.7,475.6 726.0,470.9 722.5,466.2 720.1,459.1 718.9,452.0 720.1,444.9 722.5,437.8 727.2,431.9 733.1,427.2 740.2,424.8"/><g clip-path="url(#kc0)"><polyline points="517.9,501.8 522.6,508.9 527.3,513.6 542.7,512.5 556.9,511.3 573.4,510.1"/><polyline points="365.4,543.2 370.2,538.4 377.3,534.9 386.7,533.2 396.2,534.9 402.1,538.4 406.8,545.5 410.4,552.6 415.1,558.5 424.5,559.2 425.7,531.4 426.9,503.0 427.4,501.8"/></g><polyline points="594.1,544.2 594.8,548.1 603.4,548.9 603.8,562.2 631.6,564.5 642.5,562.2 647.2,557.5 651.9,552.8 656.6,549.7 661.2,548.1 665.2,544.2"/></g>
<circle cx="217.3" cy="189.0" r="3.8" fill="#a52a2a"/><text class="s" x="224.9" y="193.5" font-size="15.3">Moscow</text><circle cx="363.9" cy="227.3" r="3.8" fill="#a52a2a"/><text class="s" x="370.2" y="232.0" font-size="15.3">Kazan</text><circle cx="367.4" cy="282.3" r="3.8" fill="#a52a2a"/><text class="s" x="373.8" y="287.0" font-size="15.3">Samara</text><circle cx="304.5" cy="311.2" r="3.8" fill="#a52a2a"/><text class="s" x="310.7" y="315.9" font-size="15.3">Saratov</text><circle cx="264.6" cy="368.8" r="3.8" fill="#a52a2a"/><text class="s" x="271.0" y="372.8" font-size="15.3">Volgograd</text><circle cx="185.9" cy="377.1" r="3.8" fill="#a52a2a"/><text class="s" x="192.3" y="381.6" font-size="15.3">Rostov-on-Don</text><circle cx="317.8" cy="390.5" r="3.8" fill="#a52a2a"/><text class="s" x="324.6" y="395.3" font-size="15.3">Astrakhan</text><circle cx="230.1" cy="523.8" r="3.8" fill="#a52a2a"/><text class="s" x="236.2" y="528.5" font-size="15.3">Tbilisi</text><circle cx="219.7" cy="552.6" r="3.8" fill="#a52a2a"/><text class="s" x="226.5" y="557.4" font-size="15.3">Yerevan</text><circle cx="308.8" cy="569.2" r="3.8" fill="#a52a2a"/><text class="s" x="315.9" y="573.9" font-size="15.3">Baku</text><circle cx="321.8" cy="682.5" r="3.8" fill="#a52a2a"/><text class="s" x="332.4" y="676.7" font-size="15.3">Tehran</text><circle cx="457.0" cy="637.2" r="3.8" fill="#a52a2a"/><text class="s" x="464.5" y="641.3" font-size="15.3">Ashgabat</text><circle cx="431.5" cy="328.6" r="3.8" fill="#a52a2a"/><text class="s" x="438.0" y="332.6" font-size="15.3">Orenburg</text><circle cx="509.9" cy="219.0" r="3.8" fill="#a52a2a"/><text class="s" x="516.5" y="222.8" font-size="15.3">Yekaterinburg</text><circle cx="572.3" cy="205.5" r="3.8" fill="#a52a2a"/><text class="s" x="578.4" y="209.5" font-size="15.3">Tyumen</text><circle cx="796.3" cy="221.4" r="3.8" fill="#a52a2a"/><text class="s" x="803.4" y="226.0" font-size="15.3">Novosibirsk</text><circle cx="732.5" cy="523.6" r="3.8" fill="#a52a2a"/><text class="s" x="739.2" y="527.8" font-size="15.3">Bishkek</text><circle cx="649.6" cy="562.6" r="3.8" fill="#a52a2a"/><text class="s" x="656.0" y="567.3" font-size="15.3">Tashkent</text><circle cx="606.3" cy="607.0" r="3.8" fill="#a52a2a"/><text class="s" x="613.0" y="611.7" font-size="15.3">Samarkand</text><circle cx="641.3" cy="629.0" r="3.8" fill="#a52a2a"/><text class="s" x="648.4" y="633.0" font-size="15.3">Dushanbe</text><circle cx="378.0" cy="327.9" r="3.3" fill="#000"/><text x="385.1" y="332.6" font-size="14">Uralsk</text><circle cx="459.3" cy="357.9" r="3.3" fill="#000"/><text x="466.4" y="362.2" font-size="14">Aktobe</text><circle cx="371.4" cy="420.1" r="3.3" fill="#000"/><text x="378.0" y="424.3" font-size="14">Atyrau</text><circle cx="349.0" cy="495.2" r="3.3" fill="#000"/><text x="356.0" y="500.0" font-size="14">Aktau</text><circle cx="551.3" cy="295.1" r="3.3" fill="#000"/><text x="558.6" y="298.9" font-size="14">Kostanay</text><circle cx="623.6" cy="257.5" r="3.3" fill="#000"/><text x="630.4" y="261.8" font-size="14">Petropavlovsk</text><circle cx="630.0" cy="289.4" r="3.3" fill="#000"/><text x="636.8" y="293.5" font-size="14">Kokshetau</text><circle cx="735.4" cy="298.2" r="3.3" fill="#000"/><text x="741.5" y="302.9" font-size="14">Pavlodar</text><circle cx="690.7" cy="362.6" r="3.3" fill="#000"/><text x="697.1" y="366.4" font-size="14">Karaganda</text><circle cx="614.6" cy="415.4" r="3.3" fill="#000"/><text x="621.2" y="418.9" font-size="14">Zheskazgan</text><circle cx="583.4" cy="484.6" r="3.3" fill="#000"/><text x="590.3" y="488.1" font-size="14">Kyzylorda</text><circle cx="681.0" cy="520.7" r="3.3" fill="#000"/><text x="688.8" y="525.5" font-size="14">Taraz</text><circle cx="656.0" cy="537.3" r="3.3" fill="#000"/><text x="662.7" y="542.0" font-size="14">Shimkent</text><circle cx="788.5" cy="456.2" r="3.3" fill="#000"/><text x="794.7" y="460.3" font-size="14">Taldykurgan</text><circle cx="827.1" cy="331.5" r="3.3" fill="#000"/><text x="833.7" y="335.7" font-size="14">Ustkamen</text><polygon points="663.0,328.5 664.5,332.4 668.7,332.6 665.5,335.3 666.5,339.4 663.0,337.1 659.5,339.4 660.5,335.3 657.3,332.6 661.5,332.4" fill="none" stroke="#a52a2a" stroke-width="2"/><text class="s" x="669.5" y="339.0" font-size="16.3" font-weight="bold">Astana</text><polygon points="771.5,495.0 773.0,498.9 777.2,499.1 774.0,501.8 775.0,505.9 771.5,503.6 768.0,505.9 769.0,501.8 765.8,499.1 770.0,498.9" fill="none" stroke="#a52a2a" stroke-width="2"/><text class="s" x="779.5" y="505.5" font-size="16.3" font-weight="bold">Almaty</text><text x="459.0" y="185.9" font-size="20.5" class="b">H</text><text x="475.2" y="189.8" font-size="11.5" class="b">1022</text><text x="796.7" y="317.2" font-size="20.5" class="b">H</text><text x="812.9" y="321.2" font-size="11.5" class="b">1020</text><text x="805.5" y="486.4" font-size="20.5" class="b">L</text><text x="818.8" y="490.6" font-size="11.5" class="b">1013</text><text x="239.5" y="539.0" font-size="20.5" class="b">L</text><text x="247.5" y="538.5" font-size="11.5" class="b">1001</text><text x="493.8" y="661.8" font-size="20.5" class="b">L</text><text x="506.6" y="666.0" font-size="11.5" class="b">1002</text><text x="459.5" y="680.2" font-size="20.5" class="b">H</text><text x="474.5" y="684.3" font-size="11.5" class="b">1008</text><text x="647.8" y="661.5" font-size="20.5" class="b">L</text><text x="660.0" y="665.6" font-size="11.5" class="b">1002</text><text x="822.7" y="523.2" font-size="20.5" class="b">H</text><text x="838.4" y="527.3" font-size="11.5" class="b">1025</text><text x="779.5" y="604.2" font-size="20.5" class="b">L</text><text x="792.8" y="608.3" font-size="11.5" class="b">1011</text><text x="799.5" y="680.0" font-size="20.5" class="b">H</text><text x="815.3" y="684.2" font-size="11.5" class="b">1020</text><text x="221.0" y="687.5" font-size="20.5" class="b">H</text><rect x="485.2" y="216.4" width="44.2" height="20.0" fill="none" stroke="#5a5ad8" stroke-width="0.7"/><text x="488.3" y="232.8" font-size="16.9" class="b">1020</text><rect x="529.5" y="444.4" width="43.0" height="19.9" fill="none" stroke="#5a5ad8" stroke-width="0.7"/><text x="532.6" y="460.7" font-size="16.9" class="b">1010</text><rect x="327.5" y="302.3" width="43.5" height="19.6" fill="none" stroke="#5a5ad8" stroke-width="0.7"/><text x="330.8" y="318.5" font-size="16.9" class="b">1010</text><rect x="660.5" y="553.8" width="43.0" height="19.6" fill="none" stroke="#5a5ad8" stroke-width="0.7"/><text x="663.5" y="570.0" font-size="16.9" class="b">1010</text>
</g>
<rect x="180.5" y="141.5" width="725.9" height="542.5" fill="none" stroke="#000" stroke-width="1.3"/>
<text x="201.1" y="724" font-size="16.9" text-anchor="middle">45°E</text>
<text x="298.5" y="724" font-size="16.9" text-anchor="middle">50°E</text>
<text x="393.7" y="724" font-size="16.9" text-anchor="middle">55°E</text>
<text x="487.6" y="724" font-size="16.9" text-anchor="middle">60°E</text>
<text x="581.0" y="724" font-size="16.9" text-anchor="middle">65°E</text>
<text x="674.7" y="724" font-size="16.9" text-anchor="middle">70°E</text>
<text x="769.5" y="724" font-size="16.9" text-anchor="middle">75°E</text>
<text x="866.1" y="724" font-size="16.9" text-anchor="middle">80°E</text>
<text x="155" y="670.2" font-size="16.9" text-anchor="end">35°N</text>
<text x="155" y="550.9" font-size="16.9" text-anchor="end">40°N</text>
<text x="155" y="432.1" font-size="16.9" text-anchor="end">45°N</text>
<text x="155" y="312.7" font-size="16.9" text-anchor="end">50°N</text>
<text x="155" y="191.4" font-size="16.9" text-anchor="end">55°N</text>
<g stroke="#000" stroke-width="1"><line x1="201.1" y1="684.0" x2="201.1" y2="699.0"/><line x1="298.5" y1="684.0" x2="298.5" y2="699.0"/><line x1="393.7" y1="684.0" x2="393.7" y2="699.0"/><line x1="487.6" y1="684.0" x2="487.6" y2="699.0"/><line x1="581.0" y1="684.0" x2="581.0" y2="699.0"/><line x1="674.7" y1="684.0" x2="674.7" y2="699.0"/><line x1="769.5" y1="684.0" x2="769.5" y2="699.0"/><line x1="866.1" y1="684.0" x2="866.1" y2="699.0"/><line x1="165.5" y1="665.0" x2="180.5" y2="665.0"/><line x1="165.5" y1="545.7" x2="180.5" y2="545.7"/><line x1="165.5" y1="426.9" x2="180.5" y2="426.9"/><line x1="165.5" y1="307.5" x2="180.5" y2="307.5"/><line x1="165.5" y1="186.2" x2="180.5" y2="186.2"/></g>
<text x="179" y="32.5" font-size="21.1" stroke="#000" stroke-width="0.3">KAZHYDROMET REAL-TIME WRF</text>
<text x="907" y="31" font-size="14" text-anchor="end">Init: 2026-03-25_00:00:00</text>
<text x="907" y="47" font-size="14" text-anchor="end">Valid: 2026-03-29_12:00:00</text>
<text x="183.5" y="107" font-size="14" xml:space="preserve">surface air temperature   (C)</text>
<text x="183.5" y="122" font-size="14" xml:space="preserve">Sea Level Pressure   (hPa)</text>
<text x="903" y="752.3" font-size="17.6" text-anchor="end" class="b">Sea Level Pressure Contours: 900 to 1100 by 5</text>
<text x="543" y="810.5" font-size="17.5" text-anchor="middle" xml:space="preserve">surface air temperature  (C)</text>
<rect x="282.00" y="819.5" width="26.11" height="25.7" fill="#8020F0" stroke="#333" stroke-width="0.6"/>
<rect x="308.12" y="819.5" width="26.11" height="25.7" fill="#4010F0" stroke="#333" stroke-width="0.6"/>
<rect x="334.23" y="819.5" width="26.11" height="25.7" fill="#1418F5" stroke="#333" stroke-width="0.6"/>
<rect x="360.35" y="819.5" width="26.11" height="25.7" fill="#3C5AE0" stroke="#333" stroke-width="0.6"/>
<rect x="386.46" y="819.5" width="26.11" height="25.7" fill="#3278E8" stroke="#333" stroke-width="0.6"/>
<rect x="412.57" y="819.5" width="26.11" height="25.7" fill="#1E96FA" stroke="#333" stroke-width="0.6"/>
<rect x="438.69" y="819.5" width="26.11" height="25.7" fill="#0AB4FF" stroke="#333" stroke-width="0.6"/>
<rect x="464.80" y="819.5" width="26.11" height="25.7" fill="#3CC3F5" stroke="#333" stroke-width="0.6"/>
<rect x="490.92" y="819.5" width="26.11" height="25.7" fill="#8CCDF0" stroke="#333" stroke-width="0.6"/>
<rect x="517.03" y="819.5" width="26.11" height="25.7" fill="#B4E1F5" stroke="#333" stroke-width="0.6"/>
<rect x="543.15" y="819.5" width="26.11" height="25.7" fill="#FFFAAA" stroke="#333" stroke-width="0.6"/>
<rect x="569.26" y="819.5" width="26.11" height="25.7" fill="#FFE650" stroke="#333" stroke-width="0.6"/>
<rect x="595.38" y="819.5" width="26.11" height="25.7" fill="#FFC828" stroke="#333" stroke-width="0.6"/>
<rect x="621.50" y="819.5" width="26.11" height="25.7" fill="#FFA50A" stroke="#333" stroke-width="0.6"/>
<rect x="647.61" y="819.5" width="26.11" height="25.7" fill="#FF8200" stroke="#333" stroke-width="0.6"/>
<rect x="673.72" y="819.5" width="26.11" height="25.7" fill="#FF5014" stroke="#333" stroke-width="0.6"/>
<rect x="699.84" y="819.5" width="26.11" height="25.7" fill="#FF0A0A" stroke="#333" stroke-width="0.6"/>
<rect x="725.95" y="819.5" width="26.11" height="25.7" fill="#E00000" stroke="#333" stroke-width="0.6"/>
<rect x="752.07" y="819.5" width="26.11" height="25.7" fill="#D01818" stroke="#333" stroke-width="0.6"/>
<rect x="778.18" y="819.5" width="26.11" height="25.7" fill="#F08C8C" stroke="#333" stroke-width="0.6"/>
<text x="334.2" y="877" font-size="16.9" text-anchor="middle">-40</text>
<text x="386.5" y="877" font-size="16.9" text-anchor="middle">-30</text>
<text x="438.7" y="877" font-size="16.9" text-anchor="middle">-20</text>
<text x="490.9" y="877" font-size="16.9" text-anchor="middle">-10</text>
<text x="543.1" y="877" font-size="16.9" text-anchor="middle">0</text>
<text x="595.4" y="877" font-size="16.9" text-anchor="middle">10</text>
<text x="647.6" y="877" font-size="16.9" text-anchor="middle">20</text>
<text x="699.8" y="877" font-size="16.9" text-anchor="middle">30</text>
<text x="752.1" y="877" font-size="16.9" text-anchor="middle">40</text>
<text x="182.5" y="991" font-size="12.6">OUTPUT FROM WRF V4.2.1 MODEL</text>
<text x="182.5" y="1005.5" font-size="12.6">WE = 200 ; SN = 150 ; Levels = 33 ; Dis = 18km ; Phys Opt = 8 ; PBL Opt = 2 ; Cu Opt = 6</text>
</svg></body></html>
